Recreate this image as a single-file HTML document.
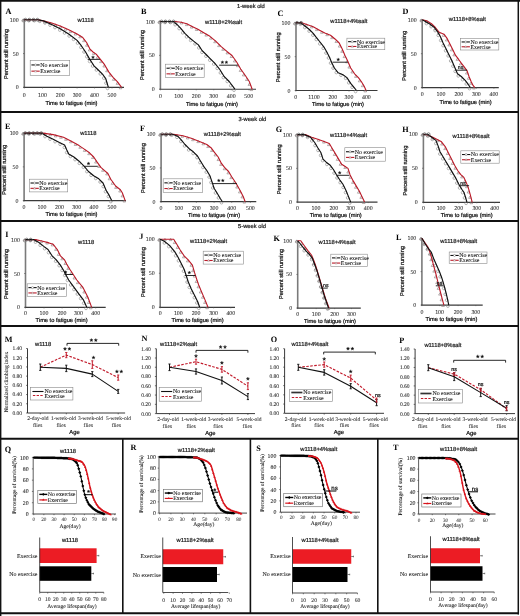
<!DOCTYPE html><html><head><meta charset="utf-8"><style>html,body{margin:0;padding:0;background:#fff;}svg{display:block;will-change:transform;} text{text-rendering:geometricPrecision;}</style></head><body>
<svg width="520" height="616" viewBox="0 0 520 616">
<rect x="0" y="0" width="520" height="616" fill="#fff" stroke="none" stroke-width="0"/>
<text x="5.6" y="13.9" font-size="8.2" font-family='"Liberation Serif", serif' text-anchor="start" fill="#000" font-weight="bold" >A</text>
<text x="77.5" y="22" font-size="5.8" font-family='"Liberation Sans", sans-serif' text-anchor="start" fill="#222" stroke="#222" stroke-width="0.22" >w1118</text>
<line x1="24.3" y1="19.7" x2="24.3" y2="87.4" stroke="#7a7a7a" stroke-width="1.6" />
<line x1="23.5" y1="87.4" x2="124" y2="87.4" stroke="#3a3a3a" stroke-width="1.2" />
<line x1="23" y1="19.7" x2="24.3" y2="19.7" stroke="#555" stroke-width="0.7" />
<text x="18.7" y="21.7" font-size="5.9" font-family='"Liberation Serif", serif' text-anchor="end" fill="#333" stroke="#333" stroke-width="0.08" >100</text>
<line x1="23" y1="53.55" x2="24.3" y2="53.55" stroke="#555" stroke-width="0.7" />
<text x="18.7" y="55.55" font-size="5.9" font-family='"Liberation Serif", serif' text-anchor="end" fill="#333" stroke="#333" stroke-width="0.08" >50</text>
<line x1="23" y1="87.4" x2="24.3" y2="87.4" stroke="#555" stroke-width="0.7" />
<text x="18.7" y="89.4" font-size="5.9" font-family='"Liberation Serif", serif' text-anchor="end" fill="#333" stroke="#333" stroke-width="0.08" >0</text>
<line x1="24.3" y1="87.4" x2="24.3" y2="88.4" stroke="#555" stroke-width="0.7" />
<text x="24.3" y="96.5" font-size="5.9" font-family='"Liberation Serif", serif' text-anchor="middle" fill="#333" stroke="#333" stroke-width="0.08" >0</text>
<line x1="42.5" y1="87.4" x2="42.5" y2="88.4" stroke="#555" stroke-width="0.7" />
<text x="42.5" y="96.5" font-size="5.9" font-family='"Liberation Serif", serif' text-anchor="middle" fill="#333" stroke="#333" stroke-width="0.08" >100</text>
<line x1="60.2" y1="87.4" x2="60.2" y2="88.4" stroke="#555" stroke-width="0.7" />
<text x="60.2" y="96.5" font-size="5.9" font-family='"Liberation Serif", serif' text-anchor="middle" fill="#333" stroke="#333" stroke-width="0.08" >200</text>
<line x1="77.1" y1="87.4" x2="77.1" y2="88.4" stroke="#555" stroke-width="0.7" />
<text x="77.1" y="96.5" font-size="5.9" font-family='"Liberation Serif", serif' text-anchor="middle" fill="#333" stroke="#333" stroke-width="0.08" >300</text>
<line x1="94.5" y1="87.4" x2="94.5" y2="88.4" stroke="#555" stroke-width="0.7" />
<text x="94.5" y="96.5" font-size="5.9" font-family='"Liberation Serif", serif' text-anchor="middle" fill="#333" stroke="#333" stroke-width="0.08" >400</text>
<line x1="112" y1="87.4" x2="112" y2="88.4" stroke="#555" stroke-width="0.7" />
<text x="112" y="96.5" font-size="5.9" font-family='"Liberation Serif", serif' text-anchor="middle" fill="#333" stroke="#333" stroke-width="0.08" >500</text>
<text x="71.5" y="104.6" font-size="5.7" font-family='"Liberation Sans", sans-serif' text-anchor="middle" fill="#111" stroke="#111" stroke-width="0.22" >Time to fatigue (min)</text>
<text x="7.5" y="54" font-size="5.7" font-family='"Liberation Sans", sans-serif' text-anchor="middle" fill="#111" stroke="#111" stroke-width="0.22" transform="rotate(-90 7.5 54)" >Percent still running</text>
<path d="M23.3,18.8 l1.35,2.3 h-2.7 z" fill="none" stroke="#8a7a7a" stroke-width="0.6"/>
<path d="M28.78,18.8 l1.35,2.3 h-2.7 z" fill="none" stroke="#8a7a7a" stroke-width="0.6"/>
<path d="M34.25,18.8 l1.35,2.3 h-2.7 z" fill="none" stroke="#8a7a7a" stroke-width="0.6"/>
<path d="M39.66,19.38 l1.35,2.3 h-2.7 z" fill="none" stroke="#8a7a7a" stroke-width="0.6"/>
<path d="M44.99,20.65 l1.35,2.3 h-2.7 z" fill="none" stroke="#8a7a7a" stroke-width="0.6"/>
<path d="M50.3,21.97 l1.35,2.3 h-2.7 z" fill="none" stroke="#8a7a7a" stroke-width="0.6"/>
<path d="M55.48,23.75 l1.35,2.3 h-2.7 z" fill="none" stroke="#8a7a7a" stroke-width="0.6"/>
<path d="M60.6,25.68 l1.35,2.3 h-2.7 z" fill="none" stroke="#8a7a7a" stroke-width="0.6"/>
<path d="M65.59,27.91 l1.35,2.3 h-2.7 z" fill="none" stroke="#8a7a7a" stroke-width="0.6"/>
<path d="M70.54,30.27 l1.35,2.3 h-2.7 z" fill="none" stroke="#8a7a7a" stroke-width="0.6"/>
<path d="M75.43,32.72 l1.35,2.3 h-2.7 z" fill="none" stroke="#8a7a7a" stroke-width="0.6"/>
<path d="M80.15,35.49 l1.35,2.3 h-2.7 z" fill="none" stroke="#8a7a7a" stroke-width="0.6"/>
<path d="M83.92,39.36 l1.35,2.3 h-2.7 z" fill="none" stroke="#8a7a7a" stroke-width="0.6"/>
<path d="M86.88,43.93 l1.35,2.3 h-2.7 z" fill="none" stroke="#8a7a7a" stroke-width="0.6"/>
<path d="M89.62,48.62 l1.35,2.3 h-2.7 z" fill="none" stroke="#8a7a7a" stroke-width="0.6"/>
<path d="M93.75,52.18 l1.35,2.3 h-2.7 z" fill="none" stroke="#8a7a7a" stroke-width="0.6"/>
<path d="M97.55,56.04 l1.35,2.3 h-2.7 z" fill="none" stroke="#8a7a7a" stroke-width="0.6"/>
<path d="M100.95,60.33 l1.35,2.3 h-2.7 z" fill="none" stroke="#8a7a7a" stroke-width="0.6"/>
<path d="M104.23,64.71 l1.35,2.3 h-2.7 z" fill="none" stroke="#8a7a7a" stroke-width="0.6"/>
<path d="M106.98,69.44 l1.35,2.3 h-2.7 z" fill="none" stroke="#8a7a7a" stroke-width="0.6"/>
<path d="M110.14,73.9 l1.35,2.3 h-2.7 z" fill="none" stroke="#8a7a7a" stroke-width="0.6"/>
<path d="M113.72,78.02 l1.35,2.3 h-2.7 z" fill="none" stroke="#8a7a7a" stroke-width="0.6"/>
<path d="M117.41,82.05 l1.35,2.3 h-2.7 z" fill="none" stroke="#8a7a7a" stroke-width="0.6"/>
<path d="M120.6,86.5 l1.35,2.3 h-2.7 z" fill="none" stroke="#8a7a7a" stroke-width="0.6"/>
<circle cx="23.3" cy="20.7" r="1.35" fill="none" stroke="#858585" stroke-width="0.6"/>
<circle cx="28.8" cy="20.7" r="1.35" fill="none" stroke="#858585" stroke-width="0.6"/>
<circle cx="34.31" cy="20.7" r="1.35" fill="none" stroke="#858585" stroke-width="0.6"/>
<circle cx="39.75" cy="21.3" r="1.35" fill="none" stroke="#858585" stroke-width="0.6"/>
<circle cx="44.96" cy="23" r="1.35" fill="none" stroke="#858585" stroke-width="0.6"/>
<circle cx="50.02" cy="25.16" r="1.35" fill="none" stroke="#858585" stroke-width="0.6"/>
<circle cx="54.95" cy="27.6" r="1.35" fill="none" stroke="#858585" stroke-width="0.6"/>
<circle cx="59.84" cy="30.13" r="1.35" fill="none" stroke="#858585" stroke-width="0.6"/>
<circle cx="64.53" cy="33" r="1.35" fill="none" stroke="#858585" stroke-width="0.6"/>
<circle cx="69.13" cy="36.01" r="1.35" fill="none" stroke="#858585" stroke-width="0.6"/>
<circle cx="73.51" cy="39.35" r="1.35" fill="none" stroke="#858585" stroke-width="0.6"/>
<circle cx="77.52" cy="43.06" r="1.35" fill="none" stroke="#858585" stroke-width="0.6"/>
<circle cx="80.89" cy="47.41" r="1.35" fill="none" stroke="#858585" stroke-width="0.6"/>
<circle cx="83.99" cy="51.96" r="1.35" fill="none" stroke="#858585" stroke-width="0.6"/>
<circle cx="86.8" cy="56.69" r="1.35" fill="none" stroke="#858585" stroke-width="0.6"/>
<circle cx="89.58" cy="61.44" r="1.35" fill="none" stroke="#858585" stroke-width="0.6"/>
<circle cx="92.6" cy="66.04" r="1.35" fill="none" stroke="#858585" stroke-width="0.6"/>
<circle cx="96.39" cy="70.01" r="1.35" fill="none" stroke="#858585" stroke-width="0.6"/>
<circle cx="100.29" cy="73.89" r="1.35" fill="none" stroke="#858585" stroke-width="0.6"/>
<circle cx="103.78" cy="78.13" r="1.35" fill="none" stroke="#858585" stroke-width="0.6"/>
<circle cx="105.9" cy="83.13" r="1.35" fill="none" stroke="#858585" stroke-width="0.6"/>
<circle cx="107.5" cy="88.4" r="1.35" fill="none" stroke="#858585" stroke-width="0.6"/>
<polyline points="24.2,19.7 38,19.7 43.3,20.9 51.7,23 60.2,26 68.7,29.8 77.1,34 82.4,37.2 86.6,42.5 89.8,48.8 93,52 96.2,54.1 100.4,59.4 104.6,64.7 108.9,72.1 113.1,77.4 117.3,81.6 120.5,85.9 121.5,87.4" fill="none" stroke="#bb1a28" stroke-width="1.1" stroke-linejoin="round" />
<polyline points="24.2,19.7 38,19.7 43.3,20.9 51.7,24.5 60.2,28.8 68.7,34 77.1,40.4 81.3,45.7 85.6,52 89.8,59.4 94,65.8 98.3,70 102.5,74.2 105.7,78.5 108.4,87.4" fill="none" stroke="#111" stroke-width="1.15" stroke-linejoin="round" />
<circle cx="25.4" cy="19.7" r="1.45" fill="none" stroke="#555" stroke-width="0.7"/>
<circle cx="29.4" cy="19.7" r="1.45" fill="none" stroke="#555" stroke-width="0.7"/>
<circle cx="33.4" cy="19.7" r="1.45" fill="none" stroke="#555" stroke-width="0.7"/>
<circle cx="37.4" cy="19.7" r="1.45" fill="none" stroke="#555" stroke-width="0.7"/>
<rect x="30.2" y="60.5" width="39.5" height="14.8" fill="#fff" stroke="#8a8a8a" stroke-width="0.6"/>
<line x1="31.4" y1="64.94" x2="39.7" y2="64.94" stroke="#111" stroke-width="1.1" />
<circle cx="35.5" cy="64.94" r="1.05" fill="#fff" stroke="#777" stroke-width="0.5"/>
<line x1="31.4" y1="71.16" x2="39.7" y2="71.16" stroke="#bb1a28" stroke-width="1.1" />
<path d="M35.5,70.06 l1.1,1.9 h-2.2 z" fill="#fff" stroke="#a08080" stroke-width="0.5"/>
<text x="40.2" y="66.84" font-size="5.9" font-family='"Liberation Serif", serif' text-anchor="start" fill="#111" stroke="#111" stroke-width="0.08" >No exercise</text>
<text x="40.2" y="73.06" font-size="5.9" font-family='"Liberation Serif", serif' text-anchor="start" fill="#111" stroke="#111" stroke-width="0.08" >Exercise</text>
<line x1="87.7" y1="59.4" x2="100" y2="59.4" stroke="#111" stroke-width="0.9" />
<path d="M93,55.7 L93.44,56.69 L94.52,56.81 L93.71,57.53 L93.94,58.59 L93,58.05 L92.06,58.59 L92.29,57.53 L91.48,56.81 L92.56,56.69Z" fill="#111" stroke="#111" stroke-width="0.3" stroke-linejoin="round"/>
<text x="141" y="14" font-size="8.2" font-family='"Liberation Serif", serif' text-anchor="start" fill="#000" font-weight="bold" >B</text>
<text x="205" y="23.75" font-size="5.8" font-family='"Liberation Sans", sans-serif' text-anchor="start" fill="#222" stroke="#222" stroke-width="0.22" >w1118+2%salt</text>
<line x1="160.4" y1="21.5" x2="160.4" y2="89.25" stroke="#7a7a7a" stroke-width="1.6" />
<line x1="159.6" y1="89.25" x2="256" y2="89.25" stroke="#3a3a3a" stroke-width="1.2" />
<line x1="159.1" y1="21.5" x2="160.4" y2="21.5" stroke="#555" stroke-width="0.7" />
<text x="154.8" y="23.5" font-size="5.9" font-family='"Liberation Serif", serif' text-anchor="end" fill="#333" stroke="#333" stroke-width="0.08" >100</text>
<line x1="159.1" y1="55.38" x2="160.4" y2="55.38" stroke="#555" stroke-width="0.7" />
<text x="154.8" y="57.38" font-size="5.9" font-family='"Liberation Serif", serif' text-anchor="end" fill="#333" stroke="#333" stroke-width="0.08" >50</text>
<line x1="159.1" y1="89.25" x2="160.4" y2="89.25" stroke="#555" stroke-width="0.7" />
<text x="154.8" y="91.25" font-size="5.9" font-family='"Liberation Serif", serif' text-anchor="end" fill="#333" stroke="#333" stroke-width="0.08" >0</text>
<line x1="160.5" y1="89.25" x2="160.5" y2="90.25" stroke="#555" stroke-width="0.7" />
<text x="160.5" y="97.65" font-size="5.9" font-family='"Liberation Serif", serif' text-anchor="middle" fill="#333" stroke="#333" stroke-width="0.08" >0</text>
<line x1="178.75" y1="89.25" x2="178.75" y2="90.25" stroke="#555" stroke-width="0.7" />
<text x="178.75" y="97.65" font-size="5.9" font-family='"Liberation Serif", serif' text-anchor="middle" fill="#333" stroke="#333" stroke-width="0.08" >100</text>
<line x1="196.25" y1="89.25" x2="196.25" y2="90.25" stroke="#555" stroke-width="0.7" />
<text x="196.25" y="97.65" font-size="5.9" font-family='"Liberation Serif", serif' text-anchor="middle" fill="#333" stroke="#333" stroke-width="0.08" >200</text>
<line x1="213.75" y1="89.25" x2="213.75" y2="90.25" stroke="#555" stroke-width="0.7" />
<text x="213.75" y="97.65" font-size="5.9" font-family='"Liberation Serif", serif' text-anchor="middle" fill="#333" stroke="#333" stroke-width="0.08" >300</text>
<line x1="231.25" y1="89.25" x2="231.25" y2="90.25" stroke="#555" stroke-width="0.7" />
<text x="231.25" y="97.65" font-size="5.9" font-family='"Liberation Serif", serif' text-anchor="middle" fill="#333" stroke="#333" stroke-width="0.08" >400</text>
<line x1="248.75" y1="89.25" x2="248.75" y2="90.25" stroke="#555" stroke-width="0.7" />
<text x="248.75" y="97.65" font-size="5.9" font-family='"Liberation Serif", serif' text-anchor="middle" fill="#333" stroke="#333" stroke-width="0.08" >500</text>
<text x="212" y="105.6" font-size="5.7" font-family='"Liberation Sans", sans-serif' text-anchor="middle" fill="#111" stroke="#111" stroke-width="0.22" >Time to fatigue (min)</text>
<text x="143.5" y="55" font-size="5.7" font-family='"Liberation Sans", sans-serif' text-anchor="middle" fill="#111" stroke="#111" stroke-width="0.22" transform="rotate(-90 143.5 55)" >Percent still running</text>
<path d="M159.4,20.6 l1.35,2.3 h-2.7 z" fill="none" stroke="#8a7a7a" stroke-width="0.6"/>
<path d="M164.94,20.6 l1.35,2.3 h-2.7 z" fill="none" stroke="#8a7a7a" stroke-width="0.6"/>
<path d="M170.48,20.6 l1.35,2.3 h-2.7 z" fill="none" stroke="#8a7a7a" stroke-width="0.6"/>
<path d="M176,20.79 l1.35,2.3 h-2.7 z" fill="none" stroke="#8a7a7a" stroke-width="0.6"/>
<path d="M181.46,21.65 l1.35,2.3 h-2.7 z" fill="none" stroke="#8a7a7a" stroke-width="0.6"/>
<path d="M186.73,23.31 l1.35,2.3 h-2.7 z" fill="none" stroke="#8a7a7a" stroke-width="0.6"/>
<path d="M191.68,25.79 l1.35,2.3 h-2.7 z" fill="none" stroke="#8a7a7a" stroke-width="0.6"/>
<path d="M196.67,28.2 l1.35,2.3 h-2.7 z" fill="none" stroke="#8a7a7a" stroke-width="0.6"/>
<path d="M201.45,30.98 l1.35,2.3 h-2.7 z" fill="none" stroke="#8a7a7a" stroke-width="0.6"/>
<path d="M206.22,33.79 l1.35,2.3 h-2.7 z" fill="none" stroke="#8a7a7a" stroke-width="0.6"/>
<path d="M210.8,36.89 l1.35,2.3 h-2.7 z" fill="none" stroke="#8a7a7a" stroke-width="0.6"/>
<path d="M215.04,40.44 l1.35,2.3 h-2.7 z" fill="none" stroke="#8a7a7a" stroke-width="0.6"/>
<path d="M218.99,44.32 l1.35,2.3 h-2.7 z" fill="none" stroke="#8a7a7a" stroke-width="0.6"/>
<path d="M223.09,48.04 l1.35,2.3 h-2.7 z" fill="none" stroke="#8a7a7a" stroke-width="0.6"/>
<path d="M227.32,51.61 l1.35,2.3 h-2.7 z" fill="none" stroke="#8a7a7a" stroke-width="0.6"/>
<path d="M231.52,55.19 l1.35,2.3 h-2.7 z" fill="none" stroke="#8a7a7a" stroke-width="0.6"/>
<path d="M234.74,59.69 l1.35,2.3 h-2.7 z" fill="none" stroke="#8a7a7a" stroke-width="0.6"/>
<path d="M237.67,64.38 l1.35,2.3 h-2.7 z" fill="none" stroke="#8a7a7a" stroke-width="0.6"/>
<path d="M240.53,69.12 l1.35,2.3 h-2.7 z" fill="none" stroke="#8a7a7a" stroke-width="0.6"/>
<path d="M243.75,73.62 l1.35,2.3 h-2.7 z" fill="none" stroke="#8a7a7a" stroke-width="0.6"/>
<path d="M246.84,78.22 l1.35,2.3 h-2.7 z" fill="none" stroke="#8a7a7a" stroke-width="0.6"/>
<path d="M249.35,83.12 l1.35,2.3 h-2.7 z" fill="none" stroke="#8a7a7a" stroke-width="0.6"/>
<path d="M251.3,88.3 l1.35,2.3 h-2.7 z" fill="none" stroke="#8a7a7a" stroke-width="0.6"/>
<circle cx="159.4" cy="22.5" r="1.35" fill="none" stroke="#858585" stroke-width="0.6"/>
<circle cx="164.93" cy="22.5" r="1.35" fill="none" stroke="#858585" stroke-width="0.6"/>
<circle cx="170.46" cy="22.5" r="1.35" fill="none" stroke="#858585" stroke-width="0.6"/>
<circle cx="175.17" cy="24.75" r="1.35" fill="none" stroke="#858585" stroke-width="0.6"/>
<circle cx="179.13" cy="28.61" r="1.35" fill="none" stroke="#858585" stroke-width="0.6"/>
<circle cx="182.71" cy="32.82" r="1.35" fill="none" stroke="#858585" stroke-width="0.6"/>
<circle cx="186.5" cy="36.84" r="1.35" fill="none" stroke="#858585" stroke-width="0.6"/>
<circle cx="190.68" cy="40.46" r="1.35" fill="none" stroke="#858585" stroke-width="0.6"/>
<circle cx="194.99" cy="43.92" r="1.35" fill="none" stroke="#858585" stroke-width="0.6"/>
<circle cx="198.78" cy="47.85" r="1.35" fill="none" stroke="#858585" stroke-width="0.6"/>
<circle cx="201.97" cy="52.35" r="1.35" fill="none" stroke="#858585" stroke-width="0.6"/>
<circle cx="205.91" cy="56.23" r="1.35" fill="none" stroke="#858585" stroke-width="0.6"/>
<circle cx="209.78" cy="60.18" r="1.35" fill="none" stroke="#858585" stroke-width="0.6"/>
<circle cx="213.69" cy="64.09" r="1.35" fill="none" stroke="#858585" stroke-width="0.6"/>
<circle cx="217.23" cy="68.35" r="1.35" fill="none" stroke="#858585" stroke-width="0.6"/>
<circle cx="220.39" cy="72.87" r="1.35" fill="none" stroke="#858585" stroke-width="0.6"/>
<circle cx="223.32" cy="77.57" r="1.35" fill="none" stroke="#858585" stroke-width="0.6"/>
<circle cx="227.24" cy="81.46" r="1.35" fill="none" stroke="#858585" stroke-width="0.6"/>
<circle cx="230.71" cy="85.75" r="1.35" fill="none" stroke="#858585" stroke-width="0.6"/>
<circle cx="234" cy="90.2" r="1.35" fill="none" stroke="#858585" stroke-width="0.6"/>
<polyline points="160.3,21.5 175.3,21.5 181.1,22.2 186.8,23.8 192.6,26.7 198.4,29.5 204.2,33 209.9,36.3 215.7,41.1 221.5,46.8 227.2,51.7 232,55.5 236.8,62.2 240.7,69 245.5,75.7 249.3,81.5 252.2,89.2" fill="none" stroke="#bb1a28" stroke-width="1.1" stroke-linejoin="round" />
<polyline points="160.3,21.5 173.4,21.5 177.2,24.7 181,28.6 184.9,33.4 188.8,37.2 193.6,41.1 198.4,44.9 202.2,50.7 206.1,54.5 209.9,58.4 214.7,63.2 219.5,69 224.3,76.7 229.2,81.5 234.9,89.2" fill="none" stroke="#111" stroke-width="1.15" stroke-linejoin="round" />
<circle cx="161.5" cy="21.5" r="1.45" fill="none" stroke="#555" stroke-width="0.7"/>
<circle cx="165.5" cy="21.5" r="1.45" fill="none" stroke="#555" stroke-width="0.7"/>
<circle cx="169.5" cy="21.5" r="1.45" fill="none" stroke="#555" stroke-width="0.7"/>
<circle cx="173.5" cy="21.5" r="1.45" fill="none" stroke="#555" stroke-width="0.7"/>
<rect x="165.3" y="64.2" width="38.9" height="13.4" fill="#fff" stroke="#8a8a8a" stroke-width="0.6"/>
<line x1="166.5" y1="68.22" x2="174.8" y2="68.22" stroke="#111" stroke-width="1.1" />
<circle cx="170.6" cy="68.22" r="1.05" fill="#fff" stroke="#777" stroke-width="0.5"/>
<line x1="166.5" y1="73.85" x2="174.8" y2="73.85" stroke="#bb1a28" stroke-width="1.1" />
<path d="M170.6,72.75 l1.1,1.9 h-2.2 z" fill="#fff" stroke="#a08080" stroke-width="0.5"/>
<text x="175.3" y="70.12" font-size="5.9" font-family='"Liberation Serif", serif' text-anchor="start" fill="#111" stroke="#111" stroke-width="0.08" >No exercise</text>
<text x="175.3" y="75.75" font-size="5.9" font-family='"Liberation Serif", serif' text-anchor="start" fill="#111" stroke="#111" stroke-width="0.08" >Exercise</text>
<line x1="219.2" y1="65.2" x2="237.8" y2="65.2" stroke="#111" stroke-width="0.9" />
<path d="M222.4,60.7 L222.84,61.69 L223.92,61.81 L223.11,62.53 L223.34,63.59 L222.4,63.05 L221.46,63.59 L221.69,62.53 L220.88,61.81 L221.96,61.69Z" fill="#111" stroke="#111" stroke-width="0.3" stroke-linejoin="round"/>
<path d="M226.4,60.7 L226.84,61.69 L227.92,61.81 L227.11,62.53 L227.34,63.59 L226.4,63.05 L225.46,63.59 L225.69,62.53 L224.88,61.81 L225.96,61.69Z" fill="#111" stroke="#111" stroke-width="0.3" stroke-linejoin="round"/>
<text x="277.5" y="15.8" font-size="8.2" font-family='"Liberation Serif", serif' text-anchor="start" fill="#000" font-weight="bold" >C</text>
<text x="330.3" y="23.3" font-size="5.8" font-family='"Liberation Sans", sans-serif' text-anchor="start" fill="#222" stroke="#222" stroke-width="0.22" >w1118+4%salt</text>
<line x1="296" y1="22.8" x2="296" y2="90.5" stroke="#7a7a7a" stroke-width="1.6" />
<line x1="295.2" y1="90.5" x2="377.5" y2="90.5" stroke="#3a3a3a" stroke-width="1.2" />
<line x1="294.7" y1="22.8" x2="296" y2="22.8" stroke="#555" stroke-width="0.7" />
<text x="290.4" y="24.8" font-size="5.9" font-family='"Liberation Serif", serif' text-anchor="end" fill="#333" stroke="#333" stroke-width="0.08" >100</text>
<line x1="294.7" y1="56.65" x2="296" y2="56.65" stroke="#555" stroke-width="0.7" />
<text x="290.4" y="58.65" font-size="5.9" font-family='"Liberation Serif", serif' text-anchor="end" fill="#333" stroke="#333" stroke-width="0.08" >50</text>
<line x1="294.7" y1="90.5" x2="296" y2="90.5" stroke="#555" stroke-width="0.7" />
<text x="290.4" y="92.5" font-size="5.9" font-family='"Liberation Serif", serif' text-anchor="end" fill="#333" stroke="#333" stroke-width="0.08" >0</text>
<line x1="295.8" y1="90.5" x2="295.8" y2="91.5" stroke="#555" stroke-width="0.7" />
<text x="295.8" y="98.9" font-size="5.9" font-family='"Liberation Serif", serif' text-anchor="middle" fill="#333" stroke="#333" stroke-width="0.08" >0</text>
<line x1="314" y1="90.5" x2="314" y2="91.5" stroke="#555" stroke-width="0.7" />
<text x="314" y="98.9" font-size="5.9" font-family='"Liberation Serif", serif' text-anchor="middle" fill="#333" stroke="#333" stroke-width="0.08" >1100</text>
<line x1="332.8" y1="90.5" x2="332.8" y2="91.5" stroke="#555" stroke-width="0.7" />
<text x="332.8" y="98.9" font-size="5.9" font-family='"Liberation Serif", serif' text-anchor="middle" fill="#333" stroke="#333" stroke-width="0.08" >200</text>
<line x1="349" y1="90.5" x2="349" y2="91.5" stroke="#555" stroke-width="0.7" />
<text x="349" y="98.9" font-size="5.9" font-family='"Liberation Serif", serif' text-anchor="middle" fill="#333" stroke="#333" stroke-width="0.08" >300</text>
<line x1="366.4" y1="90.5" x2="366.4" y2="91.5" stroke="#555" stroke-width="0.7" />
<text x="366.4" y="98.9" font-size="5.9" font-family='"Liberation Serif", serif' text-anchor="middle" fill="#333" stroke="#333" stroke-width="0.08" >400</text>
<text x="338" y="106.4" font-size="5.7" font-family='"Liberation Sans", sans-serif' text-anchor="middle" fill="#111" stroke="#111" stroke-width="0.22" >Time to fatigue (min)</text>
<text x="280.3" y="57.3" font-size="5.7" font-family='"Liberation Sans", sans-serif' text-anchor="middle" fill="#111" stroke="#111" stroke-width="0.22" transform="rotate(-90 280.3 57.3)" >Percent still running</text>
<path d="M295,21.9 l1.35,2.3 h-2.7 z" fill="none" stroke="#8a7a7a" stroke-width="0.6"/>
<path d="M300.77,21.9 l1.35,2.3 h-2.7 z" fill="none" stroke="#8a7a7a" stroke-width="0.6"/>
<path d="M306.26,23.69 l1.35,2.3 h-2.7 z" fill="none" stroke="#8a7a7a" stroke-width="0.6"/>
<path d="M311.71,25.59 l1.35,2.3 h-2.7 z" fill="none" stroke="#8a7a7a" stroke-width="0.6"/>
<path d="M316.8,28.28 l1.35,2.3 h-2.7 z" fill="none" stroke="#8a7a7a" stroke-width="0.6"/>
<path d="M321.88,31.02 l1.35,2.3 h-2.7 z" fill="none" stroke="#8a7a7a" stroke-width="0.6"/>
<path d="M327.13,33.4 l1.35,2.3 h-2.7 z" fill="none" stroke="#8a7a7a" stroke-width="0.6"/>
<path d="M332.01,36.36 l1.35,2.3 h-2.7 z" fill="none" stroke="#8a7a7a" stroke-width="0.6"/>
<path d="M336.33,40.18 l1.35,2.3 h-2.7 z" fill="none" stroke="#8a7a7a" stroke-width="0.6"/>
<path d="M339.65,44.8 l1.35,2.3 h-2.7 z" fill="none" stroke="#8a7a7a" stroke-width="0.6"/>
<path d="M342.12,50.02 l1.35,2.3 h-2.7 z" fill="none" stroke="#8a7a7a" stroke-width="0.6"/>
<path d="M344.44,55.3 l1.35,2.3 h-2.7 z" fill="none" stroke="#8a7a7a" stroke-width="0.6"/>
<path d="M346.94,60.5 l1.35,2.3 h-2.7 z" fill="none" stroke="#8a7a7a" stroke-width="0.6"/>
<path d="M349.24,65.8 l1.35,2.3 h-2.7 z" fill="none" stroke="#8a7a7a" stroke-width="0.6"/>
<path d="M352.23,70.71 l1.35,2.3 h-2.7 z" fill="none" stroke="#8a7a7a" stroke-width="0.6"/>
<path d="M355.92,75.12 l1.35,2.3 h-2.7 z" fill="none" stroke="#8a7a7a" stroke-width="0.6"/>
<path d="M359.61,79.54 l1.35,2.3 h-2.7 z" fill="none" stroke="#8a7a7a" stroke-width="0.6"/>
<path d="M362.7,84.41 l1.35,2.3 h-2.7 z" fill="none" stroke="#8a7a7a" stroke-width="0.6"/>
<path d="M365.2,89.6 l1.35,2.3 h-2.7 z" fill="none" stroke="#8a7a7a" stroke-width="0.6"/>
<circle cx="295" cy="23.8" r="1.35" fill="none" stroke="#858585" stroke-width="0.6"/>
<circle cx="300.4" cy="24.25" r="1.35" fill="none" stroke="#858585" stroke-width="0.6"/>
<circle cx="304.82" cy="27.59" r="1.35" fill="none" stroke="#858585" stroke-width="0.6"/>
<circle cx="309.1" cy="31.11" r="1.35" fill="none" stroke="#858585" stroke-width="0.6"/>
<circle cx="312.88" cy="35.16" r="1.35" fill="none" stroke="#858585" stroke-width="0.6"/>
<circle cx="316.29" cy="39.54" r="1.35" fill="none" stroke="#858585" stroke-width="0.6"/>
<circle cx="319.78" cy="43.85" r="1.35" fill="none" stroke="#858585" stroke-width="0.6"/>
<circle cx="323.16" cy="48.24" r="1.35" fill="none" stroke="#858585" stroke-width="0.6"/>
<circle cx="325.97" cy="53.03" r="1.35" fill="none" stroke="#858585" stroke-width="0.6"/>
<circle cx="328.48" cy="57.97" r="1.35" fill="none" stroke="#858585" stroke-width="0.6"/>
<circle cx="330.56" cy="63.11" r="1.35" fill="none" stroke="#858585" stroke-width="0.6"/>
<circle cx="333.04" cy="68.07" r="1.35" fill="none" stroke="#858585" stroke-width="0.6"/>
<circle cx="336.3" cy="72.54" r="1.35" fill="none" stroke="#858585" stroke-width="0.6"/>
<circle cx="340.96" cy="75.25" r="1.35" fill="none" stroke="#858585" stroke-width="0.6"/>
<circle cx="345.57" cy="78.28" r="1.35" fill="none" stroke="#858585" stroke-width="0.6"/>
<circle cx="348.74" cy="82.79" r="1.35" fill="none" stroke="#858585" stroke-width="0.6"/>
<circle cx="352.08" cy="87.21" r="1.35" fill="none" stroke="#858585" stroke-width="0.6"/>
<circle cx="355.6" cy="91.5" r="1.35" fill="none" stroke="#858585" stroke-width="0.6"/>
<polyline points="295.9,22.8 301.7,22.8 307.5,24.7 313.2,26.7 319,29.9 324.8,33 330.5,35.3 335.3,39.2 339.2,43 342.1,48.8 345,55.5 347.8,61.3 350.7,68 354.6,73.8 358.4,77.6 361.3,81.5 364.2,86.3 366.1,90.5" fill="none" stroke="#bb1a28" stroke-width="1.1" stroke-linejoin="round" />
<polyline points="295.9,22.8 300.7,22.8 304.6,25.7 309.4,29.5 313.2,33.4 316.1,37.2 320,42 323.8,46.8 326.7,51.7 329.6,57.4 331.5,62.2 334.4,68 338.2,72.8 343,74.7 346.9,77.6 350.7,83.4 354.6,88.2 356.5,90.5" fill="none" stroke="#111" stroke-width="1.15" stroke-linejoin="round" />
<circle cx="297.1" cy="22.8" r="1.45" fill="none" stroke="#555" stroke-width="0.7"/>
<circle cx="301.1" cy="22.8" r="1.45" fill="none" stroke="#555" stroke-width="0.7"/>
<rect x="346.9" y="38.2" width="37.9" height="11.5" fill="#fff" stroke="#8a8a8a" stroke-width="0.6"/>
<line x1="348.1" y1="41.65" x2="356.4" y2="41.65" stroke="#111" stroke-width="1.1" />
<circle cx="352.2" cy="41.65" r="1.05" fill="#fff" stroke="#777" stroke-width="0.5"/>
<line x1="348.1" y1="46.48" x2="356.4" y2="46.48" stroke="#bb1a28" stroke-width="1.1" />
<path d="M352.2,45.38 l1.1,1.9 h-2.2 z" fill="#fff" stroke="#a08080" stroke-width="0.5"/>
<text x="356.9" y="43.55" font-size="5.9" font-family='"Liberation Serif", serif' text-anchor="start" fill="#111" stroke="#111" stroke-width="0.08" >No exercise</text>
<text x="356.9" y="48.38" font-size="5.9" font-family='"Liberation Serif", serif' text-anchor="start" fill="#111" stroke="#111" stroke-width="0.08" >Exercise</text>
<line x1="332.5" y1="62.2" x2="347.8" y2="62.2" stroke="#111" stroke-width="0.9" />
<path d="M338.2,57.9 L338.64,58.89 L339.72,59.01 L338.91,59.73 L339.14,60.79 L338.2,60.25 L337.26,60.79 L337.49,59.73 L336.68,59.01 L337.76,58.89Z" fill="#111" stroke="#111" stroke-width="0.3" stroke-linejoin="round"/>
<text x="402.6" y="13.9" font-size="8.2" font-family='"Liberation Serif", serif' text-anchor="start" fill="#000" font-weight="bold" >D</text>
<text x="448.75" y="20.75" font-size="5.8" font-family='"Liberation Sans", sans-serif' text-anchor="start" fill="#222" stroke="#222" stroke-width="0.22" >w1118+8%salt</text>
<line x1="422.2" y1="19.8" x2="422.2" y2="87.6" stroke="#7a7a7a" stroke-width="1.6" />
<line x1="421.4" y1="87.6" x2="498.8" y2="87.6" stroke="#3a3a3a" stroke-width="1.2" />
<line x1="420.9" y1="19.8" x2="422.2" y2="19.8" stroke="#555" stroke-width="0.7" />
<text x="416.6" y="21.8" font-size="5.9" font-family='"Liberation Serif", serif' text-anchor="end" fill="#333" stroke="#333" stroke-width="0.08" >100</text>
<line x1="420.9" y1="53.7" x2="422.2" y2="53.7" stroke="#555" stroke-width="0.7" />
<text x="416.6" y="55.7" font-size="5.9" font-family='"Liberation Serif", serif' text-anchor="end" fill="#333" stroke="#333" stroke-width="0.08" >50</text>
<line x1="420.9" y1="87.6" x2="422.2" y2="87.6" stroke="#555" stroke-width="0.7" />
<text x="416.6" y="89.6" font-size="5.9" font-family='"Liberation Serif", serif' text-anchor="end" fill="#333" stroke="#333" stroke-width="0.08" >0</text>
<line x1="422.3" y1="87.6" x2="422.3" y2="88.6" stroke="#555" stroke-width="0.7" />
<text x="422.3" y="96.4" font-size="5.9" font-family='"Liberation Serif", serif' text-anchor="middle" fill="#333" stroke="#333" stroke-width="0.08" >0</text>
<line x1="441" y1="87.6" x2="441" y2="88.6" stroke="#555" stroke-width="0.7" />
<text x="441" y="96.4" font-size="5.9" font-family='"Liberation Serif", serif' text-anchor="middle" fill="#333" stroke="#333" stroke-width="0.08" >100</text>
<line x1="458.8" y1="87.6" x2="458.8" y2="88.6" stroke="#555" stroke-width="0.7" />
<text x="458.8" y="96.4" font-size="5.9" font-family='"Liberation Serif", serif' text-anchor="middle" fill="#333" stroke="#333" stroke-width="0.08" >200</text>
<line x1="476.4" y1="87.6" x2="476.4" y2="88.6" stroke="#555" stroke-width="0.7" />
<text x="476.4" y="96.4" font-size="5.9" font-family='"Liberation Serif", serif' text-anchor="middle" fill="#333" stroke="#333" stroke-width="0.08" >300</text>
<line x1="493.9" y1="87.6" x2="493.9" y2="88.6" stroke="#555" stroke-width="0.7" />
<text x="493.9" y="96.4" font-size="5.9" font-family='"Liberation Serif", serif' text-anchor="middle" fill="#333" stroke="#333" stroke-width="0.08" >400</text>
<text x="465.6" y="104" font-size="5.7" font-family='"Liberation Sans", sans-serif' text-anchor="middle" fill="#111" stroke="#111" stroke-width="0.22" >Time to fatigue (min)</text>
<text x="406.5" y="55.8" font-size="5.7" font-family='"Liberation Sans", sans-serif' text-anchor="middle" fill="#111" stroke="#111" stroke-width="0.22" transform="rotate(-90 406.5 55.8)" >Percent still running</text>
<path d="M421.4,18.9 l1.35,2.3 h-2.7 z" fill="none" stroke="#8a7a7a" stroke-width="0.6"/>
<path d="M426.69,20.44 l1.35,2.3 h-2.7 z" fill="none" stroke="#8a7a7a" stroke-width="0.6"/>
<path d="M431.31,23.49 l1.35,2.3 h-2.7 z" fill="none" stroke="#8a7a7a" stroke-width="0.6"/>
<path d="M435.19,27.47 l1.35,2.3 h-2.7 z" fill="none" stroke="#8a7a7a" stroke-width="0.6"/>
<path d="M438.8,31.6 l1.35,2.3 h-2.7 z" fill="none" stroke="#8a7a7a" stroke-width="0.6"/>
<path d="M443.66,34.05 l1.35,2.3 h-2.7 z" fill="none" stroke="#8a7a7a" stroke-width="0.6"/>
<path d="M446.74,38.65 l1.35,2.3 h-2.7 z" fill="none" stroke="#8a7a7a" stroke-width="0.6"/>
<path d="M449.25,43.61 l1.35,2.3 h-2.7 z" fill="none" stroke="#8a7a7a" stroke-width="0.6"/>
<path d="M451.74,48.58 l1.35,2.3 h-2.7 z" fill="none" stroke="#8a7a7a" stroke-width="0.6"/>
<path d="M454.22,53.55 l1.35,2.3 h-2.7 z" fill="none" stroke="#8a7a7a" stroke-width="0.6"/>
<path d="M457.42,58.07 l1.35,2.3 h-2.7 z" fill="none" stroke="#8a7a7a" stroke-width="0.6"/>
<path d="M460.68,62.57 l1.35,2.3 h-2.7 z" fill="none" stroke="#8a7a7a" stroke-width="0.6"/>
<path d="M464.04,67 l1.35,2.3 h-2.7 z" fill="none" stroke="#8a7a7a" stroke-width="0.6"/>
<path d="M466.81,71.74 l1.35,2.3 h-2.7 z" fill="none" stroke="#8a7a7a" stroke-width="0.6"/>
<path d="M468.67,76.97 l1.35,2.3 h-2.7 z" fill="none" stroke="#8a7a7a" stroke-width="0.6"/>
<path d="M470.91,82.06 l1.35,2.3 h-2.7 z" fill="none" stroke="#8a7a7a" stroke-width="0.6"/>
<path d="M473.9,86.7 l1.35,2.3 h-2.7 z" fill="none" stroke="#8a7a7a" stroke-width="0.6"/>
<circle cx="421.4" cy="20.8" r="1.35" fill="none" stroke="#858585" stroke-width="0.6"/>
<circle cx="426.36" cy="23.58" r="1.35" fill="none" stroke="#858585" stroke-width="0.6"/>
<circle cx="431.12" cy="26.68" r="1.35" fill="none" stroke="#858585" stroke-width="0.6"/>
<circle cx="435.13" cy="30.63" r="1.35" fill="none" stroke="#858585" stroke-width="0.6"/>
<circle cx="438.23" cy="35.39" r="1.35" fill="none" stroke="#858585" stroke-width="0.6"/>
<circle cx="440.72" cy="40.49" r="1.35" fill="none" stroke="#858585" stroke-width="0.6"/>
<circle cx="443.08" cy="45.66" r="1.35" fill="none" stroke="#858585" stroke-width="0.6"/>
<circle cx="445.61" cy="50.75" r="1.35" fill="none" stroke="#858585" stroke-width="0.6"/>
<circle cx="448.12" cy="55.85" r="1.35" fill="none" stroke="#858585" stroke-width="0.6"/>
<circle cx="450.67" cy="60.93" r="1.35" fill="none" stroke="#858585" stroke-width="0.6"/>
<circle cx="452.94" cy="66.14" r="1.35" fill="none" stroke="#858585" stroke-width="0.6"/>
<circle cx="455.18" cy="71.37" r="1.35" fill="none" stroke="#858585" stroke-width="0.6"/>
<circle cx="458.26" cy="75.92" r="1.35" fill="none" stroke="#858585" stroke-width="0.6"/>
<circle cx="462.54" cy="79.64" r="1.35" fill="none" stroke="#858585" stroke-width="0.6"/>
<circle cx="466.24" cy="83.94" r="1.35" fill="none" stroke="#858585" stroke-width="0.6"/>
<circle cx="469.5" cy="88.6" r="1.35" fill="none" stroke="#858585" stroke-width="0.6"/>
<polyline points="422.3,19.8 426.7,20.8 431.5,23.7 435.4,27.5 439.2,32.3 444,34.2 446.9,38.1 449.8,43.8 452.7,49.6 455.6,55.4 458.5,59.2 461.3,63.1 464.2,66.9 467.1,70.8 469,76.5 471,81.3 472.9,85.2 474.8,87.6" fill="none" stroke="#bb1a28" stroke-width="1.1" stroke-linejoin="round" />
<polyline points="422.3,19.8 425.8,21.7 430.6,24.6 434.4,27.5 437.3,31.3 440.2,36.2 443.1,42.9 446,48.7 448.8,54.4 451.7,60.2 454.6,66.9 457.5,73.7 461.3,76.5 465.2,80.4 468.1,84.2 470.4,87.6" fill="none" stroke="#111" stroke-width="1.15" stroke-linejoin="round" />
<rect x="460.4" y="38.5" width="38.4" height="11.5" fill="#fff" stroke="#8a8a8a" stroke-width="0.6"/>
<line x1="461.6" y1="41.95" x2="469.9" y2="41.95" stroke="#111" stroke-width="1.1" />
<circle cx="465.7" cy="41.95" r="1.05" fill="#fff" stroke="#777" stroke-width="0.5"/>
<line x1="461.6" y1="46.78" x2="469.9" y2="46.78" stroke="#bb1a28" stroke-width="1.1" />
<path d="M465.7,45.68 l1.1,1.9 h-2.2 z" fill="#fff" stroke="#a08080" stroke-width="0.5"/>
<text x="470.4" y="43.85" font-size="5.9" font-family='"Liberation Serif", serif' text-anchor="start" fill="#111" stroke="#111" stroke-width="0.08" >No exercise</text>
<text x="470.4" y="48.68" font-size="5.9" font-family='"Liberation Serif", serif' text-anchor="start" fill="#111" stroke="#111" stroke-width="0.08" >Exercise</text>
<line x1="455.6" y1="70.2" x2="467.1" y2="70.2" stroke="#111" stroke-width="0.9" />
<text x="460.5" y="68.6" font-size="5.2" font-family='"Liberation Sans", sans-serif' text-anchor="middle" fill="#111" stroke="#111" stroke-width="0.22" >ns</text>
<text x="5" y="129" font-size="8.2" font-family='"Liberation Serif", serif' text-anchor="start" fill="#000" font-weight="bold" >E</text>
<text x="80.2" y="135.25" font-size="5.8" font-family='"Liberation Sans", sans-serif' text-anchor="start" fill="#222" stroke="#222" stroke-width="0.22" >w1118</text>
<line x1="24.1" y1="133.1" x2="24.1" y2="200.6" stroke="#7a7a7a" stroke-width="1.6" />
<line x1="23.3" y1="200.6" x2="126" y2="200.6" stroke="#3a3a3a" stroke-width="1.2" />
<line x1="22.8" y1="133.1" x2="24.1" y2="133.1" stroke="#555" stroke-width="0.7" />
<text x="18.5" y="135.1" font-size="5.9" font-family='"Liberation Serif", serif' text-anchor="end" fill="#333" stroke="#333" stroke-width="0.08" >100</text>
<line x1="22.8" y1="166.85" x2="24.1" y2="166.85" stroke="#555" stroke-width="0.7" />
<text x="18.5" y="168.85" font-size="5.9" font-family='"Liberation Serif", serif' text-anchor="end" fill="#333" stroke="#333" stroke-width="0.08" >50</text>
<line x1="22.8" y1="200.6" x2="24.1" y2="200.6" stroke="#555" stroke-width="0.7" />
<text x="18.5" y="202.6" font-size="5.9" font-family='"Liberation Serif", serif' text-anchor="end" fill="#333" stroke="#333" stroke-width="0.08" >0</text>
<line x1="23.9" y1="200.6" x2="23.9" y2="201.6" stroke="#555" stroke-width="0.7" />
<text x="23.9" y="209.1" font-size="5.9" font-family='"Liberation Serif", serif' text-anchor="middle" fill="#333" stroke="#333" stroke-width="0.08" >0</text>
<line x1="42" y1="200.6" x2="42" y2="201.6" stroke="#555" stroke-width="0.7" />
<text x="42" y="209.1" font-size="5.9" font-family='"Liberation Serif", serif' text-anchor="middle" fill="#333" stroke="#333" stroke-width="0.08" >100</text>
<line x1="59.5" y1="200.6" x2="59.5" y2="201.6" stroke="#555" stroke-width="0.7" />
<text x="59.5" y="209.1" font-size="5.9" font-family='"Liberation Serif", serif' text-anchor="middle" fill="#333" stroke="#333" stroke-width="0.08" >200</text>
<line x1="76.7" y1="200.6" x2="76.7" y2="201.6" stroke="#555" stroke-width="0.7" />
<text x="76.7" y="209.1" font-size="5.9" font-family='"Liberation Serif", serif' text-anchor="middle" fill="#333" stroke="#333" stroke-width="0.08" >300</text>
<line x1="94" y1="200.6" x2="94" y2="201.6" stroke="#555" stroke-width="0.7" />
<text x="94" y="209.1" font-size="5.9" font-family='"Liberation Serif", serif' text-anchor="middle" fill="#333" stroke="#333" stroke-width="0.08" >400</text>
<line x1="112" y1="200.6" x2="112" y2="201.6" stroke="#555" stroke-width="0.7" />
<text x="112" y="209.1" font-size="5.9" font-family='"Liberation Serif", serif' text-anchor="middle" fill="#333" stroke="#333" stroke-width="0.08" >500</text>
<text x="71.5" y="216.3" font-size="5.7" font-family='"Liberation Sans", sans-serif' text-anchor="middle" fill="#111" stroke="#111" stroke-width="0.22" >Time to fatigue (min)</text>
<text x="5.9" y="169.8" font-size="5.7" font-family='"Liberation Sans", sans-serif' text-anchor="middle" fill="#111" stroke="#111" stroke-width="0.22" transform="rotate(-90 5.9 169.8)" >Percent still running</text>
<path d="M23.2,132.2 l1.35,2.3 h-2.7 z" fill="none" stroke="#8a7a7a" stroke-width="0.6"/>
<path d="M28.65,132.2 l1.35,2.3 h-2.7 z" fill="none" stroke="#8a7a7a" stroke-width="0.6"/>
<path d="M34.1,132.2 l1.35,2.3 h-2.7 z" fill="none" stroke="#8a7a7a" stroke-width="0.6"/>
<path d="M39.55,132.2 l1.35,2.3 h-2.7 z" fill="none" stroke="#8a7a7a" stroke-width="0.6"/>
<path d="M44.97,132.64 l1.35,2.3 h-2.7 z" fill="none" stroke="#8a7a7a" stroke-width="0.6"/>
<path d="M50.36,133.42 l1.35,2.3 h-2.7 z" fill="none" stroke="#8a7a7a" stroke-width="0.6"/>
<path d="M55.67,134.58 l1.35,2.3 h-2.7 z" fill="none" stroke="#8a7a7a" stroke-width="0.6"/>
<path d="M60.95,135.97 l1.35,2.3 h-2.7 z" fill="none" stroke="#8a7a7a" stroke-width="0.6"/>
<path d="M65.95,138.06 l1.35,2.3 h-2.7 z" fill="none" stroke="#8a7a7a" stroke-width="0.6"/>
<path d="M70.84,140.47 l1.35,2.3 h-2.7 z" fill="none" stroke="#8a7a7a" stroke-width="0.6"/>
<path d="M75.56,143.18 l1.35,2.3 h-2.7 z" fill="none" stroke="#8a7a7a" stroke-width="0.6"/>
<path d="M80.2,146.04 l1.35,2.3 h-2.7 z" fill="none" stroke="#8a7a7a" stroke-width="0.6"/>
<path d="M84.69,149.12 l1.35,2.3 h-2.7 z" fill="none" stroke="#8a7a7a" stroke-width="0.6"/>
<path d="M89.06,152.36 l1.35,2.3 h-2.7 z" fill="none" stroke="#8a7a7a" stroke-width="0.6"/>
<path d="M92.89,156.24 l1.35,2.3 h-2.7 z" fill="none" stroke="#8a7a7a" stroke-width="0.6"/>
<path d="M95.94,160.76 l1.35,2.3 h-2.7 z" fill="none" stroke="#8a7a7a" stroke-width="0.6"/>
<path d="M99.08,165.2 l1.35,2.3 h-2.7 z" fill="none" stroke="#8a7a7a" stroke-width="0.6"/>
<path d="M102.92,169.03 l1.35,2.3 h-2.7 z" fill="none" stroke="#8a7a7a" stroke-width="0.6"/>
<path d="M107.01,172.62 l1.35,2.3 h-2.7 z" fill="none" stroke="#8a7a7a" stroke-width="0.6"/>
<path d="M109.48,177.48 l1.35,2.3 h-2.7 z" fill="none" stroke="#8a7a7a" stroke-width="0.6"/>
<path d="M112.51,182 l1.35,2.3 h-2.7 z" fill="none" stroke="#8a7a7a" stroke-width="0.6"/>
<path d="M116,186.13 l1.35,2.3 h-2.7 z" fill="none" stroke="#8a7a7a" stroke-width="0.6"/>
<path d="M120.04,189.72 l1.35,2.3 h-2.7 z" fill="none" stroke="#8a7a7a" stroke-width="0.6"/>
<path d="M122.42,194.58 l1.35,2.3 h-2.7 z" fill="none" stroke="#8a7a7a" stroke-width="0.6"/>
<path d="M124.3,199.7 l1.35,2.3 h-2.7 z" fill="none" stroke="#8a7a7a" stroke-width="0.6"/>
<circle cx="23.2" cy="134.1" r="1.35" fill="none" stroke="#858585" stroke-width="0.6"/>
<circle cx="28.83" cy="134.1" r="1.35" fill="none" stroke="#858585" stroke-width="0.6"/>
<circle cx="34.46" cy="134.1" r="1.35" fill="none" stroke="#858585" stroke-width="0.6"/>
<circle cx="40.08" cy="134.1" r="1.35" fill="none" stroke="#858585" stroke-width="0.6"/>
<circle cx="45.02" cy="136.61" r="1.35" fill="none" stroke="#858585" stroke-width="0.6"/>
<circle cx="50.02" cy="139.18" r="1.35" fill="none" stroke="#858585" stroke-width="0.6"/>
<circle cx="55.05" cy="141.72" r="1.35" fill="none" stroke="#858585" stroke-width="0.6"/>
<circle cx="60.07" cy="144.25" r="1.35" fill="none" stroke="#858585" stroke-width="0.6"/>
<circle cx="64.35" cy="147.46" r="1.35" fill="none" stroke="#858585" stroke-width="0.6"/>
<circle cx="66.69" cy="152.58" r="1.35" fill="none" stroke="#858585" stroke-width="0.6"/>
<circle cx="70.42" cy="156.46" r="1.35" fill="none" stroke="#858585" stroke-width="0.6"/>
<circle cx="75.05" cy="159.65" r="1.35" fill="none" stroke="#858585" stroke-width="0.6"/>
<circle cx="79.32" cy="163.3" r="1.35" fill="none" stroke="#858585" stroke-width="0.6"/>
<circle cx="83.34" cy="167.24" r="1.35" fill="none" stroke="#858585" stroke-width="0.6"/>
<circle cx="86.88" cy="171.61" r="1.35" fill="none" stroke="#858585" stroke-width="0.6"/>
<circle cx="91.09" cy="175.32" r="1.35" fill="none" stroke="#858585" stroke-width="0.6"/>
<circle cx="95.73" cy="178.48" r="1.35" fill="none" stroke="#858585" stroke-width="0.6"/>
<circle cx="100.09" cy="181.99" r="1.35" fill="none" stroke="#858585" stroke-width="0.6"/>
<circle cx="103.2" cy="186.55" r="1.35" fill="none" stroke="#858585" stroke-width="0.6"/>
<circle cx="105.49" cy="191.69" r="1.35" fill="none" stroke="#858585" stroke-width="0.6"/>
<circle cx="108.36" cy="196.53" r="1.35" fill="none" stroke="#858585" stroke-width="0.6"/>
<circle cx="110.8" cy="201.6" r="1.35" fill="none" stroke="#858585" stroke-width="0.6"/>
<polyline points="24.1,133.1 42.8,133.1 53.2,134.6 63.5,137.3 71.8,141.4 79.1,145.6 84.3,149.1 89.5,152.8 93.7,157 96.8,161.6 100.9,167.4 104.6,170.6 107.9,173.5 110.8,179.2 115.6,186 120.4,189.8 122.3,192.7 125.2,200.6" fill="none" stroke="#bb1a28" stroke-width="1.1" stroke-linejoin="round" />
<polyline points="24.1,133.1 41.7,133.1 46.9,136.2 53.2,139.3 59.4,142.5 64.6,145 66.7,149.7 68.7,153.9 73.9,157 79.1,161.2 84.3,166.3 88.5,171.5 93.7,175.7 98.8,178.8 103,183 106.1,190.2 109.2,195.4 111.7,200.6" fill="none" stroke="#111" stroke-width="1.15" stroke-linejoin="round" />
<circle cx="25.3" cy="133.1" r="1.45" fill="none" stroke="#555" stroke-width="0.7"/>
<circle cx="29.3" cy="133.1" r="1.45" fill="none" stroke="#555" stroke-width="0.7"/>
<circle cx="33.3" cy="133.1" r="1.45" fill="none" stroke="#555" stroke-width="0.7"/>
<circle cx="37.3" cy="133.1" r="1.45" fill="none" stroke="#555" stroke-width="0.7"/>
<circle cx="41.3" cy="133.1" r="1.45" fill="none" stroke="#555" stroke-width="0.7"/>
<rect x="29.3" y="179.2" width="38.4" height="12.7" fill="#fff" stroke="#8a8a8a" stroke-width="0.6"/>
<line x1="30.5" y1="183.01" x2="38.8" y2="183.01" stroke="#111" stroke-width="1.1" />
<circle cx="34.6" cy="183.01" r="1.05" fill="#fff" stroke="#777" stroke-width="0.5"/>
<line x1="30.5" y1="188.34" x2="38.8" y2="188.34" stroke="#bb1a28" stroke-width="1.1" />
<path d="M34.6,187.24 l1.1,1.9 h-2.2 z" fill="#fff" stroke="#a08080" stroke-width="0.5"/>
<text x="39.3" y="184.91" font-size="5.9" font-family='"Liberation Serif", serif' text-anchor="start" fill="#111" stroke="#111" stroke-width="0.08" >No exercise</text>
<text x="39.3" y="190.24" font-size="5.9" font-family='"Liberation Serif", serif' text-anchor="start" fill="#111" stroke="#111" stroke-width="0.08" >Exercise</text>
<line x1="84.3" y1="166.3" x2="97.8" y2="166.3" stroke="#111" stroke-width="0.9" />
<path d="M88.5,161.9 L88.94,162.89 L90.02,163.01 L89.21,163.73 L89.44,164.79 L88.5,164.25 L87.56,164.79 L87.79,163.73 L86.98,163.01 L88.06,162.89Z" fill="#111" stroke="#111" stroke-width="0.3" stroke-linejoin="round"/>
<text x="140" y="130.75" font-size="8.2" font-family='"Liberation Serif", serif' text-anchor="start" fill="#000" font-weight="bold" >F</text>
<text x="203.75" y="136" font-size="5.8" font-family='"Liberation Sans", sans-serif' text-anchor="start" fill="#222" stroke="#222" stroke-width="0.22" >w1118+2%salt</text>
<line x1="161.1" y1="134.2" x2="161.1" y2="201.7" stroke="#7a7a7a" stroke-width="1.6" />
<line x1="160.3" y1="201.7" x2="256.25" y2="201.7" stroke="#3a3a3a" stroke-width="1.2" />
<line x1="159.8" y1="134.2" x2="161.1" y2="134.2" stroke="#555" stroke-width="0.7" />
<text x="155.5" y="136.2" font-size="5.9" font-family='"Liberation Serif", serif' text-anchor="end" fill="#333" stroke="#333" stroke-width="0.08" >100</text>
<line x1="159.8" y1="167.95" x2="161.1" y2="167.95" stroke="#555" stroke-width="0.7" />
<text x="155.5" y="169.95" font-size="5.9" font-family='"Liberation Serif", serif' text-anchor="end" fill="#333" stroke="#333" stroke-width="0.08" >50</text>
<line x1="159.8" y1="201.7" x2="161.1" y2="201.7" stroke="#555" stroke-width="0.7" />
<text x="155.5" y="203.7" font-size="5.9" font-family='"Liberation Serif", serif' text-anchor="end" fill="#333" stroke="#333" stroke-width="0.08" >0</text>
<line x1="161.1" y1="201.7" x2="161.1" y2="202.7" stroke="#555" stroke-width="0.7" />
<text x="161.1" y="209.9" font-size="5.9" font-family='"Liberation Serif", serif' text-anchor="middle" fill="#333" stroke="#333" stroke-width="0.08" >0</text>
<line x1="178.8" y1="201.7" x2="178.8" y2="202.7" stroke="#555" stroke-width="0.7" />
<text x="178.8" y="209.9" font-size="5.9" font-family='"Liberation Serif", serif' text-anchor="middle" fill="#333" stroke="#333" stroke-width="0.08" >100</text>
<line x1="196.4" y1="201.7" x2="196.4" y2="202.7" stroke="#555" stroke-width="0.7" />
<text x="196.4" y="209.9" font-size="5.9" font-family='"Liberation Serif", serif' text-anchor="middle" fill="#333" stroke="#333" stroke-width="0.08" >200</text>
<line x1="214.1" y1="201.7" x2="214.1" y2="202.7" stroke="#555" stroke-width="0.7" />
<text x="214.1" y="209.9" font-size="5.9" font-family='"Liberation Serif", serif' text-anchor="middle" fill="#333" stroke="#333" stroke-width="0.08" >300</text>
<line x1="231.7" y1="201.7" x2="231.7" y2="202.7" stroke="#555" stroke-width="0.7" />
<text x="231.7" y="209.9" font-size="5.9" font-family='"Liberation Serif", serif' text-anchor="middle" fill="#333" stroke="#333" stroke-width="0.08" >400</text>
<line x1="250.4" y1="201.7" x2="250.4" y2="202.7" stroke="#555" stroke-width="0.7" />
<text x="250.4" y="209.9" font-size="5.9" font-family='"Liberation Serif", serif' text-anchor="middle" fill="#333" stroke="#333" stroke-width="0.08" >500</text>
<text x="214.1" y="216.7" font-size="5.7" font-family='"Liberation Sans", sans-serif' text-anchor="middle" fill="#111" stroke="#111" stroke-width="0.22" >Time to fatigue (min)</text>
<text x="145.4" y="168.1" font-size="5.7" font-family='"Liberation Sans", sans-serif' text-anchor="middle" fill="#111" stroke="#111" stroke-width="0.22" transform="rotate(-90 145.4 168.1)" >Percent still running</text>
<path d="M160.2,133.3 l1.35,2.3 h-2.7 z" fill="none" stroke="#8a7a7a" stroke-width="0.6"/>
<path d="M165.77,133.3 l1.35,2.3 h-2.7 z" fill="none" stroke="#8a7a7a" stroke-width="0.6"/>
<path d="M171.34,133.3 l1.35,2.3 h-2.7 z" fill="none" stroke="#8a7a7a" stroke-width="0.6"/>
<path d="M176.85,134.01 l1.35,2.3 h-2.7 z" fill="none" stroke="#8a7a7a" stroke-width="0.6"/>
<path d="M182.33,135 l1.35,2.3 h-2.7 z" fill="none" stroke="#8a7a7a" stroke-width="0.6"/>
<path d="M187.67,136.61 l1.35,2.3 h-2.7 z" fill="none" stroke="#8a7a7a" stroke-width="0.6"/>
<path d="M192.94,138.39 l1.35,2.3 h-2.7 z" fill="none" stroke="#8a7a7a" stroke-width="0.6"/>
<path d="M198.16,140.34 l1.35,2.3 h-2.7 z" fill="none" stroke="#8a7a7a" stroke-width="0.6"/>
<path d="M203.3,142.5 l1.35,2.3 h-2.7 z" fill="none" stroke="#8a7a7a" stroke-width="0.6"/>
<path d="M208.08,145.26 l1.35,2.3 h-2.7 z" fill="none" stroke="#8a7a7a" stroke-width="0.6"/>
<path d="M211.93,149.22 l1.35,2.3 h-2.7 z" fill="none" stroke="#8a7a7a" stroke-width="0.6"/>
<path d="M215.35,153.62 l1.35,2.3 h-2.7 z" fill="none" stroke="#8a7a7a" stroke-width="0.6"/>
<path d="M218.38,158.26 l1.35,2.3 h-2.7 z" fill="none" stroke="#8a7a7a" stroke-width="0.6"/>
<path d="M221.04,163.14 l1.35,2.3 h-2.7 z" fill="none" stroke="#8a7a7a" stroke-width="0.6"/>
<path d="M224.55,167.45 l1.35,2.3 h-2.7 z" fill="none" stroke="#8a7a7a" stroke-width="0.6"/>
<path d="M228.27,171.56 l1.35,2.3 h-2.7 z" fill="none" stroke="#8a7a7a" stroke-width="0.6"/>
<path d="M231.15,176.33 l1.35,2.3 h-2.7 z" fill="none" stroke="#8a7a7a" stroke-width="0.6"/>
<path d="M234.24,180.97 l1.35,2.3 h-2.7 z" fill="none" stroke="#8a7a7a" stroke-width="0.6"/>
<path d="M237.08,185.76 l1.35,2.3 h-2.7 z" fill="none" stroke="#8a7a7a" stroke-width="0.6"/>
<path d="M239.78,190.63 l1.35,2.3 h-2.7 z" fill="none" stroke="#8a7a7a" stroke-width="0.6"/>
<path d="M242.3,195.6 l1.35,2.3 h-2.7 z" fill="none" stroke="#8a7a7a" stroke-width="0.6"/>
<path d="M244.3,200.8 l1.35,2.3 h-2.7 z" fill="none" stroke="#8a7a7a" stroke-width="0.6"/>
<circle cx="160.2" cy="135.2" r="1.35" fill="none" stroke="#858585" stroke-width="0.6"/>
<circle cx="165.93" cy="135.2" r="1.35" fill="none" stroke="#858585" stroke-width="0.6"/>
<circle cx="171.65" cy="135.22" r="1.35" fill="none" stroke="#858585" stroke-width="0.6"/>
<circle cx="176.95" cy="137.35" r="1.35" fill="none" stroke="#858585" stroke-width="0.6"/>
<circle cx="180.88" cy="141.51" r="1.35" fill="none" stroke="#858585" stroke-width="0.6"/>
<circle cx="184.53" cy="145.93" r="1.35" fill="none" stroke="#858585" stroke-width="0.6"/>
<circle cx="188.61" cy="149.94" r="1.35" fill="none" stroke="#858585" stroke-width="0.6"/>
<circle cx="193.1" cy="153.5" r="1.35" fill="none" stroke="#858585" stroke-width="0.6"/>
<circle cx="197" cy="157.66" r="1.35" fill="none" stroke="#858585" stroke-width="0.6"/>
<circle cx="199.93" cy="162.58" r="1.35" fill="none" stroke="#858585" stroke-width="0.6"/>
<circle cx="202.92" cy="167.47" r="1.35" fill="none" stroke="#858585" stroke-width="0.6"/>
<circle cx="206.27" cy="172.12" r="1.35" fill="none" stroke="#858585" stroke-width="0.6"/>
<circle cx="209.13" cy="177.07" r="1.35" fill="none" stroke="#858585" stroke-width="0.6"/>
<circle cx="210.96" cy="182.5" r="1.35" fill="none" stroke="#858585" stroke-width="0.6"/>
<circle cx="212.78" cy="187.93" r="1.35" fill="none" stroke="#858585" stroke-width="0.6"/>
<circle cx="215.48" cy="192.95" r="1.35" fill="none" stroke="#858585" stroke-width="0.6"/>
<circle cx="218.43" cy="197.87" r="1.35" fill="none" stroke="#858585" stroke-width="0.6"/>
<circle cx="221.5" cy="202.7" r="1.35" fill="none" stroke="#858585" stroke-width="0.6"/>
<polyline points="161.1,134.2 173.6,134.2 182.9,135.8 191.2,138.3 199.5,141.4 206.8,144.5 211,147.7 214.1,151.8 218.2,157 221.3,163.2 224.5,167.4 228.6,171.5 231.7,176.7 235.9,183 240,190.2 243.2,196.5 245.2,201.7" fill="none" stroke="#bb1a28" stroke-width="1.1" stroke-linejoin="round" />
<polyline points="161.1,134.2 172.5,134.2 177.7,136.2 180.8,139.3 185,144.5 189.2,148.7 193.3,151.8 197.5,156 200.6,161.2 203.7,166.3 206.8,170.5 209.9,175.7 212,181.9 214.1,188.2 217.2,193.3 220.3,198.5 222.4,201.7" fill="none" stroke="#111" stroke-width="1.15" stroke-linejoin="round" />
<circle cx="162.3" cy="134.2" r="1.45" fill="none" stroke="#555" stroke-width="0.7"/>
<circle cx="166.3" cy="134.2" r="1.45" fill="none" stroke="#555" stroke-width="0.7"/>
<circle cx="170.3" cy="134.2" r="1.45" fill="none" stroke="#555" stroke-width="0.7"/>
<rect x="163.2" y="178.8" width="39.5" height="13.5" fill="#fff" stroke="#8a8a8a" stroke-width="0.6"/>
<line x1="164.4" y1="182.85" x2="172.7" y2="182.85" stroke="#111" stroke-width="1.1" />
<circle cx="168.5" cy="182.85" r="1.05" fill="#fff" stroke="#777" stroke-width="0.5"/>
<line x1="164.4" y1="188.52" x2="172.7" y2="188.52" stroke="#bb1a28" stroke-width="1.1" />
<path d="M168.5,187.42 l1.1,1.9 h-2.2 z" fill="#fff" stroke="#a08080" stroke-width="0.5"/>
<text x="173.2" y="184.75" font-size="5.9" font-family='"Liberation Serif", serif' text-anchor="start" fill="#111" stroke="#111" stroke-width="0.08" >No exercise</text>
<text x="173.2" y="190.42" font-size="5.9" font-family='"Liberation Serif", serif' text-anchor="start" fill="#111" stroke="#111" stroke-width="0.08" >Exercise</text>
<line x1="213" y1="183.6" x2="236.9" y2="183.6" stroke="#111" stroke-width="0.9" />
<path d="M218.8,178.9 L219.24,179.89 L220.32,180.01 L219.51,180.73 L219.74,181.79 L218.8,181.25 L217.86,181.79 L218.09,180.73 L217.28,180.01 L218.36,179.89Z" fill="#111" stroke="#111" stroke-width="0.3" stroke-linejoin="round"/>
<path d="M222.8,178.9 L223.24,179.89 L224.32,180.01 L223.51,180.73 L223.74,181.79 L222.8,181.25 L221.86,181.79 L222.09,180.73 L221.28,180.01 L222.36,179.89Z" fill="#111" stroke="#111" stroke-width="0.3" stroke-linejoin="round"/>
<text x="275.7" y="131.7" font-size="8.2" font-family='"Liberation Serif", serif' text-anchor="start" fill="#000" font-weight="bold" >G</text>
<text x="330" y="136.5" font-size="5.8" font-family='"Liberation Sans", sans-serif' text-anchor="start" fill="#222" stroke="#222" stroke-width="0.22" >w1118+4%salt</text>
<line x1="297.5" y1="134.6" x2="297.5" y2="202.1" stroke="#7a7a7a" stroke-width="1.6" />
<line x1="296.7" y1="202.1" x2="377.5" y2="202.1" stroke="#3a3a3a" stroke-width="1.2" />
<line x1="296.2" y1="134.6" x2="297.5" y2="134.6" stroke="#555" stroke-width="0.7" />
<text x="291.9" y="136.6" font-size="5.9" font-family='"Liberation Serif", serif' text-anchor="end" fill="#333" stroke="#333" stroke-width="0.08" >100</text>
<line x1="296.2" y1="168.35" x2="297.5" y2="168.35" stroke="#555" stroke-width="0.7" />
<text x="291.9" y="170.35" font-size="5.9" font-family='"Liberation Serif", serif' text-anchor="end" fill="#333" stroke="#333" stroke-width="0.08" >50</text>
<line x1="296.2" y1="202.1" x2="297.5" y2="202.1" stroke="#555" stroke-width="0.7" />
<text x="291.9" y="204.1" font-size="5.9" font-family='"Liberation Serif", serif' text-anchor="end" fill="#333" stroke="#333" stroke-width="0.08" >0</text>
<line x1="297.6" y1="202.1" x2="297.6" y2="203.1" stroke="#555" stroke-width="0.7" />
<text x="297.6" y="209.9" font-size="5.9" font-family='"Liberation Serif", serif' text-anchor="middle" fill="#333" stroke="#333" stroke-width="0.08" >0</text>
<line x1="316" y1="202.1" x2="316" y2="203.1" stroke="#555" stroke-width="0.7" />
<text x="316" y="209.9" font-size="5.9" font-family='"Liberation Serif", serif' text-anchor="middle" fill="#333" stroke="#333" stroke-width="0.08" >100</text>
<line x1="333.8" y1="202.1" x2="333.8" y2="203.1" stroke="#555" stroke-width="0.7" />
<text x="333.8" y="209.9" font-size="5.9" font-family='"Liberation Serif", serif' text-anchor="middle" fill="#333" stroke="#333" stroke-width="0.08" >200</text>
<line x1="350.6" y1="202.1" x2="350.6" y2="203.1" stroke="#555" stroke-width="0.7" />
<text x="350.6" y="209.9" font-size="5.9" font-family='"Liberation Serif", serif' text-anchor="middle" fill="#333" stroke="#333" stroke-width="0.08" >300</text>
<line x1="368.2" y1="202.1" x2="368.2" y2="203.1" stroke="#555" stroke-width="0.7" />
<text x="368.2" y="209.9" font-size="5.9" font-family='"Liberation Serif", serif' text-anchor="middle" fill="#333" stroke="#333" stroke-width="0.08" >400</text>
<text x="335.8" y="217" font-size="5.7" font-family='"Liberation Sans", sans-serif' text-anchor="middle" fill="#111" stroke="#111" stroke-width="0.22" >Time to fatigue (min)</text>
<text x="281.2" y="169.2" font-size="5.7" font-family='"Liberation Sans", sans-serif' text-anchor="middle" fill="#111" stroke="#111" stroke-width="0.22" transform="rotate(-90 281.2 169.2)" >Percent still running</text>
<path d="M296.6,133.7 l1.35,2.3 h-2.7 z" fill="none" stroke="#8a7a7a" stroke-width="0.6"/>
<path d="M302.31,133.7 l1.35,2.3 h-2.7 z" fill="none" stroke="#8a7a7a" stroke-width="0.6"/>
<path d="M307.73,135.11 l1.35,2.3 h-2.7 z" fill="none" stroke="#8a7a7a" stroke-width="0.6"/>
<path d="M313.06,137.16 l1.35,2.3 h-2.7 z" fill="none" stroke="#8a7a7a" stroke-width="0.6"/>
<path d="M318.49,138.93 l1.35,2.3 h-2.7 z" fill="none" stroke="#8a7a7a" stroke-width="0.6"/>
<path d="M323.89,140.78 l1.35,2.3 h-2.7 z" fill="none" stroke="#8a7a7a" stroke-width="0.6"/>
<path d="M328.84,143.33 l1.35,2.3 h-2.7 z" fill="none" stroke="#8a7a7a" stroke-width="0.6"/>
<path d="M331.76,148.24 l1.35,2.3 h-2.7 z" fill="none" stroke="#8a7a7a" stroke-width="0.6"/>
<path d="M334.69,153.15 l1.35,2.3 h-2.7 z" fill="none" stroke="#8a7a7a" stroke-width="0.6"/>
<path d="M337.61,158.06 l1.35,2.3 h-2.7 z" fill="none" stroke="#8a7a7a" stroke-width="0.6"/>
<path d="M340.54,162.96 l1.35,2.3 h-2.7 z" fill="none" stroke="#8a7a7a" stroke-width="0.6"/>
<path d="M345.17,166.23 l1.35,2.3 h-2.7 z" fill="none" stroke="#8a7a7a" stroke-width="0.6"/>
<path d="M348.13,170.74 l1.35,2.3 h-2.7 z" fill="none" stroke="#8a7a7a" stroke-width="0.6"/>
<path d="M350.25,176.03 l1.35,2.3 h-2.7 z" fill="none" stroke="#8a7a7a" stroke-width="0.6"/>
<path d="M352.94,181.07 l1.35,2.3 h-2.7 z" fill="none" stroke="#8a7a7a" stroke-width="0.6"/>
<path d="M355.86,185.97 l1.35,2.3 h-2.7 z" fill="none" stroke="#8a7a7a" stroke-width="0.6"/>
<path d="M358.74,190.9 l1.35,2.3 h-2.7 z" fill="none" stroke="#8a7a7a" stroke-width="0.6"/>
<path d="M361.22,196.05 l1.35,2.3 h-2.7 z" fill="none" stroke="#8a7a7a" stroke-width="0.6"/>
<path d="M363.7,201.2 l1.35,2.3 h-2.7 z" fill="none" stroke="#8a7a7a" stroke-width="0.6"/>
<circle cx="296.6" cy="135.6" r="1.35" fill="none" stroke="#858585" stroke-width="0.6"/>
<circle cx="302.28" cy="135.6" r="1.35" fill="none" stroke="#858585" stroke-width="0.6"/>
<circle cx="307.59" cy="137.39" r="1.35" fill="none" stroke="#858585" stroke-width="0.6"/>
<circle cx="311.79" cy="140.95" r="1.35" fill="none" stroke="#858585" stroke-width="0.6"/>
<circle cx="315.05" cy="145.59" r="1.35" fill="none" stroke="#858585" stroke-width="0.6"/>
<circle cx="317.99" cy="150.44" r="1.35" fill="none" stroke="#858585" stroke-width="0.6"/>
<circle cx="320.62" cy="155.43" r="1.35" fill="none" stroke="#858585" stroke-width="0.6"/>
<circle cx="322.66" cy="160.64" r="1.35" fill="none" stroke="#858585" stroke-width="0.6"/>
<circle cx="326.9" cy="164.41" r="1.35" fill="none" stroke="#858585" stroke-width="0.6"/>
<circle cx="330.91" cy="168.34" r="1.35" fill="none" stroke="#858585" stroke-width="0.6"/>
<circle cx="334.03" cy="173.07" r="1.35" fill="none" stroke="#858585" stroke-width="0.6"/>
<circle cx="336.99" cy="177.92" r="1.35" fill="none" stroke="#858585" stroke-width="0.6"/>
<circle cx="340.15" cy="182.63" r="1.35" fill="none" stroke="#858585" stroke-width="0.6"/>
<circle cx="343.12" cy="187.44" r="1.35" fill="none" stroke="#858585" stroke-width="0.6"/>
<circle cx="345.55" cy="192.57" r="1.35" fill="none" stroke="#858585" stroke-width="0.6"/>
<circle cx="347.68" cy="197.83" r="1.35" fill="none" stroke="#858585" stroke-width="0.6"/>
<circle cx="349.8" cy="203.1" r="1.35" fill="none" stroke="#858585" stroke-width="0.6"/>
<polyline points="297.5,134.6 305.4,134.6 311.6,137.3 317.8,139.3 324.1,141.4 329.3,143.5 332.4,148.7 335.5,153.9 338.6,159.1 341.7,164.3 344.8,166.3 348,168.4 350,174.7 353.2,180.9 356.3,186.1 359.4,191.3 361.9,196.5 364.6,202.1" fill="none" stroke="#bb1a28" stroke-width="1.1" stroke-linejoin="round" />
<polyline points="297.5,134.6 304.3,134.6 310.6,137.3 314.7,142.5 317.8,147.7 321,152.8 323,159.1 326.2,162.2 330.3,165.3 333.4,169.5 336.5,174.7 339.7,179.8 342.8,184 345.9,190.2 348,195.4 350.7,202.1" fill="none" stroke="#111" stroke-width="1.15" stroke-linejoin="round" />
<circle cx="298.7" cy="134.6" r="1.45" fill="none" stroke="#555" stroke-width="0.7"/>
<circle cx="302.7" cy="134.6" r="1.45" fill="none" stroke="#555" stroke-width="0.7"/>
<rect x="344.8" y="147.7" width="40.5" height="13.5" fill="#fff" stroke="#8a8a8a" stroke-width="0.6"/>
<line x1="346" y1="151.75" x2="354.3" y2="151.75" stroke="#111" stroke-width="1.1" />
<circle cx="350.1" cy="151.75" r="1.05" fill="#fff" stroke="#777" stroke-width="0.5"/>
<line x1="346" y1="157.42" x2="354.3" y2="157.42" stroke="#bb1a28" stroke-width="1.1" />
<path d="M350.1,156.32 l1.1,1.9 h-2.2 z" fill="#fff" stroke="#a08080" stroke-width="0.5"/>
<text x="354.8" y="153.65" font-size="5.9" font-family='"Liberation Serif", serif' text-anchor="start" fill="#111" stroke="#111" stroke-width="0.08" >No exercise</text>
<text x="354.8" y="159.32" font-size="5.9" font-family='"Liberation Serif", serif' text-anchor="start" fill="#111" stroke="#111" stroke-width="0.08" >Exercise</text>
<line x1="336.5" y1="175.3" x2="349.4" y2="175.3" stroke="#111" stroke-width="0.9" />
<path d="M339.7,171.2 L340.14,172.19 L341.22,172.31 L340.41,173.03 L340.64,174.09 L339.7,173.55 L338.76,174.09 L338.99,173.03 L338.18,172.31 L339.26,172.19Z" fill="#111" stroke="#111" stroke-width="0.3" stroke-linejoin="round"/>
<text x="402.3" y="131.9" font-size="8.2" font-family='"Liberation Serif", serif' text-anchor="start" fill="#000" font-weight="bold" >H</text>
<text x="452.5" y="137.75" font-size="5.8" font-family='"Liberation Sans", sans-serif' text-anchor="start" fill="#222" stroke="#222" stroke-width="0.22" >w1118+8%salt</text>
<line x1="423.4" y1="134.2" x2="423.4" y2="202.3" stroke="#7a7a7a" stroke-width="1.6" />
<line x1="422.6" y1="202.3" x2="500" y2="202.3" stroke="#3a3a3a" stroke-width="1.2" />
<line x1="422.1" y1="134.2" x2="423.4" y2="134.2" stroke="#555" stroke-width="0.7" />
<text x="417.8" y="136.2" font-size="5.9" font-family='"Liberation Serif", serif' text-anchor="end" fill="#333" stroke="#333" stroke-width="0.08" >100</text>
<line x1="422.1" y1="168.25" x2="423.4" y2="168.25" stroke="#555" stroke-width="0.7" />
<text x="417.8" y="170.25" font-size="5.9" font-family='"Liberation Serif", serif' text-anchor="end" fill="#333" stroke="#333" stroke-width="0.08" >50</text>
<line x1="422.1" y1="202.3" x2="423.4" y2="202.3" stroke="#555" stroke-width="0.7" />
<text x="417.8" y="204.3" font-size="5.9" font-family='"Liberation Serif", serif' text-anchor="end" fill="#333" stroke="#333" stroke-width="0.08" >0</text>
<line x1="423.4" y1="202.3" x2="423.4" y2="203.3" stroke="#555" stroke-width="0.7" />
<text x="423.4" y="209.9" font-size="5.9" font-family='"Liberation Serif", serif' text-anchor="middle" fill="#333" stroke="#333" stroke-width="0.08" >0</text>
<line x1="441.1" y1="202.3" x2="441.1" y2="203.3" stroke="#555" stroke-width="0.7" />
<text x="441.1" y="209.9" font-size="5.9" font-family='"Liberation Serif", serif' text-anchor="middle" fill="#333" stroke="#333" stroke-width="0.08" >100</text>
<line x1="458.7" y1="202.3" x2="458.7" y2="203.3" stroke="#555" stroke-width="0.7" />
<text x="458.7" y="209.9" font-size="5.9" font-family='"Liberation Serif", serif' text-anchor="middle" fill="#333" stroke="#333" stroke-width="0.08" >200</text>
<line x1="476.8" y1="202.3" x2="476.8" y2="203.3" stroke="#555" stroke-width="0.7" />
<text x="476.8" y="209.9" font-size="5.9" font-family='"Liberation Serif", serif' text-anchor="middle" fill="#333" stroke="#333" stroke-width="0.08" >300</text>
<line x1="494.7" y1="202.3" x2="494.7" y2="203.3" stroke="#555" stroke-width="0.7" />
<text x="494.7" y="209.9" font-size="5.9" font-family='"Liberation Serif", serif' text-anchor="middle" fill="#333" stroke="#333" stroke-width="0.08" >400</text>
<text x="466.7" y="217" font-size="5.7" font-family='"Liberation Sans", sans-serif' text-anchor="middle" fill="#111" stroke="#111" stroke-width="0.22" >Time to fatigue (min)</text>
<text x="407.5" y="170.6" font-size="5.7" font-family='"Liberation Sans", sans-serif' text-anchor="middle" fill="#111" stroke="#111" stroke-width="0.22" transform="rotate(-90 407.5 170.6)" >Percent still running</text>
<path d="M422.5,133.3 l1.35,2.3 h-2.7 z" fill="none" stroke="#8a7a7a" stroke-width="0.6"/>
<path d="M427.91,134.41 l1.35,2.3 h-2.7 z" fill="none" stroke="#8a7a7a" stroke-width="0.6"/>
<path d="M432.86,136.88 l1.35,2.3 h-2.7 z" fill="none" stroke="#8a7a7a" stroke-width="0.6"/>
<path d="M437.82,139.33 l1.35,2.3 h-2.7 z" fill="none" stroke="#8a7a7a" stroke-width="0.6"/>
<path d="M441.98,142.76 l1.35,2.3 h-2.7 z" fill="none" stroke="#8a7a7a" stroke-width="0.6"/>
<path d="M445.1,147.3 l1.35,2.3 h-2.7 z" fill="none" stroke="#8a7a7a" stroke-width="0.6"/>
<path d="M447.58,152.24 l1.35,2.3 h-2.7 z" fill="none" stroke="#8a7a7a" stroke-width="0.6"/>
<path d="M450.08,157.18 l1.35,2.3 h-2.7 z" fill="none" stroke="#8a7a7a" stroke-width="0.6"/>
<path d="M452.56,162.12 l1.35,2.3 h-2.7 z" fill="none" stroke="#8a7a7a" stroke-width="0.6"/>
<path d="M455.23,166.96 l1.35,2.3 h-2.7 z" fill="none" stroke="#8a7a7a" stroke-width="0.6"/>
<path d="M458.26,171.58 l1.35,2.3 h-2.7 z" fill="none" stroke="#8a7a7a" stroke-width="0.6"/>
<path d="M461.99,175.62 l1.35,2.3 h-2.7 z" fill="none" stroke="#8a7a7a" stroke-width="0.6"/>
<path d="M464.77,180.3 l1.35,2.3 h-2.7 z" fill="none" stroke="#8a7a7a" stroke-width="0.6"/>
<path d="M466.88,185.41 l1.35,2.3 h-2.7 z" fill="none" stroke="#8a7a7a" stroke-width="0.6"/>
<path d="M468.49,190.7 l1.35,2.3 h-2.7 z" fill="none" stroke="#8a7a7a" stroke-width="0.6"/>
<path d="M469.94,196.04 l1.35,2.3 h-2.7 z" fill="none" stroke="#8a7a7a" stroke-width="0.6"/>
<path d="M471.3,201.4 l1.35,2.3 h-2.7 z" fill="none" stroke="#8a7a7a" stroke-width="0.6"/>
<circle cx="422.5" cy="135.2" r="1.35" fill="none" stroke="#858585" stroke-width="0.6"/>
<circle cx="427.83" cy="136.05" r="1.35" fill="none" stroke="#858585" stroke-width="0.6"/>
<circle cx="432.32" cy="139.42" r="1.35" fill="none" stroke="#858585" stroke-width="0.6"/>
<circle cx="435.85" cy="143.51" r="1.35" fill="none" stroke="#858585" stroke-width="0.6"/>
<circle cx="437.8" cy="148.78" r="1.35" fill="none" stroke="#858585" stroke-width="0.6"/>
<circle cx="439.83" cy="153.98" r="1.35" fill="none" stroke="#858585" stroke-width="0.6"/>
<circle cx="442.76" cy="158.77" r="1.35" fill="none" stroke="#858585" stroke-width="0.6"/>
<circle cx="445.63" cy="163.59" r="1.35" fill="none" stroke="#858585" stroke-width="0.6"/>
<circle cx="448.51" cy="168.41" r="1.35" fill="none" stroke="#858585" stroke-width="0.6"/>
<circle cx="451.38" cy="173.23" r="1.35" fill="none" stroke="#858585" stroke-width="0.6"/>
<circle cx="454.26" cy="178.05" r="1.35" fill="none" stroke="#858585" stroke-width="0.6"/>
<circle cx="456.82" cy="183.05" r="1.35" fill="none" stroke="#858585" stroke-width="0.6"/>
<circle cx="459.56" cy="187.94" r="1.35" fill="none" stroke="#858585" stroke-width="0.6"/>
<circle cx="462.58" cy="192.67" r="1.35" fill="none" stroke="#858585" stroke-width="0.6"/>
<circle cx="464.51" cy="197.92" r="1.35" fill="none" stroke="#858585" stroke-width="0.6"/>
<circle cx="466.1" cy="203.3" r="1.35" fill="none" stroke="#858585" stroke-width="0.6"/>
<polyline points="423.4,134.2 428.6,135.2 434.8,138.3 441.1,141.4 445.2,146.6 448.3,152.8 451.5,159.1 454.6,165.3 457.7,170.5 460.8,174.7 463.9,177.4 466,181.9 468.1,187.1 470.2,194.4 472.2,202.3" fill="none" stroke="#bb1a28" stroke-width="1.1" stroke-linejoin="round" />
<polyline points="423.4,134.2 427.6,134.2 431.7,137.3 435.9,140.4 438,145.6 440,151.8 443.2,157 446.3,162.2 449.4,167.4 452.5,172.6 455.6,177.8 458.7,184 461.8,189.2 463.9,192.3 465.6,197.5 467,202.3" fill="none" stroke="#111" stroke-width="1.15" stroke-linejoin="round" />
<circle cx="424.6" cy="134.2" r="1.45" fill="none" stroke="#555" stroke-width="0.7"/>
<circle cx="428.6" cy="134.2" r="1.45" fill="none" stroke="#555" stroke-width="0.7"/>
<rect x="460.8" y="150.8" width="38.4" height="12.4" fill="#fff" stroke="#8a8a8a" stroke-width="0.6"/>
<line x1="462" y1="154.52" x2="470.3" y2="154.52" stroke="#111" stroke-width="1.1" />
<circle cx="466.1" cy="154.52" r="1.05" fill="#fff" stroke="#777" stroke-width="0.5"/>
<line x1="462" y1="159.73" x2="470.3" y2="159.73" stroke="#bb1a28" stroke-width="1.1" />
<path d="M466.1,158.63 l1.1,1.9 h-2.2 z" fill="#fff" stroke="#a08080" stroke-width="0.5"/>
<text x="470.8" y="156.42" font-size="5.9" font-family='"Liberation Serif", serif' text-anchor="start" fill="#111" stroke="#111" stroke-width="0.08" >No exercise</text>
<text x="470.8" y="161.63" font-size="5.9" font-family='"Liberation Serif", serif' text-anchor="start" fill="#111" stroke="#111" stroke-width="0.08" >Exercise</text>
<line x1="458.7" y1="185.7" x2="469.1" y2="185.7" stroke="#111" stroke-width="0.9" />
<text x="463" y="184.6" font-size="5.2" font-family='"Liberation Sans", sans-serif' text-anchor="middle" fill="#111" stroke="#111" stroke-width="0.22" >ns</text>
<text x="5.3" y="236.75" font-size="8.2" font-family='"Liberation Serif", serif' text-anchor="start" fill="#000" font-weight="bold" >I</text>
<text x="78" y="244.25" font-size="5.8" font-family='"Liberation Sans", sans-serif' text-anchor="start" fill="#222" stroke="#222" stroke-width="0.22" >w1118</text>
<line x1="25.5" y1="239.6" x2="25.5" y2="307.4" stroke="#7a7a7a" stroke-width="1.6" />
<line x1="24.7" y1="307.4" x2="105.7" y2="307.4" stroke="#3a3a3a" stroke-width="1.2" />
<line x1="24.2" y1="239.6" x2="25.5" y2="239.6" stroke="#555" stroke-width="0.7" />
<text x="19.9" y="241.6" font-size="5.9" font-family='"Liberation Serif", serif' text-anchor="end" fill="#333" stroke="#333" stroke-width="0.08" >100</text>
<line x1="24.2" y1="273.5" x2="25.5" y2="273.5" stroke="#555" stroke-width="0.7" />
<text x="19.9" y="275.5" font-size="5.9" font-family='"Liberation Serif", serif' text-anchor="end" fill="#333" stroke="#333" stroke-width="0.08" >50</text>
<line x1="24.2" y1="307.4" x2="25.5" y2="307.4" stroke="#555" stroke-width="0.7" />
<text x="19.9" y="309.4" font-size="5.9" font-family='"Liberation Serif", serif' text-anchor="end" fill="#333" stroke="#333" stroke-width="0.08" >0</text>
<line x1="25.4" y1="307.4" x2="25.4" y2="308.4" stroke="#555" stroke-width="0.7" />
<text x="25.4" y="315.4" font-size="5.9" font-family='"Liberation Serif", serif' text-anchor="middle" fill="#333" stroke="#333" stroke-width="0.08" >0</text>
<line x1="44" y1="307.4" x2="44" y2="308.4" stroke="#555" stroke-width="0.7" />
<text x="44" y="315.4" font-size="5.9" font-family='"Liberation Serif", serif' text-anchor="middle" fill="#333" stroke="#333" stroke-width="0.08" >100</text>
<line x1="62.1" y1="307.4" x2="62.1" y2="308.4" stroke="#555" stroke-width="0.7" />
<text x="62.1" y="315.4" font-size="5.9" font-family='"Liberation Serif", serif' text-anchor="middle" fill="#333" stroke="#333" stroke-width="0.08" >200</text>
<line x1="78.5" y1="307.4" x2="78.5" y2="308.4" stroke="#555" stroke-width="0.7" />
<text x="78.5" y="315.4" font-size="5.9" font-family='"Liberation Serif", serif' text-anchor="middle" fill="#333" stroke="#333" stroke-width="0.08" >300</text>
<line x1="95.7" y1="307.4" x2="95.7" y2="308.4" stroke="#555" stroke-width="0.7" />
<text x="95.7" y="315.4" font-size="5.9" font-family='"Liberation Serif", serif' text-anchor="middle" fill="#333" stroke="#333" stroke-width="0.08" >400</text>
<text x="61.6" y="321.8" font-size="5.7" font-family='"Liberation Sans", sans-serif' text-anchor="middle" fill="#111" stroke="#111" stroke-width="0.22" >Time to fatigue (min)</text>
<text x="7.5" y="274" font-size="5.7" font-family='"Liberation Sans", sans-serif' text-anchor="middle" fill="#111" stroke="#111" stroke-width="0.22" transform="rotate(-90 7.5 274)" >Percent still running</text>
<path d="M24.6,238.7 l1.35,2.3 h-2.7 z" fill="none" stroke="#8a7a7a" stroke-width="0.6"/>
<path d="M30.31,238.7 l1.35,2.3 h-2.7 z" fill="none" stroke="#8a7a7a" stroke-width="0.6"/>
<path d="M35.99,239.01 l1.35,2.3 h-2.7 z" fill="none" stroke="#8a7a7a" stroke-width="0.6"/>
<path d="M41.58,240.23 l1.35,2.3 h-2.7 z" fill="none" stroke="#8a7a7a" stroke-width="0.6"/>
<path d="M47.09,241.72 l1.35,2.3 h-2.7 z" fill="none" stroke="#8a7a7a" stroke-width="0.6"/>
<path d="M52.45,243.59 l1.35,2.3 h-2.7 z" fill="none" stroke="#8a7a7a" stroke-width="0.6"/>
<path d="M55.99,248.08 l1.35,2.3 h-2.7 z" fill="none" stroke="#8a7a7a" stroke-width="0.6"/>
<path d="M58.63,253.13 l1.35,2.3 h-2.7 z" fill="none" stroke="#8a7a7a" stroke-width="0.6"/>
<path d="M62.18,257.51 l1.35,2.3 h-2.7 z" fill="none" stroke="#8a7a7a" stroke-width="0.6"/>
<path d="M65.3,262.21 l1.35,2.3 h-2.7 z" fill="none" stroke="#8a7a7a" stroke-width="0.6"/>
<path d="M68.16,267.15 l1.35,2.3 h-2.7 z" fill="none" stroke="#8a7a7a" stroke-width="0.6"/>
<path d="M71.25,271.95 l1.35,2.3 h-2.7 z" fill="none" stroke="#8a7a7a" stroke-width="0.6"/>
<path d="M74.38,276.74 l1.35,2.3 h-2.7 z" fill="none" stroke="#8a7a7a" stroke-width="0.6"/>
<path d="M77.74,281.35 l1.35,2.3 h-2.7 z" fill="none" stroke="#8a7a7a" stroke-width="0.6"/>
<path d="M81.36,285.77 l1.35,2.3 h-2.7 z" fill="none" stroke="#8a7a7a" stroke-width="0.6"/>
<path d="M84.16,290.72 l1.35,2.3 h-2.7 z" fill="none" stroke="#8a7a7a" stroke-width="0.6"/>
<path d="M86.72,295.83 l1.35,2.3 h-2.7 z" fill="none" stroke="#8a7a7a" stroke-width="0.6"/>
<path d="M88.79,301.15 l1.35,2.3 h-2.7 z" fill="none" stroke="#8a7a7a" stroke-width="0.6"/>
<path d="M90.8,306.5 l1.35,2.3 h-2.7 z" fill="none" stroke="#8a7a7a" stroke-width="0.6"/>
<circle cx="24.6" cy="240.6" r="1.35" fill="none" stroke="#858585" stroke-width="0.6"/>
<circle cx="30.23" cy="240.6" r="1.35" fill="none" stroke="#858585" stroke-width="0.6"/>
<circle cx="35.48" cy="242.15" r="1.35" fill="none" stroke="#858585" stroke-width="0.6"/>
<circle cx="40.16" cy="245.24" r="1.35" fill="none" stroke="#858585" stroke-width="0.6"/>
<circle cx="44.62" cy="248.67" r="1.35" fill="none" stroke="#858585" stroke-width="0.6"/>
<circle cx="48.49" cy="252.63" r="1.35" fill="none" stroke="#858585" stroke-width="0.6"/>
<circle cx="51.67" cy="257.26" r="1.35" fill="none" stroke="#858585" stroke-width="0.6"/>
<circle cx="55.66" cy="261.23" r="1.35" fill="none" stroke="#858585" stroke-width="0.6"/>
<circle cx="59.14" cy="265.65" r="1.35" fill="none" stroke="#858585" stroke-width="0.6"/>
<circle cx="62.09" cy="270.44" r="1.35" fill="none" stroke="#858585" stroke-width="0.6"/>
<circle cx="64.75" cy="275.39" r="1.35" fill="none" stroke="#858585" stroke-width="0.6"/>
<circle cx="67.44" cy="280.34" r="1.35" fill="none" stroke="#858585" stroke-width="0.6"/>
<circle cx="70.64" cy="284.97" r="1.35" fill="none" stroke="#858585" stroke-width="0.6"/>
<circle cx="73.95" cy="289.52" r="1.35" fill="none" stroke="#858585" stroke-width="0.6"/>
<circle cx="77.3" cy="294.04" r="1.35" fill="none" stroke="#858585" stroke-width="0.6"/>
<circle cx="80.68" cy="298.54" r="1.35" fill="none" stroke="#858585" stroke-width="0.6"/>
<circle cx="83.65" cy="303.28" r="1.35" fill="none" stroke="#858585" stroke-width="0.6"/>
<circle cx="86" cy="308.4" r="1.35" fill="none" stroke="#858585" stroke-width="0.6"/>
<polyline points="25.5,239.6 35.5,239.6 42.8,241.2 49,242.9 53.2,244.3 57.3,249.5 60.4,255.8 64.6,259.9 66.7,264.1 69.8,269.3 73.9,275.5 76.8,280 83.1,287.7 87.9,297.3 91.7,307.4" fill="none" stroke="#bb1a28" stroke-width="1.1" stroke-linejoin="round" />
<polyline points="25.5,239.6 33.4,239.6 38.6,242.3 43.8,246.4 48,249.5 52.1,255.8 56.3,259.9 60.4,265.1 63.5,270.3 66.5,276 68.7,280 73.5,286.7 79.2,294.4 83.6,300.2 86.9,307.4" fill="none" stroke="#111" stroke-width="1.15" stroke-linejoin="round" />
<circle cx="26.7" cy="239.6" r="1.45" fill="none" stroke="#555" stroke-width="0.7"/>
<circle cx="30.7" cy="239.6" r="1.45" fill="none" stroke="#555" stroke-width="0.7"/>
<rect x="27.2" y="283.8" width="39.3" height="12.7" fill="#fff" stroke="#8a8a8a" stroke-width="0.6"/>
<line x1="28.4" y1="287.61" x2="36.7" y2="287.61" stroke="#111" stroke-width="1.1" />
<circle cx="32.5" cy="287.61" r="1.05" fill="#fff" stroke="#777" stroke-width="0.5"/>
<line x1="28.4" y1="292.94" x2="36.7" y2="292.94" stroke="#bb1a28" stroke-width="1.1" />
<path d="M32.5,291.84 l1.1,1.9 h-2.2 z" fill="#fff" stroke="#a08080" stroke-width="0.5"/>
<text x="37.2" y="289.51" font-size="5.9" font-family='"Liberation Serif", serif' text-anchor="start" fill="#111" stroke="#111" stroke-width="0.08" >No exercise</text>
<text x="37.2" y="294.84" font-size="5.9" font-family='"Liberation Serif", serif' text-anchor="start" fill="#111" stroke="#111" stroke-width="0.08" >Exercise</text>
<line x1="64.6" y1="274.5" x2="72.9" y2="274.5" stroke="#111" stroke-width="0.9" />
<path d="M65.6,270.6 L66.04,271.59 L67.12,271.71 L66.31,272.43 L66.54,273.49 L65.6,272.95 L64.66,273.49 L64.89,272.43 L64.08,271.71 L65.16,271.59Z" fill="#111" stroke="#111" stroke-width="0.3" stroke-linejoin="round"/>
<text x="139.3" y="239" font-size="8.2" font-family='"Liberation Serif", serif' text-anchor="start" fill="#000" font-weight="bold" >J</text>
<text x="190" y="242.5" font-size="5.8" font-family='"Liberation Sans", sans-serif' text-anchor="start" fill="#222" stroke="#222" stroke-width="0.22" >w1118+2%salt</text>
<line x1="160.2" y1="239.2" x2="160.2" y2="307.3" stroke="#7a7a7a" stroke-width="1.6" />
<line x1="159.4" y1="307.3" x2="235" y2="307.3" stroke="#3a3a3a" stroke-width="1.2" />
<line x1="158.9" y1="239.2" x2="160.2" y2="239.2" stroke="#555" stroke-width="0.7" />
<text x="154.6" y="241.2" font-size="5.9" font-family='"Liberation Serif", serif' text-anchor="end" fill="#333" stroke="#333" stroke-width="0.08" >100</text>
<line x1="158.9" y1="273.25" x2="160.2" y2="273.25" stroke="#555" stroke-width="0.7" />
<text x="154.6" y="275.25" font-size="5.9" font-family='"Liberation Serif", serif' text-anchor="end" fill="#333" stroke="#333" stroke-width="0.08" >50</text>
<line x1="158.9" y1="307.3" x2="160.2" y2="307.3" stroke="#555" stroke-width="0.7" />
<text x="154.6" y="309.3" font-size="5.9" font-family='"Liberation Serif", serif' text-anchor="end" fill="#333" stroke="#333" stroke-width="0.08" >0</text>
<line x1="160.2" y1="307.3" x2="160.2" y2="308.3" stroke="#555" stroke-width="0.7" />
<text x="160.2" y="315.4" font-size="5.9" font-family='"Liberation Serif", serif' text-anchor="middle" fill="#333" stroke="#333" stroke-width="0.08" >0</text>
<line x1="178.3" y1="307.3" x2="178.3" y2="308.3" stroke="#555" stroke-width="0.7" />
<text x="178.3" y="315.4" font-size="5.9" font-family='"Liberation Serif", serif' text-anchor="middle" fill="#333" stroke="#333" stroke-width="0.08" >100</text>
<line x1="196.1" y1="307.3" x2="196.1" y2="308.3" stroke="#555" stroke-width="0.7" />
<text x="196.1" y="315.4" font-size="5.9" font-family='"Liberation Serif", serif' text-anchor="middle" fill="#333" stroke="#333" stroke-width="0.08" >200</text>
<line x1="213.6" y1="307.3" x2="213.6" y2="308.3" stroke="#555" stroke-width="0.7" />
<text x="213.6" y="315.4" font-size="5.9" font-family='"Liberation Serif", serif' text-anchor="middle" fill="#333" stroke="#333" stroke-width="0.08" >300</text>
<line x1="230.8" y1="307.3" x2="230.8" y2="308.3" stroke="#555" stroke-width="0.7" />
<text x="230.8" y="315.4" font-size="5.9" font-family='"Liberation Serif", serif' text-anchor="middle" fill="#333" stroke="#333" stroke-width="0.08" >400</text>
<text x="197.6" y="321.8" font-size="5.7" font-family='"Liberation Sans", sans-serif' text-anchor="middle" fill="#111" stroke="#111" stroke-width="0.22" >Time to fatigue (min)</text>
<text x="145.1" y="272.1" font-size="5.7" font-family='"Liberation Sans", sans-serif' text-anchor="middle" fill="#111" stroke="#111" stroke-width="0.22" transform="rotate(-90 145.1 272.1)" >Percent still running</text>
<path d="M159.3,238.3 l1.35,2.3 h-2.7 z" fill="none" stroke="#8a7a7a" stroke-width="0.6"/>
<path d="M164.96,238.3 l1.35,2.3 h-2.7 z" fill="none" stroke="#8a7a7a" stroke-width="0.6"/>
<path d="M170.63,238.3 l1.35,2.3 h-2.7 z" fill="none" stroke="#8a7a7a" stroke-width="0.6"/>
<path d="M174.61,241.28 l1.35,2.3 h-2.7 z" fill="none" stroke="#8a7a7a" stroke-width="0.6"/>
<path d="M177.53,246.14 l1.35,2.3 h-2.7 z" fill="none" stroke="#8a7a7a" stroke-width="0.6"/>
<path d="M180.55,250.93 l1.35,2.3 h-2.7 z" fill="none" stroke="#8a7a7a" stroke-width="0.6"/>
<path d="M183.83,255.53 l1.35,2.3 h-2.7 z" fill="none" stroke="#8a7a7a" stroke-width="0.6"/>
<path d="M187.77,259.59 l1.35,2.3 h-2.7 z" fill="none" stroke="#8a7a7a" stroke-width="0.6"/>
<path d="M191.33,263.99 l1.35,2.3 h-2.7 z" fill="none" stroke="#8a7a7a" stroke-width="0.6"/>
<path d="M192.99,269.39 l1.35,2.3 h-2.7 z" fill="none" stroke="#8a7a7a" stroke-width="0.6"/>
<path d="M194.66,274.8 l1.35,2.3 h-2.7 z" fill="none" stroke="#8a7a7a" stroke-width="0.6"/>
<path d="M196.44,280.18 l1.35,2.3 h-2.7 z" fill="none" stroke="#8a7a7a" stroke-width="0.6"/>
<path d="M198.38,285.49 l1.35,2.3 h-2.7 z" fill="none" stroke="#8a7a7a" stroke-width="0.6"/>
<path d="M200.59,290.71 l1.35,2.3 h-2.7 z" fill="none" stroke="#8a7a7a" stroke-width="0.6"/>
<path d="M202.8,295.92 l1.35,2.3 h-2.7 z" fill="none" stroke="#8a7a7a" stroke-width="0.6"/>
<path d="M204.97,301.15 l1.35,2.3 h-2.7 z" fill="none" stroke="#8a7a7a" stroke-width="0.6"/>
<path d="M207.1,306.4 l1.35,2.3 h-2.7 z" fill="none" stroke="#8a7a7a" stroke-width="0.6"/>
<circle cx="159.3" cy="240.2" r="1.35" fill="none" stroke="#858585" stroke-width="0.6"/>
<circle cx="164.33" cy="242.95" r="1.35" fill="none" stroke="#858585" stroke-width="0.6"/>
<circle cx="168.77" cy="246.6" r="1.35" fill="none" stroke="#858585" stroke-width="0.6"/>
<circle cx="172.46" cy="251.01" r="1.35" fill="none" stroke="#858585" stroke-width="0.6"/>
<circle cx="175.68" cy="255.76" r="1.35" fill="none" stroke="#858585" stroke-width="0.6"/>
<circle cx="178.45" cy="260.8" r="1.35" fill="none" stroke="#858585" stroke-width="0.6"/>
<circle cx="181.05" cy="265.93" r="1.35" fill="none" stroke="#858585" stroke-width="0.6"/>
<circle cx="183.48" cy="271.14" r="1.35" fill="none" stroke="#858585" stroke-width="0.6"/>
<circle cx="185.33" cy="276.59" r="1.35" fill="none" stroke="#858585" stroke-width="0.6"/>
<circle cx="187.09" cy="282.06" r="1.35" fill="none" stroke="#858585" stroke-width="0.6"/>
<circle cx="189.29" cy="287.38" r="1.35" fill="none" stroke="#858585" stroke-width="0.6"/>
<circle cx="191.73" cy="292.58" r="1.35" fill="none" stroke="#858585" stroke-width="0.6"/>
<circle cx="194.34" cy="297.71" r="1.35" fill="none" stroke="#858585" stroke-width="0.6"/>
<circle cx="196.84" cy="302.89" r="1.35" fill="none" stroke="#858585" stroke-width="0.6"/>
<circle cx="198.8" cy="308.3" r="1.35" fill="none" stroke="#858585" stroke-width="0.6"/>
<polyline points="160.2,239.2 173.7,239.2 176.8,244.3 179.9,249.5 184.1,255.8 188.2,259.9 192.4,265.1 194.5,272.4 196.5,278.6 198.6,284.8 201.7,292.1 204.8,299.4 208,307.3" fill="none" stroke="#bb1a28" stroke-width="1.1" stroke-linejoin="round" />
<polyline points="160.2,239.2 164.3,241.2 169.5,245.4 174.7,251.6 177.8,256.8 181,263 184.1,269.3 186.2,275.5 188.2,281.7 191.3,289 194.5,295.2 197.6,301.5 199.7,307.3" fill="none" stroke="#111" stroke-width="1.15" stroke-linejoin="round" />
<rect x="203.2" y="251.2" width="40.1" height="12.9" fill="#fff" stroke="#8a8a8a" stroke-width="0.6"/>
<line x1="204.4" y1="255.07" x2="212.7" y2="255.07" stroke="#111" stroke-width="1.1" />
<circle cx="208.5" cy="255.07" r="1.05" fill="#fff" stroke="#777" stroke-width="0.5"/>
<line x1="204.4" y1="260.49" x2="212.7" y2="260.49" stroke="#bb1a28" stroke-width="1.1" />
<path d="M208.5,259.39 l1.1,1.9 h-2.2 z" fill="#fff" stroke="#a08080" stroke-width="0.5"/>
<text x="213.2" y="256.97" font-size="5.9" font-family='"Liberation Serif", serif' text-anchor="start" fill="#111" stroke="#111" stroke-width="0.08" >No exercise</text>
<text x="213.2" y="262.39" font-size="5.9" font-family='"Liberation Serif", serif' text-anchor="start" fill="#111" stroke="#111" stroke-width="0.08" >Exercise</text>
<line x1="185.1" y1="275.5" x2="195.5" y2="275.5" stroke="#111" stroke-width="0.9" />
<path d="M189.3,271 L189.74,271.99 L190.82,272.11 L190.01,272.83 L190.24,273.89 L189.3,273.35 L188.36,273.89 L188.59,272.83 L187.78,272.11 L188.86,271.99Z" fill="#111" stroke="#111" stroke-width="0.3" stroke-linejoin="round"/>
<text x="273.5" y="241" font-size="8.2" font-family='"Liberation Serif", serif' text-anchor="start" fill="#000" font-weight="bold" >K</text>
<text x="318.5" y="243.6" font-size="5.8" font-family='"Liberation Sans", sans-serif' text-anchor="start" fill="#222" stroke="#222" stroke-width="0.22" >w1118+4%salt</text>
<line x1="297.7" y1="240.8" x2="297.7" y2="308.1" stroke="#7a7a7a" stroke-width="1.6" />
<line x1="296.9" y1="308.1" x2="360.8" y2="308.1" stroke="#3a3a3a" stroke-width="1.2" />
<line x1="296.4" y1="240.8" x2="297.7" y2="240.8" stroke="#555" stroke-width="0.7" />
<text x="292.1" y="242.8" font-size="5.9" font-family='"Liberation Serif", serif' text-anchor="end" fill="#333" stroke="#333" stroke-width="0.08" >100</text>
<line x1="296.4" y1="274.45" x2="297.7" y2="274.45" stroke="#555" stroke-width="0.7" />
<text x="292.1" y="276.45" font-size="5.9" font-family='"Liberation Serif", serif' text-anchor="end" fill="#333" stroke="#333" stroke-width="0.08" >50</text>
<line x1="296.4" y1="308.1" x2="297.7" y2="308.1" stroke="#555" stroke-width="0.7" />
<text x="292.1" y="310.1" font-size="5.9" font-family='"Liberation Serif", serif' text-anchor="end" fill="#333" stroke="#333" stroke-width="0.08" >0</text>
<line x1="297.7" y1="308.1" x2="297.7" y2="309.1" stroke="#555" stroke-width="0.7" />
<text x="297.7" y="316.2" font-size="5.9" font-family='"Liberation Serif", serif' text-anchor="middle" fill="#333" stroke="#333" stroke-width="0.08" >0</text>
<line x1="316.2" y1="308.1" x2="316.2" y2="309.1" stroke="#555" stroke-width="0.7" />
<text x="316.2" y="316.2" font-size="5.9" font-family='"Liberation Serif", serif' text-anchor="middle" fill="#333" stroke="#333" stroke-width="0.08" >100</text>
<line x1="334.6" y1="308.1" x2="334.6" y2="309.1" stroke="#555" stroke-width="0.7" />
<text x="334.6" y="316.2" font-size="5.9" font-family='"Liberation Serif", serif' text-anchor="middle" fill="#333" stroke="#333" stroke-width="0.08" >200</text>
<line x1="351.5" y1="308.1" x2="351.5" y2="309.1" stroke="#555" stroke-width="0.7" />
<text x="351.5" y="316.2" font-size="5.9" font-family='"Liberation Serif", serif' text-anchor="middle" fill="#333" stroke="#333" stroke-width="0.08" >300</text>
<text x="330" y="322.5" font-size="5.7" font-family='"Liberation Sans", sans-serif' text-anchor="middle" fill="#111" stroke="#111" stroke-width="0.22" >Time to fatigue (min)</text>
<text x="283.25" y="274" font-size="5.7" font-family='"Liberation Sans", sans-serif' text-anchor="middle" fill="#111" stroke="#111" stroke-width="0.22" transform="rotate(-90 283.25 274)" >Percent still running</text>
<path d="M296.8,239.9 l1.35,2.3 h-2.7 z" fill="none" stroke="#8a7a7a" stroke-width="0.6"/>
<path d="M301.54,242.19 l1.35,2.3 h-2.7 z" fill="none" stroke="#8a7a7a" stroke-width="0.6"/>
<path d="M304.99,246.99 l1.35,2.3 h-2.7 z" fill="none" stroke="#8a7a7a" stroke-width="0.6"/>
<path d="M308.6,251.68 l1.35,2.3 h-2.7 z" fill="none" stroke="#8a7a7a" stroke-width="0.6"/>
<path d="M311.69,256.65 l1.35,2.3 h-2.7 z" fill="none" stroke="#8a7a7a" stroke-width="0.6"/>
<path d="M313.83,262.16 l1.35,2.3 h-2.7 z" fill="none" stroke="#8a7a7a" stroke-width="0.6"/>
<path d="M315.71,267.77 l1.35,2.3 h-2.7 z" fill="none" stroke="#8a7a7a" stroke-width="0.6"/>
<path d="M317.4,273.44 l1.35,2.3 h-2.7 z" fill="none" stroke="#8a7a7a" stroke-width="0.6"/>
<path d="M319.1,279.11 l1.35,2.3 h-2.7 z" fill="none" stroke="#8a7a7a" stroke-width="0.6"/>
<path d="M320.79,284.78 l1.35,2.3 h-2.7 z" fill="none" stroke="#8a7a7a" stroke-width="0.6"/>
<path d="M322.48,290.44 l1.35,2.3 h-2.7 z" fill="none" stroke="#8a7a7a" stroke-width="0.6"/>
<path d="M324.18,296.11 l1.35,2.3 h-2.7 z" fill="none" stroke="#8a7a7a" stroke-width="0.6"/>
<path d="M326.2,301.67 l1.35,2.3 h-2.7 z" fill="none" stroke="#8a7a7a" stroke-width="0.6"/>
<path d="M328.3,307.2 l1.35,2.3 h-2.7 z" fill="none" stroke="#8a7a7a" stroke-width="0.6"/>
<circle cx="296.8" cy="241.8" r="1.35" fill="none" stroke="#858585" stroke-width="0.6"/>
<circle cx="300.52" cy="246.24" r="1.35" fill="none" stroke="#858585" stroke-width="0.6"/>
<circle cx="304.14" cy="250.75" r="1.35" fill="none" stroke="#858585" stroke-width="0.6"/>
<circle cx="308.08" cy="254.98" r="1.35" fill="none" stroke="#858585" stroke-width="0.6"/>
<circle cx="311.57" cy="259.56" r="1.35" fill="none" stroke="#858585" stroke-width="0.6"/>
<circle cx="313.62" cy="264.98" r="1.35" fill="none" stroke="#858585" stroke-width="0.6"/>
<circle cx="315.63" cy="270.4" r="1.35" fill="none" stroke="#858585" stroke-width="0.6"/>
<circle cx="317.35" cy="275.93" r="1.35" fill="none" stroke="#858585" stroke-width="0.6"/>
<circle cx="319.01" cy="281.47" r="1.35" fill="none" stroke="#858585" stroke-width="0.6"/>
<circle cx="320.66" cy="287.02" r="1.35" fill="none" stroke="#858585" stroke-width="0.6"/>
<circle cx="322.19" cy="292.6" r="1.35" fill="none" stroke="#858585" stroke-width="0.6"/>
<circle cx="323.9" cy="298.13" r="1.35" fill="none" stroke="#858585" stroke-width="0.6"/>
<circle cx="325.77" cy="303.61" r="1.35" fill="none" stroke="#858585" stroke-width="0.6"/>
<circle cx="327.6" cy="309.1" r="1.35" fill="none" stroke="#858585" stroke-width="0.6"/>
<polyline points="297.7,240.8 300.8,240.8 303.8,245 307.7,250.4 311.5,255 313.8,260.4 316.2,267.3 318.5,275 320.8,282.7 323.1,290.4 325.4,298.1 329.2,308.1" fill="none" stroke="#bb1a28" stroke-width="1.1" stroke-linejoin="round" />
<polyline points="297.7,240.8 300,243.5 303.1,247.3 306.2,251.2 309.2,254.2 312.3,258.1 314.6,264.2 316.9,270.4 319.2,278.1 321.5,285.8 323.8,294.2 326.2,301.2 328.5,308.1" fill="none" stroke="#111" stroke-width="1.15" stroke-linejoin="round" />
<rect x="330.8" y="254.2" width="36.9" height="12.3" fill="#fff" stroke="#8a8a8a" stroke-width="0.6"/>
<line x1="332" y1="257.89" x2="340.3" y2="257.89" stroke="#111" stroke-width="1.1" />
<circle cx="336.1" cy="257.89" r="1.05" fill="#fff" stroke="#777" stroke-width="0.5"/>
<line x1="332" y1="263.06" x2="340.3" y2="263.06" stroke="#bb1a28" stroke-width="1.1" />
<path d="M336.1,261.96 l1.1,1.9 h-2.2 z" fill="#fff" stroke="#a08080" stroke-width="0.5"/>
<text x="340.8" y="259.79" font-size="5.9" font-family='"Liberation Serif", serif' text-anchor="start" fill="#111" stroke="#111" stroke-width="0.08" >No exercise</text>
<text x="340.8" y="264.96" font-size="5.9" font-family='"Liberation Serif", serif' text-anchor="start" fill="#111" stroke="#111" stroke-width="0.08" >Exercise</text>
<line x1="320.8" y1="288.1" x2="327.7" y2="288.1" stroke="#111" stroke-width="0.9" />
<text x="325.8" y="287.1" font-size="5.2" font-family='"Liberation Sans", sans-serif' text-anchor="middle" fill="#111" stroke="#111" stroke-width="0.22" >ns</text>
<text x="396" y="240" font-size="8.2" font-family='"Liberation Serif", serif' text-anchor="start" fill="#000" font-weight="bold" >L</text>
<text x="440.2" y="242.9" font-size="5.8" font-family='"Liberation Sans", sans-serif' text-anchor="start" fill="#222" stroke="#222" stroke-width="0.22" >w1118+8%salt</text>
<line x1="421.9" y1="238.2" x2="421.9" y2="305.1" stroke="#7a7a7a" stroke-width="1.6" />
<line x1="421.1" y1="305.1" x2="482.7" y2="305.1" stroke="#3a3a3a" stroke-width="1.2" />
<line x1="420.6" y1="238.2" x2="421.9" y2="238.2" stroke="#555" stroke-width="0.7" />
<text x="416.3" y="240.2" font-size="5.9" font-family='"Liberation Serif", serif' text-anchor="end" fill="#333" stroke="#333" stroke-width="0.08" >100</text>
<line x1="420.6" y1="271.65" x2="421.9" y2="271.65" stroke="#555" stroke-width="0.7" />
<text x="416.3" y="273.65" font-size="5.9" font-family='"Liberation Serif", serif' text-anchor="end" fill="#333" stroke="#333" stroke-width="0.08" >50</text>
<line x1="420.6" y1="305.1" x2="421.9" y2="305.1" stroke="#555" stroke-width="0.7" />
<text x="416.3" y="307.1" font-size="5.9" font-family='"Liberation Serif", serif' text-anchor="end" fill="#333" stroke="#333" stroke-width="0.08" >0</text>
<line x1="421.9" y1="305.1" x2="421.9" y2="306.1" stroke="#555" stroke-width="0.7" />
<text x="421.9" y="313.5" font-size="5.9" font-family='"Liberation Serif", serif' text-anchor="middle" fill="#333" stroke="#333" stroke-width="0.08" >0</text>
<line x1="439.6" y1="305.1" x2="439.6" y2="306.1" stroke="#555" stroke-width="0.7" />
<text x="439.6" y="313.5" font-size="5.9" font-family='"Liberation Serif", serif' text-anchor="middle" fill="#333" stroke="#333" stroke-width="0.08" >100</text>
<line x1="458.1" y1="305.1" x2="458.1" y2="306.1" stroke="#555" stroke-width="0.7" />
<text x="458.1" y="313.5" font-size="5.9" font-family='"Liberation Serif", serif' text-anchor="middle" fill="#333" stroke="#333" stroke-width="0.08" >200</text>
<line x1="475.8" y1="305.1" x2="475.8" y2="306.1" stroke="#555" stroke-width="0.7" />
<text x="475.8" y="313.5" font-size="5.9" font-family='"Liberation Serif", serif' text-anchor="middle" fill="#333" stroke="#333" stroke-width="0.08" >300</text>
<text x="451.4" y="321.2" font-size="5.7" font-family='"Liberation Sans", sans-serif' text-anchor="middle" fill="#111" stroke="#111" stroke-width="0.22" >Time to fatigue (min)</text>
<text x="403.5" y="271" font-size="5.7" font-family='"Liberation Sans", sans-serif' text-anchor="middle" fill="#111" stroke="#111" stroke-width="0.22" transform="rotate(-90 403.5 271)" >Percent still running</text>
<path d="M421,237.3 l1.35,2.3 h-2.7 z" fill="none" stroke="#8a7a7a" stroke-width="0.6"/>
<path d="M424.3,242.2 l1.35,2.3 h-2.7 z" fill="none" stroke="#8a7a7a" stroke-width="0.6"/>
<path d="M427.46,247.18 l1.35,2.3 h-2.7 z" fill="none" stroke="#8a7a7a" stroke-width="0.6"/>
<path d="M429.53,252.72 l1.35,2.3 h-2.7 z" fill="none" stroke="#8a7a7a" stroke-width="0.6"/>
<path d="M431.11,258.42 l1.35,2.3 h-2.7 z" fill="none" stroke="#8a7a7a" stroke-width="0.6"/>
<path d="M432.59,264.14 l1.35,2.3 h-2.7 z" fill="none" stroke="#8a7a7a" stroke-width="0.6"/>
<path d="M434.15,269.85 l1.35,2.3 h-2.7 z" fill="none" stroke="#8a7a7a" stroke-width="0.6"/>
<path d="M435.63,275.57 l1.35,2.3 h-2.7 z" fill="none" stroke="#8a7a7a" stroke-width="0.6"/>
<path d="M437.05,281.31 l1.35,2.3 h-2.7 z" fill="none" stroke="#8a7a7a" stroke-width="0.6"/>
<path d="M438.49,287.05 l1.35,2.3 h-2.7 z" fill="none" stroke="#8a7a7a" stroke-width="0.6"/>
<path d="M439.94,292.78 l1.35,2.3 h-2.7 z" fill="none" stroke="#8a7a7a" stroke-width="0.6"/>
<path d="M441.42,298.5 l1.35,2.3 h-2.7 z" fill="none" stroke="#8a7a7a" stroke-width="0.6"/>
<path d="M443,304.2 l1.35,2.3 h-2.7 z" fill="none" stroke="#8a7a7a" stroke-width="0.6"/>
<circle cx="421" cy="239.2" r="1.35" fill="none" stroke="#858585" stroke-width="0.6"/>
<circle cx="424.06" cy="244.43" r="1.35" fill="none" stroke="#858585" stroke-width="0.6"/>
<circle cx="427.43" cy="249.48" r="1.35" fill="none" stroke="#858585" stroke-width="0.6"/>
<circle cx="430.83" cy="254.42" r="1.35" fill="none" stroke="#858585" stroke-width="0.6"/>
<circle cx="432.99" cy="260.09" r="1.35" fill="none" stroke="#858585" stroke-width="0.6"/>
<circle cx="435.4" cy="265.65" r="1.35" fill="none" stroke="#858585" stroke-width="0.6"/>
<circle cx="437.88" cy="271.19" r="1.35" fill="none" stroke="#858585" stroke-width="0.6"/>
<circle cx="440.12" cy="276.82" r="1.35" fill="none" stroke="#858585" stroke-width="0.6"/>
<circle cx="442.02" cy="282.58" r="1.35" fill="none" stroke="#858585" stroke-width="0.6"/>
<circle cx="443.71" cy="288.4" r="1.35" fill="none" stroke="#858585" stroke-width="0.6"/>
<circle cx="445.21" cy="294.27" r="1.35" fill="none" stroke="#858585" stroke-width="0.6"/>
<circle cx="446.61" cy="300.17" r="1.35" fill="none" stroke="#858585" stroke-width="0.6"/>
<circle cx="447.9" cy="306.1" r="1.35" fill="none" stroke="#858585" stroke-width="0.6"/>
<polyline points="421.9,238.2 425,242.8 428.1,247.4 430.4,253.5 431.9,258.9 433.5,265.1 435.8,273.5 438.1,282.8 440.4,292 442.4,299.7 443.9,305.1" fill="none" stroke="#bb1a28" stroke-width="1.1" stroke-linejoin="round" />
<polyline points="421.9,238.2 425,243.5 428.1,248.2 431.2,252 433.5,258.2 436.5,265.1 439.6,272 441.9,278.2 444.2,285.8 445.8,292 447.3,298.2 448.8,305.1" fill="none" stroke="#111" stroke-width="1.15" stroke-linejoin="round" />
<rect x="449.2" y="252" width="37.8" height="11.5" fill="#fff" stroke="#8a8a8a" stroke-width="0.6"/>
<line x1="450.4" y1="255.45" x2="458.7" y2="255.45" stroke="#111" stroke-width="1.1" />
<circle cx="454.5" cy="255.45" r="1.05" fill="#fff" stroke="#777" stroke-width="0.5"/>
<line x1="450.4" y1="260.28" x2="458.7" y2="260.28" stroke="#bb1a28" stroke-width="1.1" />
<path d="M454.5,259.18 l1.1,1.9 h-2.2 z" fill="#fff" stroke="#a08080" stroke-width="0.5"/>
<text x="459.2" y="257.35" font-size="5.9" font-family='"Liberation Serif", serif' text-anchor="start" fill="#111" stroke="#111" stroke-width="0.08" >No exercise</text>
<text x="459.2" y="262.18" font-size="5.9" font-family='"Liberation Serif", serif' text-anchor="start" fill="#111" stroke="#111" stroke-width="0.08" >Exercise</text>
<line x1="435.8" y1="285.8" x2="443.5" y2="285.8" stroke="#111" stroke-width="0.9" />
<text x="439.6" y="285.1" font-size="5.2" font-family='"Liberation Sans", sans-serif' text-anchor="middle" fill="#111" stroke="#111" stroke-width="0.22" >ns</text>
<text x="237" y="7.9" font-size="5.75" font-family='"Liberation Sans", sans-serif' text-anchor="start" fill="#222" stroke="#222" stroke-width="0.22" >1-week old</text>
<text x="238.5" y="120.7" font-size="5.75" font-family='"Liberation Sans", sans-serif' text-anchor="start" fill="#222" stroke="#222" stroke-width="0.22" >3-week old</text>
<text x="238.1" y="228.4" font-size="5.75" font-family='"Liberation Sans", sans-serif' text-anchor="start" fill="#222" stroke="#222" stroke-width="0.22" >5-week old</text>
<text x="4.8" y="341.5" font-size="8.2" font-family='"Liberation Serif", serif' text-anchor="start" fill="#000" font-weight="bold" >M</text>
<text x="35" y="345.6" font-size="5.8" font-family='"Liberation Sans", sans-serif' text-anchor="start" fill="#222" stroke="#222" stroke-width="0.22" >w1118</text>
<line x1="27.5" y1="348.5" x2="27.5" y2="413" stroke="#222" stroke-width="0.9" />
<line x1="27.5" y1="413" x2="125.1" y2="413" stroke="#222" stroke-width="0.9" />
<line x1="26.1" y1="413" x2="27.5" y2="413" stroke="#333" stroke-width="0.7" />
<text x="22" y="414.9" font-size="5.5" font-family='"Liberation Serif", serif' text-anchor="end" fill="#333" stroke="#333" stroke-width="0.08" >0.00</text>
<line x1="26.1" y1="403.79" x2="27.5" y2="403.79" stroke="#333" stroke-width="0.7" />
<text x="22" y="405.69" font-size="5.5" font-family='"Liberation Serif", serif' text-anchor="end" fill="#333" stroke="#333" stroke-width="0.08" >0.20</text>
<line x1="26.1" y1="394.57" x2="27.5" y2="394.57" stroke="#333" stroke-width="0.7" />
<text x="22" y="396.47" font-size="5.5" font-family='"Liberation Serif", serif' text-anchor="end" fill="#333" stroke="#333" stroke-width="0.08" >0.40</text>
<line x1="26.1" y1="385.36" x2="27.5" y2="385.36" stroke="#333" stroke-width="0.7" />
<text x="22" y="387.26" font-size="5.5" font-family='"Liberation Serif", serif' text-anchor="end" fill="#333" stroke="#333" stroke-width="0.08" >0.60</text>
<line x1="26.1" y1="376.14" x2="27.5" y2="376.14" stroke="#333" stroke-width="0.7" />
<text x="22" y="378.04" font-size="5.5" font-family='"Liberation Serif", serif' text-anchor="end" fill="#333" stroke="#333" stroke-width="0.08" >0.80</text>
<line x1="26.1" y1="366.93" x2="27.5" y2="366.93" stroke="#333" stroke-width="0.7" />
<text x="22" y="368.83" font-size="5.5" font-family='"Liberation Serif", serif' text-anchor="end" fill="#333" stroke="#333" stroke-width="0.08" >1.00</text>
<line x1="26.1" y1="357.71" x2="27.5" y2="357.71" stroke="#333" stroke-width="0.7" />
<text x="22" y="359.61" font-size="5.5" font-family='"Liberation Serif", serif' text-anchor="end" fill="#333" stroke="#333" stroke-width="0.08" >1.20</text>
<line x1="26.1" y1="348.5" x2="27.5" y2="348.5" stroke="#333" stroke-width="0.7" />
<text x="22" y="350.4" font-size="5.5" font-family='"Liberation Serif", serif' text-anchor="end" fill="#333" stroke="#333" stroke-width="0.08" >1.40</text>
<line x1="40.3" y1="413" x2="40.3" y2="414.3" stroke="#333" stroke-width="0.7" />
<text x="37.9" y="420.4" font-size="5.5" font-family='"Liberation Serif", serif' text-anchor="middle" fill="#333" stroke="#333" stroke-width="0.08" >2-day-old</text>
<text x="37.7" y="427.1" font-size="5.5" font-family='"Liberation Serif", serif' text-anchor="middle" fill="#333" stroke="#333" stroke-width="0.08" >flies</text>
<line x1="66.3" y1="413" x2="66.3" y2="414.3" stroke="#333" stroke-width="0.7" />
<text x="63.4" y="420.4" font-size="5.5" font-family='"Liberation Serif", serif' text-anchor="middle" fill="#333" stroke="#333" stroke-width="0.08" >1-week-old</text>
<text x="61.2" y="427.1" font-size="5.5" font-family='"Liberation Serif", serif' text-anchor="middle" fill="#333" stroke="#333" stroke-width="0.08" >flies</text>
<line x1="92.3" y1="413" x2="92.3" y2="414.3" stroke="#333" stroke-width="0.7" />
<text x="90.5" y="420.4" font-size="5.5" font-family='"Liberation Serif", serif' text-anchor="middle" fill="#333" stroke="#333" stroke-width="0.08" >3-week-old</text>
<text x="88.3" y="427.1" font-size="5.5" font-family='"Liberation Serif", serif' text-anchor="middle" fill="#333" stroke="#333" stroke-width="0.08" >flies</text>
<line x1="118.2" y1="413" x2="118.2" y2="414.3" stroke="#333" stroke-width="0.7" />
<text x="118.4" y="420.4" font-size="5.5" font-family='"Liberation Serif", serif' text-anchor="middle" fill="#333" stroke="#333" stroke-width="0.08" >5-week-old</text>
<text x="116.4" y="427.1" font-size="5.5" font-family='"Liberation Serif", serif' text-anchor="middle" fill="#333" stroke="#333" stroke-width="0.08" >flies</text>
<text x="74.5" y="433.9" font-size="5.8" font-family='"Liberation Sans", sans-serif' text-anchor="middle" fill="#111" stroke="#111" stroke-width="0.22" >Age</text>
<text x="8" y="382" font-size="5.5" font-family='"Liberation Serif", serif' text-anchor="middle" fill="#222" stroke="#222" stroke-width="0.08" transform="rotate(-90 8 382)" >Normalized climbing index</text>
<path d="M67,345.7 V343.4 H118.7 V345.7" fill="none" stroke="#111" stroke-width="0.9"/>
<path d="M91.4,338.45 L91.84,339.59 L93.06,339.66 L92.11,340.43 L92.43,341.62 L91.4,340.95 L90.37,341.62 L90.69,340.43 L89.74,339.66 L90.96,339.59Z" fill="#111" stroke="#111" stroke-width="0.3" stroke-linejoin="round"/>
<path d="M95.8,338.45 L96.24,339.59 L97.46,339.66 L96.51,340.43 L96.83,341.62 L95.8,340.95 L94.77,341.62 L95.09,340.43 L94.14,339.66 L95.36,339.59Z" fill="#111" stroke="#111" stroke-width="0.3" stroke-linejoin="round"/>
<polyline points="40.3,367.2 66.3,355.1 92.3,364.6 118.2,377.6" fill="none" stroke="#c21c2c" stroke-width="1.15" stroke-linejoin="round" stroke-dasharray="2.6,1.4"/>
<polyline points="40.3,367.2 66.3,368.4 92.3,374.1 118.2,391.4" fill="none" stroke="#111" stroke-width="1.1" stroke-linejoin="round" />
<line x1="40.3" y1="364" x2="40.3" y2="370.4" stroke="#111" stroke-width="1" />
<line x1="39.2" y1="364" x2="41.4" y2="364" stroke="#111" stroke-width="0.9" />
<line x1="39.2" y1="370.4" x2="41.4" y2="370.4" stroke="#111" stroke-width="0.9" />
<line x1="66.3" y1="365.2" x2="66.3" y2="371.6" stroke="#111" stroke-width="1" />
<line x1="65.2" y1="365.2" x2="67.4" y2="365.2" stroke="#111" stroke-width="0.9" />
<line x1="65.2" y1="371.6" x2="67.4" y2="371.6" stroke="#111" stroke-width="0.9" />
<line x1="66.3" y1="352.5" x2="66.3" y2="357.7" stroke="#c21c2c" stroke-width="1" />
<line x1="65.2" y1="352.5" x2="67.4" y2="352.5" stroke="#c21c2c" stroke-width="0.9" />
<line x1="65.2" y1="357.7" x2="67.4" y2="357.7" stroke="#c21c2c" stroke-width="0.9" />
<line x1="92.3" y1="371.6" x2="92.3" y2="376.6" stroke="#111" stroke-width="1" />
<line x1="91.2" y1="371.6" x2="93.4" y2="371.6" stroke="#111" stroke-width="0.9" />
<line x1="91.2" y1="376.6" x2="93.4" y2="376.6" stroke="#111" stroke-width="0.9" />
<line x1="92.3" y1="360.8" x2="92.3" y2="368.4" stroke="#c21c2c" stroke-width="1" />
<line x1="91.2" y1="360.8" x2="93.4" y2="360.8" stroke="#c21c2c" stroke-width="0.9" />
<line x1="91.2" y1="368.4" x2="93.4" y2="368.4" stroke="#c21c2c" stroke-width="0.9" />
<line x1="118.2" y1="389.4" x2="118.2" y2="393.4" stroke="#111" stroke-width="1" />
<line x1="117.1" y1="389.4" x2="119.3" y2="389.4" stroke="#111" stroke-width="0.9" />
<line x1="117.1" y1="393.4" x2="119.3" y2="393.4" stroke="#111" stroke-width="0.9" />
<line x1="118.2" y1="375" x2="118.2" y2="380.2" stroke="#c21c2c" stroke-width="1" />
<line x1="117.1" y1="375" x2="119.3" y2="375" stroke="#c21c2c" stroke-width="0.9" />
<line x1="117.1" y1="380.2" x2="119.3" y2="380.2" stroke="#c21c2c" stroke-width="0.9" />
<path d="M65,347.15 L65.44,348.29 L66.66,348.36 L65.71,349.13 L66.03,350.32 L65,349.65 L63.97,350.32 L64.29,349.13 L63.34,348.36 L64.56,348.29Z" fill="#111" stroke="#111" stroke-width="0.3" stroke-linejoin="round"/>
<path d="M69.4,347.15 L69.84,348.29 L71.06,348.36 L70.11,349.13 L70.43,350.32 L69.4,349.65 L68.37,350.32 L68.69,349.13 L67.74,348.36 L68.96,348.29Z" fill="#111" stroke="#111" stroke-width="0.3" stroke-linejoin="round"/>
<path d="M93.5,355.85 L93.94,356.99 L95.16,357.06 L94.21,357.83 L94.53,359.02 L93.5,358.35 L92.47,359.02 L92.79,357.83 L91.84,357.06 L93.06,356.99Z" fill="#111" stroke="#111" stroke-width="0.3" stroke-linejoin="round"/>
<path d="M116.9,369.75 L117.34,370.89 L118.56,370.96 L117.61,371.73 L117.93,372.92 L116.9,372.25 L115.87,372.92 L116.19,371.73 L115.24,370.96 L116.46,370.89Z" fill="#111" stroke="#111" stroke-width="0.3" stroke-linejoin="round"/>
<path d="M121.3,369.75 L121.74,370.89 L122.96,370.96 L122.01,371.73 L122.33,372.92 L121.3,372.25 L120.27,372.92 L120.59,371.73 L119.64,370.96 L120.86,370.89Z" fill="#111" stroke="#111" stroke-width="0.3" stroke-linejoin="round"/>
<rect x="30.5" y="387.6" width="42.4" height="12.4" fill="#fff" stroke="#888" stroke-width="0.6"/>
<line x1="32.4" y1="391.5" x2="43.5" y2="391.5" stroke="#111" stroke-width="1.1" />
<line x1="32.9" y1="395.5" x2="42.7" y2="395.5" stroke="#c21c2c" stroke-width="1.2" stroke-dasharray="2.4,1.3"/>
<text x="44.4" y="393.4" font-size="5.9" font-family='"Liberation Serif", serif' text-anchor="start" fill="#111" stroke="#111" stroke-width="0.08" >No exercise</text>
<text x="44.4" y="397.5" font-size="5.9" font-family='"Liberation Serif", serif' text-anchor="start" fill="#111" stroke="#111" stroke-width="0.08" >Exercise</text>
<text x="141.5" y="340.7" font-size="8.2" font-family='"Liberation Serif", serif' text-anchor="start" fill="#000" font-weight="bold" >N</text>
<text x="160" y="345.6" font-size="5.8" font-family='"Liberation Sans", sans-serif' text-anchor="start" fill="#222" stroke="#222" stroke-width="0.22" >w1118+2%salt</text>
<line x1="156.3" y1="348.7" x2="156.3" y2="413.6" stroke="#222" stroke-width="0.9" />
<line x1="156.3" y1="413.6" x2="255" y2="413.6" stroke="#222" stroke-width="0.9" />
<line x1="154.9" y1="413.6" x2="156.3" y2="413.6" stroke="#333" stroke-width="0.7" />
<text x="150.8" y="415.5" font-size="5.5" font-family='"Liberation Serif", serif' text-anchor="end" fill="#333" stroke="#333" stroke-width="0.08" >0.00</text>
<line x1="154.9" y1="404.33" x2="156.3" y2="404.33" stroke="#333" stroke-width="0.7" />
<text x="150.8" y="406.23" font-size="5.5" font-family='"Liberation Serif", serif' text-anchor="end" fill="#333" stroke="#333" stroke-width="0.08" >0.20</text>
<line x1="154.9" y1="395.06" x2="156.3" y2="395.06" stroke="#333" stroke-width="0.7" />
<text x="150.8" y="396.96" font-size="5.5" font-family='"Liberation Serif", serif' text-anchor="end" fill="#333" stroke="#333" stroke-width="0.08" >0.40</text>
<line x1="154.9" y1="385.79" x2="156.3" y2="385.79" stroke="#333" stroke-width="0.7" />
<text x="150.8" y="387.69" font-size="5.5" font-family='"Liberation Serif", serif' text-anchor="end" fill="#333" stroke="#333" stroke-width="0.08" >0.60</text>
<line x1="154.9" y1="376.51" x2="156.3" y2="376.51" stroke="#333" stroke-width="0.7" />
<text x="150.8" y="378.41" font-size="5.5" font-family='"Liberation Serif", serif' text-anchor="end" fill="#333" stroke="#333" stroke-width="0.08" >0.80</text>
<line x1="154.9" y1="367.24" x2="156.3" y2="367.24" stroke="#333" stroke-width="0.7" />
<text x="150.8" y="369.14" font-size="5.5" font-family='"Liberation Serif", serif' text-anchor="end" fill="#333" stroke="#333" stroke-width="0.08" >1.00</text>
<line x1="154.9" y1="357.97" x2="156.3" y2="357.97" stroke="#333" stroke-width="0.7" />
<text x="150.8" y="359.87" font-size="5.5" font-family='"Liberation Serif", serif' text-anchor="end" fill="#333" stroke="#333" stroke-width="0.08" >1.20</text>
<line x1="154.9" y1="348.7" x2="156.3" y2="348.7" stroke="#333" stroke-width="0.7" />
<text x="150.8" y="350.6" font-size="5.5" font-family='"Liberation Serif", serif' text-anchor="end" fill="#333" stroke="#333" stroke-width="0.08" >1.40</text>
<line x1="169.5" y1="413.6" x2="169.5" y2="414.9" stroke="#333" stroke-width="0.7" />
<text x="168" y="421" font-size="5.5" font-family='"Liberation Serif", serif' text-anchor="middle" fill="#333" stroke="#333" stroke-width="0.08" >2-day-old</text>
<text x="167.3" y="427.7" font-size="5.5" font-family='"Liberation Serif", serif' text-anchor="middle" fill="#333" stroke="#333" stroke-width="0.08" >flies</text>
<line x1="196" y1="413.6" x2="196" y2="414.9" stroke="#333" stroke-width="0.7" />
<text x="193.7" y="421" font-size="5.5" font-family='"Liberation Serif", serif' text-anchor="middle" fill="#333" stroke="#333" stroke-width="0.08" >1-week-old</text>
<text x="191.2" y="427.7" font-size="5.5" font-family='"Liberation Serif", serif' text-anchor="middle" fill="#333" stroke="#333" stroke-width="0.08" >flies</text>
<line x1="221.9" y1="413.6" x2="221.9" y2="414.9" stroke="#333" stroke-width="0.7" />
<text x="220.3" y="421" font-size="5.5" font-family='"Liberation Serif", serif' text-anchor="middle" fill="#333" stroke="#333" stroke-width="0.08" >3-week-old</text>
<text x="218.1" y="427.7" font-size="5.5" font-family='"Liberation Serif", serif' text-anchor="middle" fill="#333" stroke="#333" stroke-width="0.08" >flies</text>
<line x1="247.9" y1="413.6" x2="247.9" y2="414.9" stroke="#333" stroke-width="0.7" />
<text x="249" y="421" font-size="5.5" font-family='"Liberation Serif", serif' text-anchor="middle" fill="#333" stroke="#333" stroke-width="0.08" >5-week-old</text>
<text x="247.3" y="427.7" font-size="5.5" font-family='"Liberation Serif", serif' text-anchor="middle" fill="#333" stroke="#333" stroke-width="0.08" >flies</text>
<text x="210.3" y="434.5" font-size="5.8" font-family='"Liberation Sans", sans-serif' text-anchor="middle" fill="#111" stroke="#111" stroke-width="0.22" >Age</text>
<path d="M196,352.7 V350.4 H247.9 V352.7" fill="none" stroke="#111" stroke-width="0.9"/>
<path d="M220.6,345.25 L221.04,346.39 L222.26,346.46 L221.31,347.23 L221.63,348.42 L220.6,347.75 L219.57,348.42 L219.89,347.23 L218.94,346.46 L220.16,346.39Z" fill="#111" stroke="#111" stroke-width="0.3" stroke-linejoin="round"/>
<path d="M225,345.25 L225.44,346.39 L226.66,346.46 L225.71,347.23 L226.03,348.42 L225,347.75 L223.97,348.42 L224.29,347.23 L223.34,346.46 L224.56,346.39Z" fill="#111" stroke="#111" stroke-width="0.3" stroke-linejoin="round"/>
<polyline points="169.5,367.3 196,361.7 221.9,369.4 247.9,386.2" fill="none" stroke="#c21c2c" stroke-width="1.15" stroke-linejoin="round" stroke-dasharray="2.6,1.4"/>
<polyline points="169.5,367.3 196,371.5 221.9,380.5 247.9,396.6" fill="none" stroke="#111" stroke-width="1.1" stroke-linejoin="round" />
<line x1="169.5" y1="364" x2="169.5" y2="370.6" stroke="#111" stroke-width="1" />
<line x1="168.4" y1="364" x2="170.6" y2="364" stroke="#111" stroke-width="0.9" />
<line x1="168.4" y1="370.6" x2="170.6" y2="370.6" stroke="#111" stroke-width="0.9" />
<line x1="196" y1="368.9" x2="196" y2="374.1" stroke="#111" stroke-width="1" />
<line x1="194.9" y1="368.9" x2="197.1" y2="368.9" stroke="#111" stroke-width="0.9" />
<line x1="194.9" y1="374.1" x2="197.1" y2="374.1" stroke="#111" stroke-width="0.9" />
<line x1="196" y1="359.2" x2="196" y2="364.2" stroke="#c21c2c" stroke-width="1" />
<line x1="194.9" y1="359.2" x2="197.1" y2="359.2" stroke="#c21c2c" stroke-width="0.9" />
<line x1="194.9" y1="364.2" x2="197.1" y2="364.2" stroke="#c21c2c" stroke-width="0.9" />
<line x1="221.9" y1="377" x2="221.9" y2="384" stroke="#111" stroke-width="1" />
<line x1="220.8" y1="377" x2="223" y2="377" stroke="#111" stroke-width="0.9" />
<line x1="220.8" y1="384" x2="223" y2="384" stroke="#111" stroke-width="0.9" />
<line x1="221.9" y1="366.6" x2="221.9" y2="372.2" stroke="#c21c2c" stroke-width="1" />
<line x1="220.8" y1="366.6" x2="223" y2="366.6" stroke="#c21c2c" stroke-width="0.9" />
<line x1="220.8" y1="372.2" x2="223" y2="372.2" stroke="#c21c2c" stroke-width="0.9" />
<line x1="247.9" y1="393.6" x2="247.9" y2="399.6" stroke="#111" stroke-width="1" />
<line x1="246.8" y1="393.6" x2="249" y2="393.6" stroke="#111" stroke-width="0.9" />
<line x1="246.8" y1="399.6" x2="249" y2="399.6" stroke="#111" stroke-width="0.9" />
<line x1="247.9" y1="382.8" x2="247.9" y2="389.6" stroke="#c21c2c" stroke-width="1" />
<line x1="246.8" y1="382.8" x2="249" y2="382.8" stroke="#c21c2c" stroke-width="0.9" />
<line x1="246.8" y1="389.6" x2="249" y2="389.6" stroke="#c21c2c" stroke-width="0.9" />
<path d="M196,354.25 L196.44,355.39 L197.66,355.46 L196.71,356.23 L197.03,357.42 L196,356.75 L194.97,357.42 L195.29,356.23 L194.34,355.46 L195.56,355.39Z" fill="#111" stroke="#111" stroke-width="0.3" stroke-linejoin="round"/>
<path d="M221.9,361.15 L222.34,362.29 L223.56,362.36 L222.61,363.13 L222.93,364.32 L221.9,363.65 L220.87,364.32 L221.19,363.13 L220.24,362.36 L221.46,362.29Z" fill="#111" stroke="#111" stroke-width="0.3" stroke-linejoin="round"/>
<path d="M247.9,377.05 L248.34,378.19 L249.56,378.26 L248.61,379.03 L248.93,380.22 L247.9,379.55 L246.87,380.22 L247.19,379.03 L246.24,378.26 L247.46,378.19Z" fill="#111" stroke="#111" stroke-width="0.3" stroke-linejoin="round"/>
<rect x="159.2" y="387.6" width="42.3" height="13.6" fill="#fff" stroke="#888" stroke-width="0.6"/>
<line x1="161.1" y1="391.5" x2="172.2" y2="391.5" stroke="#111" stroke-width="1.1" />
<line x1="161.6" y1="396.5" x2="171.4" y2="396.5" stroke="#c21c2c" stroke-width="1.2" stroke-dasharray="2.4,1.3"/>
<text x="173.1" y="393.4" font-size="5.9" font-family='"Liberation Serif", serif' text-anchor="start" fill="#111" stroke="#111" stroke-width="0.08" >No exercise</text>
<text x="173.1" y="398.5" font-size="5.9" font-family='"Liberation Serif", serif' text-anchor="start" fill="#111" stroke="#111" stroke-width="0.08" >Exercise</text>
<text x="270.8" y="342.4" font-size="8.2" font-family='"Liberation Serif", serif' text-anchor="start" fill="#000" font-weight="bold" >O</text>
<text x="291.4" y="346.3" font-size="5.8" font-family='"Liberation Sans", sans-serif' text-anchor="start" fill="#222" stroke="#222" stroke-width="0.22" >w1118+4%salt</text>
<line x1="284.6" y1="348.7" x2="284.6" y2="413.3" stroke="#222" stroke-width="0.9" />
<line x1="284.6" y1="413.3" x2="384" y2="413.3" stroke="#222" stroke-width="0.9" />
<line x1="283.2" y1="413.3" x2="284.6" y2="413.3" stroke="#333" stroke-width="0.7" />
<text x="279.1" y="415.2" font-size="5.5" font-family='"Liberation Serif", serif' text-anchor="end" fill="#333" stroke="#333" stroke-width="0.08" >0.00</text>
<line x1="283.2" y1="404.07" x2="284.6" y2="404.07" stroke="#333" stroke-width="0.7" />
<text x="279.1" y="405.97" font-size="5.5" font-family='"Liberation Serif", serif' text-anchor="end" fill="#333" stroke="#333" stroke-width="0.08" >0.20</text>
<line x1="283.2" y1="394.84" x2="284.6" y2="394.84" stroke="#333" stroke-width="0.7" />
<text x="279.1" y="396.74" font-size="5.5" font-family='"Liberation Serif", serif' text-anchor="end" fill="#333" stroke="#333" stroke-width="0.08" >0.40</text>
<line x1="283.2" y1="385.61" x2="284.6" y2="385.61" stroke="#333" stroke-width="0.7" />
<text x="279.1" y="387.51" font-size="5.5" font-family='"Liberation Serif", serif' text-anchor="end" fill="#333" stroke="#333" stroke-width="0.08" >0.60</text>
<line x1="283.2" y1="376.39" x2="284.6" y2="376.39" stroke="#333" stroke-width="0.7" />
<text x="279.1" y="378.29" font-size="5.5" font-family='"Liberation Serif", serif' text-anchor="end" fill="#333" stroke="#333" stroke-width="0.08" >0.80</text>
<line x1="283.2" y1="367.16" x2="284.6" y2="367.16" stroke="#333" stroke-width="0.7" />
<text x="279.1" y="369.06" font-size="5.5" font-family='"Liberation Serif", serif' text-anchor="end" fill="#333" stroke="#333" stroke-width="0.08" >1.00</text>
<line x1="283.2" y1="357.93" x2="284.6" y2="357.93" stroke="#333" stroke-width="0.7" />
<text x="279.1" y="359.83" font-size="5.5" font-family='"Liberation Serif", serif' text-anchor="end" fill="#333" stroke="#333" stroke-width="0.08" >1.20</text>
<line x1="283.2" y1="348.7" x2="284.6" y2="348.7" stroke="#333" stroke-width="0.7" />
<text x="279.1" y="350.6" font-size="5.5" font-family='"Liberation Serif", serif' text-anchor="end" fill="#333" stroke="#333" stroke-width="0.08" >1.40</text>
<line x1="298.3" y1="413.3" x2="298.3" y2="414.6" stroke="#333" stroke-width="0.7" />
<text x="295.5" y="420.7" font-size="5.5" font-family='"Liberation Serif", serif' text-anchor="middle" fill="#333" stroke="#333" stroke-width="0.08" >2-day-old</text>
<text x="295.9" y="427.4" font-size="5.5" font-family='"Liberation Serif", serif' text-anchor="middle" fill="#333" stroke="#333" stroke-width="0.08" >flies</text>
<line x1="324.2" y1="413.3" x2="324.2" y2="414.6" stroke="#333" stroke-width="0.7" />
<text x="321.2" y="420.7" font-size="5.5" font-family='"Liberation Serif", serif' text-anchor="middle" fill="#333" stroke="#333" stroke-width="0.08" >1-week-old</text>
<text x="319.1" y="427.4" font-size="5.5" font-family='"Liberation Serif", serif' text-anchor="middle" fill="#333" stroke="#333" stroke-width="0.08" >flies</text>
<line x1="350.7" y1="413.3" x2="350.7" y2="414.6" stroke="#333" stroke-width="0.7" />
<text x="347.8" y="420.7" font-size="5.5" font-family='"Liberation Serif", serif' text-anchor="middle" fill="#333" stroke="#333" stroke-width="0.08" >3-week-old</text>
<text x="344.5" y="427.4" font-size="5.5" font-family='"Liberation Serif", serif' text-anchor="middle" fill="#333" stroke="#333" stroke-width="0.08" >flies</text>
<line x1="376.6" y1="413.3" x2="376.6" y2="414.6" stroke="#333" stroke-width="0.7" />
<text x="375.2" y="420.7" font-size="5.5" font-family='"Liberation Serif", serif' text-anchor="middle" fill="#333" stroke="#333" stroke-width="0.08" >5-week-old</text>
<text x="374.1" y="427.4" font-size="5.5" font-family='"Liberation Serif", serif' text-anchor="middle" fill="#333" stroke="#333" stroke-width="0.08" >flies</text>
<text x="338.8" y="434.2" font-size="5.8" font-family='"Liberation Sans", sans-serif' text-anchor="middle" fill="#111" stroke="#111" stroke-width="0.22" >Age</text>
<path d="M323.7,354.4 V352.1 H375.3 V354.4" fill="none" stroke="#111" stroke-width="0.9"/>
<path d="M348,346.95 L348.44,348.09 L349.66,348.16 L348.71,348.93 L349.03,350.12 L348,349.45 L346.97,350.12 L347.29,348.93 L346.34,348.16 L347.56,348.09Z" fill="#111" stroke="#111" stroke-width="0.3" stroke-linejoin="round"/>
<path d="M352.4,346.95 L352.84,348.09 L354.06,348.16 L353.11,348.93 L353.43,350.12 L352.4,349.45 L351.37,350.12 L351.69,348.93 L350.74,348.16 L351.96,348.09Z" fill="#111" stroke="#111" stroke-width="0.3" stroke-linejoin="round"/>
<polyline points="298.3,367.3 324.2,364.6 350.7,378.1 376.6,400" fill="none" stroke="#c21c2c" stroke-width="1.15" stroke-linejoin="round" stroke-dasharray="2.6,1.4"/>
<polyline points="298.3,367.3 324.2,372.4 350.7,386.2 376.6,402.7" fill="none" stroke="#111" stroke-width="1.1" stroke-linejoin="round" />
<line x1="298.3" y1="364.3" x2="298.3" y2="370.3" stroke="#111" stroke-width="1" />
<line x1="297.2" y1="364.3" x2="299.4" y2="364.3" stroke="#111" stroke-width="0.9" />
<line x1="297.2" y1="370.3" x2="299.4" y2="370.3" stroke="#111" stroke-width="0.9" />
<line x1="324.2" y1="369.7" x2="324.2" y2="375.1" stroke="#111" stroke-width="1" />
<line x1="323.1" y1="369.7" x2="325.3" y2="369.7" stroke="#111" stroke-width="0.9" />
<line x1="323.1" y1="375.1" x2="325.3" y2="375.1" stroke="#111" stroke-width="0.9" />
<line x1="324.2" y1="362" x2="324.2" y2="367.2" stroke="#c21c2c" stroke-width="1" />
<line x1="323.1" y1="362" x2="325.3" y2="362" stroke="#c21c2c" stroke-width="0.9" />
<line x1="323.1" y1="367.2" x2="325.3" y2="367.2" stroke="#c21c2c" stroke-width="0.9" />
<line x1="350.7" y1="383.6" x2="350.7" y2="388.8" stroke="#111" stroke-width="1" />
<line x1="349.6" y1="383.6" x2="351.8" y2="383.6" stroke="#111" stroke-width="0.9" />
<line x1="349.6" y1="388.8" x2="351.8" y2="388.8" stroke="#111" stroke-width="0.9" />
<line x1="350.7" y1="375.1" x2="350.7" y2="381.1" stroke="#c21c2c" stroke-width="1" />
<line x1="349.6" y1="375.1" x2="351.8" y2="375.1" stroke="#c21c2c" stroke-width="0.9" />
<line x1="349.6" y1="381.1" x2="351.8" y2="381.1" stroke="#c21c2c" stroke-width="0.9" />
<line x1="376.6" y1="399.7" x2="376.6" y2="405.7" stroke="#111" stroke-width="1" />
<line x1="375.5" y1="399.7" x2="377.7" y2="399.7" stroke="#111" stroke-width="0.9" />
<line x1="375.5" y1="405.7" x2="377.7" y2="405.7" stroke="#111" stroke-width="0.9" />
<line x1="376.6" y1="398" x2="376.6" y2="402" stroke="#c21c2c" stroke-width="1" />
<line x1="375.5" y1="398" x2="377.7" y2="398" stroke="#c21c2c" stroke-width="0.9" />
<line x1="375.5" y1="402" x2="377.7" y2="402" stroke="#c21c2c" stroke-width="0.9" />
<path d="M324.2,357.25 L324.64,358.39 L325.86,358.46 L324.91,359.23 L325.23,360.42 L324.2,359.75 L323.17,360.42 L323.49,359.23 L322.54,358.46 L323.76,358.39Z" fill="#111" stroke="#111" stroke-width="0.3" stroke-linejoin="round"/>
<path d="M350.7,369.75 L351.14,370.89 L352.36,370.96 L351.41,371.73 L351.73,372.92 L350.7,372.25 L349.67,372.92 L349.99,371.73 L349.04,370.96 L350.26,370.89Z" fill="#111" stroke="#111" stroke-width="0.3" stroke-linejoin="round"/>
<text x="377.9" y="396.5" font-size="5.4" font-family='"Liberation Sans", sans-serif' text-anchor="middle" fill="#111" stroke="#111" stroke-width="0.22" >ns</text>
<rect x="289.4" y="389.7" width="43.2" height="11.7" fill="#fff" stroke="#888" stroke-width="0.6"/>
<line x1="291.3" y1="392.5" x2="302.4" y2="392.5" stroke="#333" stroke-width="1.7" />
<line x1="291.8" y1="397.5" x2="301.6" y2="397.5" stroke="#c21c2c" stroke-width="1.2" stroke-dasharray="2.4,1.3"/>
<text x="303.3" y="394.4" font-size="5.9" font-family='"Liberation Serif", serif' text-anchor="start" fill="#111" stroke="#111" stroke-width="0.08" >No exercise</text>
<text x="303.3" y="399.5" font-size="5.9" font-family='"Liberation Serif", serif' text-anchor="start" fill="#111" stroke="#111" stroke-width="0.08" >Exercise</text>
<text x="399.3" y="343.3" font-size="8.2" font-family='"Liberation Serif", serif' text-anchor="start" fill="#000" font-weight="bold" >P</text>
<text x="424.4" y="347" font-size="5.8" font-family='"Liberation Sans", sans-serif' text-anchor="start" fill="#222" stroke="#222" stroke-width="0.22" >w1118+8%salt</text>
<line x1="415.1" y1="349" x2="415.1" y2="413.6" stroke="#222" stroke-width="0.9" />
<line x1="415.1" y1="413.6" x2="515" y2="413.6" stroke="#222" stroke-width="0.9" />
<line x1="413.7" y1="413.6" x2="415.1" y2="413.6" stroke="#333" stroke-width="0.7" />
<text x="409.6" y="415.5" font-size="5.5" font-family='"Liberation Serif", serif' text-anchor="end" fill="#333" stroke="#333" stroke-width="0.08" >0.00</text>
<line x1="413.7" y1="404.37" x2="415.1" y2="404.37" stroke="#333" stroke-width="0.7" />
<text x="409.6" y="406.27" font-size="5.5" font-family='"Liberation Serif", serif' text-anchor="end" fill="#333" stroke="#333" stroke-width="0.08" >0.20</text>
<line x1="413.7" y1="395.14" x2="415.1" y2="395.14" stroke="#333" stroke-width="0.7" />
<text x="409.6" y="397.04" font-size="5.5" font-family='"Liberation Serif", serif' text-anchor="end" fill="#333" stroke="#333" stroke-width="0.08" >0.40</text>
<line x1="413.7" y1="385.91" x2="415.1" y2="385.91" stroke="#333" stroke-width="0.7" />
<text x="409.6" y="387.81" font-size="5.5" font-family='"Liberation Serif", serif' text-anchor="end" fill="#333" stroke="#333" stroke-width="0.08" >0.60</text>
<line x1="413.7" y1="376.69" x2="415.1" y2="376.69" stroke="#333" stroke-width="0.7" />
<text x="409.6" y="378.59" font-size="5.5" font-family='"Liberation Serif", serif' text-anchor="end" fill="#333" stroke="#333" stroke-width="0.08" >0.80</text>
<line x1="413.7" y1="367.46" x2="415.1" y2="367.46" stroke="#333" stroke-width="0.7" />
<text x="409.6" y="369.36" font-size="5.5" font-family='"Liberation Serif", serif' text-anchor="end" fill="#333" stroke="#333" stroke-width="0.08" >1.00</text>
<line x1="413.7" y1="358.23" x2="415.1" y2="358.23" stroke="#333" stroke-width="0.7" />
<text x="409.6" y="360.13" font-size="5.5" font-family='"Liberation Serif", serif' text-anchor="end" fill="#333" stroke="#333" stroke-width="0.08" >1.20</text>
<line x1="413.7" y1="349" x2="415.1" y2="349" stroke="#333" stroke-width="0.7" />
<text x="409.6" y="350.9" font-size="5.5" font-family='"Liberation Serif", serif' text-anchor="end" fill="#333" stroke="#333" stroke-width="0.08" >1.40</text>
<line x1="428.3" y1="413.6" x2="428.3" y2="414.9" stroke="#333" stroke-width="0.7" />
<text x="422.7" y="421" font-size="5.5" font-family='"Liberation Serif", serif' text-anchor="middle" fill="#333" stroke="#333" stroke-width="0.08" >2-day-old</text>
<text x="422.7" y="427.7" font-size="5.5" font-family='"Liberation Serif", serif' text-anchor="middle" fill="#333" stroke="#333" stroke-width="0.08" >flies</text>
<line x1="454.2" y1="413.6" x2="454.2" y2="414.9" stroke="#333" stroke-width="0.7" />
<text x="448" y="421" font-size="5.5" font-family='"Liberation Serif", serif' text-anchor="middle" fill="#333" stroke="#333" stroke-width="0.08" >1-week-old</text>
<text x="446" y="427.7" font-size="5.5" font-family='"Liberation Serif", serif' text-anchor="middle" fill="#333" stroke="#333" stroke-width="0.08" >flies</text>
<line x1="480.7" y1="413.6" x2="480.7" y2="414.9" stroke="#333" stroke-width="0.7" />
<text x="475.1" y="421" font-size="5.5" font-family='"Liberation Serif", serif' text-anchor="middle" fill="#333" stroke="#333" stroke-width="0.08" >3-week-old</text>
<text x="473.4" y="427.7" font-size="5.5" font-family='"Liberation Serif", serif' text-anchor="middle" fill="#333" stroke="#333" stroke-width="0.08" >flies</text>
<line x1="506.6" y1="413.6" x2="506.6" y2="414.9" stroke="#333" stroke-width="0.7" />
<text x="503.4" y="421" font-size="5.5" font-family='"Liberation Serif", serif' text-anchor="middle" fill="#333" stroke="#333" stroke-width="0.08" >5-week-old</text>
<text x="501.3" y="427.7" font-size="5.5" font-family='"Liberation Serif", serif' text-anchor="middle" fill="#333" stroke="#333" stroke-width="0.08" >flies</text>
<text x="471.3" y="434.5" font-size="5.8" font-family='"Liberation Sans", sans-serif' text-anchor="middle" fill="#111" stroke="#111" stroke-width="0.22" >Age</text>
<path d="M453.7,362.6 V360.3 H505.6 V362.6" fill="none" stroke="#111" stroke-width="0.9"/>
<path d="M477.8,354.75 L478.24,355.89 L479.46,355.96 L478.51,356.73 L478.83,357.92 L477.8,357.25 L476.77,357.92 L477.09,356.73 L476.14,355.96 L477.36,355.89Z" fill="#111" stroke="#111" stroke-width="0.3" stroke-linejoin="round"/>
<path d="M482.2,354.75 L482.64,355.89 L483.86,355.96 L482.91,356.73 L483.23,357.92 L482.2,357.25 L481.17,357.92 L481.49,356.73 L480.54,355.96 L481.76,355.89Z" fill="#111" stroke="#111" stroke-width="0.3" stroke-linejoin="round"/>
<polyline points="428.3,367.7 454.2,374.1 480.7,389.7 506.6,408.7" fill="none" stroke="#c21c2c" stroke-width="1.15" stroke-linejoin="round" stroke-dasharray="2.6,1.4"/>
<polyline points="428.3,367.7 454.2,376.7 480.7,392.6 506.6,408.2" fill="none" stroke="#111" stroke-width="1.1" stroke-linejoin="round" />
<line x1="428.3" y1="364.7" x2="428.3" y2="370.7" stroke="#111" stroke-width="1" />
<line x1="427.2" y1="364.7" x2="429.4" y2="364.7" stroke="#111" stroke-width="0.9" />
<line x1="427.2" y1="370.7" x2="429.4" y2="370.7" stroke="#111" stroke-width="0.9" />
<line x1="454.2" y1="372.8" x2="454.2" y2="380.6" stroke="#111" stroke-width="1" />
<line x1="453.1" y1="372.8" x2="455.3" y2="372.8" stroke="#111" stroke-width="0.9" />
<line x1="453.1" y1="380.6" x2="455.3" y2="380.6" stroke="#111" stroke-width="0.9" />
<line x1="454.2" y1="372.6" x2="454.2" y2="375.6" stroke="#c21c2c" stroke-width="1" />
<line x1="453.1" y1="372.6" x2="455.3" y2="372.6" stroke="#c21c2c" stroke-width="0.9" />
<line x1="453.1" y1="375.6" x2="455.3" y2="375.6" stroke="#c21c2c" stroke-width="0.9" />
<line x1="480.7" y1="388.6" x2="480.7" y2="396.6" stroke="#111" stroke-width="1" />
<line x1="479.6" y1="388.6" x2="481.8" y2="388.6" stroke="#111" stroke-width="0.9" />
<line x1="479.6" y1="396.6" x2="481.8" y2="396.6" stroke="#111" stroke-width="0.9" />
<line x1="480.7" y1="388.2" x2="480.7" y2="391.2" stroke="#c21c2c" stroke-width="1" />
<line x1="479.6" y1="388.2" x2="481.8" y2="388.2" stroke="#c21c2c" stroke-width="0.9" />
<line x1="479.6" y1="391.2" x2="481.8" y2="391.2" stroke="#c21c2c" stroke-width="0.9" />
<line x1="506.6" y1="405.6" x2="506.6" y2="410.8" stroke="#111" stroke-width="1" />
<line x1="505.5" y1="405.6" x2="507.7" y2="405.6" stroke="#111" stroke-width="0.9" />
<line x1="505.5" y1="410.8" x2="507.7" y2="410.8" stroke="#111" stroke-width="0.9" />
<line x1="506.6" y1="407.2" x2="506.6" y2="410.2" stroke="#c21c2c" stroke-width="1" />
<line x1="505.5" y1="407.2" x2="507.7" y2="407.2" stroke="#c21c2c" stroke-width="0.9" />
<line x1="505.5" y1="410.2" x2="507.7" y2="410.2" stroke="#c21c2c" stroke-width="0.9" />
<text x="454.2" y="370.5" font-size="5.4" font-family='"Liberation Sans", sans-serif' text-anchor="middle" fill="#111" stroke="#111" stroke-width="0.22" >ns</text>
<text x="480.7" y="385.6" font-size="5.4" font-family='"Liberation Sans", sans-serif' text-anchor="middle" fill="#111" stroke="#111" stroke-width="0.22" >ns</text>
<text x="506.6" y="403.9" font-size="5.4" font-family='"Liberation Sans", sans-serif' text-anchor="middle" fill="#111" stroke="#111" stroke-width="0.22" >ns</text>
<rect x="418.5" y="389.6" width="44" height="13.4" fill="#fff" stroke="#888" stroke-width="0.6"/>
<line x1="420.4" y1="393.5" x2="431.5" y2="393.5" stroke="#333" stroke-width="1.7" />
<line x1="420.9" y1="398.5" x2="430.7" y2="398.5" stroke="#c21c2c" stroke-width="1.2" stroke-dasharray="2.4,1.3"/>
<text x="432.4" y="395.4" font-size="5.9" font-family='"Liberation Serif", serif' text-anchor="start" fill="#111" stroke="#111" stroke-width="0.08" >No exercise</text>
<text x="432.4" y="400.5" font-size="5.9" font-family='"Liberation Serif", serif' text-anchor="start" fill="#111" stroke="#111" stroke-width="0.08" >Exercise</text>
<text x="4.7" y="451.6" font-size="8.2" font-family='"Liberation Serif", serif' text-anchor="start" fill="#000" font-weight="bold" >Q</text>
<text x="68" y="452.5" font-size="5.8" font-family='"Liberation Sans", sans-serif' text-anchor="middle" fill="#222" stroke="#222" stroke-width="0.22" >w1118</text>
<line x1="33.2" y1="456.6" x2="33.2" y2="514" stroke="#333" stroke-width="0.8" />
<line x1="33.2" y1="514" x2="116" y2="514" stroke="#333" stroke-width="0.9" />
<line x1="31.9" y1="514" x2="33.2" y2="514" stroke="#333" stroke-width="0.6" />
<text x="28.6" y="516" font-size="5.8" font-family='"Liberation Serif", serif' text-anchor="end" fill="#222" stroke="#222" stroke-width="0.08" >0</text>
<line x1="31.9" y1="502.72" x2="33.2" y2="502.72" stroke="#333" stroke-width="0.6" />
<text x="28.6" y="504.72" font-size="5.8" font-family='"Liberation Serif", serif' text-anchor="end" fill="#222" stroke="#222" stroke-width="0.08" >20</text>
<line x1="31.9" y1="491.44" x2="33.2" y2="491.44" stroke="#333" stroke-width="0.6" />
<text x="28.6" y="493.44" font-size="5.8" font-family='"Liberation Serif", serif' text-anchor="end" fill="#222" stroke="#222" stroke-width="0.08" >40</text>
<line x1="31.9" y1="480.16" x2="33.2" y2="480.16" stroke="#333" stroke-width="0.6" />
<text x="28.6" y="482.16" font-size="5.8" font-family='"Liberation Serif", serif' text-anchor="end" fill="#222" stroke="#222" stroke-width="0.08" >60</text>
<line x1="31.9" y1="468.88" x2="33.2" y2="468.88" stroke="#333" stroke-width="0.6" />
<text x="28.6" y="470.88" font-size="5.8" font-family='"Liberation Serif", serif' text-anchor="end" fill="#222" stroke="#222" stroke-width="0.08" >80</text>
<line x1="31.9" y1="457.6" x2="33.2" y2="457.6" stroke="#333" stroke-width="0.6" />
<text x="28.6" y="459.6" font-size="5.8" font-family='"Liberation Serif", serif' text-anchor="end" fill="#222" stroke="#222" stroke-width="0.08" >100</text>
<line x1="33.75" y1="514" x2="33.75" y2="515.2" stroke="#333" stroke-width="0.6" />
<text x="33.75" y="520.8" font-size="5.2" font-family='"Liberation Serif", serif' text-anchor="middle" fill="#444" stroke="#444" stroke-width="0.08" >0</text>
<line x1="43.87" y1="514" x2="43.87" y2="515.2" stroke="#333" stroke-width="0.6" />
<text x="43.87" y="520.8" font-size="5.2" font-family='"Liberation Serif", serif' text-anchor="middle" fill="#444" stroke="#444" stroke-width="0.08" >20</text>
<line x1="53.99" y1="514" x2="53.99" y2="515.2" stroke="#333" stroke-width="0.6" />
<text x="53.99" y="520.8" font-size="5.2" font-family='"Liberation Serif", serif' text-anchor="middle" fill="#444" stroke="#444" stroke-width="0.08" >30</text>
<line x1="64.11" y1="514" x2="64.11" y2="515.2" stroke="#333" stroke-width="0.6" />
<text x="64.11" y="520.8" font-size="5.2" font-family='"Liberation Serif", serif' text-anchor="middle" fill="#444" stroke="#444" stroke-width="0.08" >40</text>
<line x1="74.23" y1="514" x2="74.23" y2="515.2" stroke="#333" stroke-width="0.6" />
<text x="74.23" y="520.8" font-size="5.2" font-family='"Liberation Serif", serif' text-anchor="middle" fill="#444" stroke="#444" stroke-width="0.08" >50</text>
<line x1="84.35" y1="514" x2="84.35" y2="515.2" stroke="#333" stroke-width="0.6" />
<text x="84.35" y="520.8" font-size="5.2" font-family='"Liberation Serif", serif' text-anchor="middle" fill="#444" stroke="#444" stroke-width="0.08" >60</text>
<line x1="94.47" y1="514" x2="94.47" y2="515.2" stroke="#333" stroke-width="0.6" />
<text x="94.47" y="520.8" font-size="5.2" font-family='"Liberation Serif", serif' text-anchor="middle" fill="#444" stroke="#444" stroke-width="0.08" >70</text>
<line x1="104.59" y1="514" x2="104.59" y2="515.2" stroke="#333" stroke-width="0.6" />
<text x="104.59" y="520.8" font-size="5.2" font-family='"Liberation Serif", serif' text-anchor="middle" fill="#444" stroke="#444" stroke-width="0.08" >80</text>
<line x1="114.71" y1="514" x2="114.71" y2="515.2" stroke="#333" stroke-width="0.6" />
<text x="114.71" y="520.8" font-size="5.2" font-family='"Liberation Serif", serif' text-anchor="middle" fill="#444" stroke="#444" stroke-width="0.08" >90</text>
<text x="70" y="527.5" font-size="5.6" font-family='"Liberation Serif", serif' text-anchor="middle" fill="#222" stroke="#222" stroke-width="0.08" >Age(day)</text>
<text x="16.2" y="485" font-size="5.5" font-family='"Liberation Serif", serif' text-anchor="middle" fill="#111" stroke="#111" stroke-width="0.08" transform="rotate(-90 16.2 485)" >Percentage of survival(%)</text>
<path d="M33.2,457.6 C36,457.62 45.53,457.63 50,457.7 C54.47,457.77 57,457.88 60,458 C63,458.12 65.88,458.2 68,458.4 C70.12,458.6 71.53,458.77 72.7,459.2 C73.87,459.63 74.23,460.23 75,461 C75.77,461.77 76.63,462.37 77.3,463.8 C77.97,465.23 78.42,467.48 79,469.6 C79.58,471.72 80.22,474 80.8,476.5 C81.38,479 81.93,481.9 82.5,484.6 C83.07,487.3 83.62,490.4 84.2,492.7 C84.78,495 85.23,496.48 86,498.4 C86.77,500.32 87.57,502.47 88.8,504.2 C90.03,505.93 91.87,507.55 93.4,508.8 C94.93,510.05 96.45,510.93 98,511.7 C99.55,512.47 101.73,513.02 102.7,513.4 C103.67,513.78 103.62,513.9 103.8,514" fill="none" stroke="#0a0a0a" stroke-width="1.1" stroke-linejoin="round" />
<rect x="33.16" y="456.56" width="2.1" height="2.1" fill="#000" transform="rotate(45 34.21 457.61)"/>
<rect x="34.17" y="456.56" width="2.1" height="2.1" fill="#000" transform="rotate(45 35.22 457.61)"/>
<rect x="35.19" y="456.57" width="2.1" height="2.1" fill="#000" transform="rotate(45 36.24 457.62)"/>
<rect x="36.2" y="456.57" width="2.1" height="2.1" fill="#000" transform="rotate(45 37.25 457.62)"/>
<rect x="37.21" y="456.58" width="2.1" height="2.1" fill="#000" transform="rotate(45 38.26 457.63)"/>
<rect x="38.22" y="456.59" width="2.1" height="2.1" fill="#000" transform="rotate(45 39.27 457.64)"/>
<rect x="39.23" y="456.59" width="2.1" height="2.1" fill="#000" transform="rotate(45 40.28 457.64)"/>
<rect x="40.25" y="456.6" width="2.1" height="2.1" fill="#000" transform="rotate(45 41.3 457.65)"/>
<rect x="41.26" y="456.6" width="2.1" height="2.1" fill="#000" transform="rotate(45 42.31 457.65)"/>
<rect x="42.27" y="456.61" width="2.1" height="2.1" fill="#000" transform="rotate(45 43.32 457.66)"/>
<rect x="43.28" y="456.62" width="2.1" height="2.1" fill="#000" transform="rotate(45 44.33 457.67)"/>
<rect x="44.29" y="456.62" width="2.1" height="2.1" fill="#000" transform="rotate(45 45.34 457.67)"/>
<rect x="45.31" y="456.63" width="2.1" height="2.1" fill="#000" transform="rotate(45 46.36 457.68)"/>
<rect x="46.32" y="456.63" width="2.1" height="2.1" fill="#000" transform="rotate(45 47.37 457.68)"/>
<rect x="47.33" y="456.64" width="2.1" height="2.1" fill="#000" transform="rotate(45 48.38 457.69)"/>
<rect x="48.34" y="456.65" width="2.1" height="2.1" fill="#000" transform="rotate(45 49.39 457.7)"/>
<rect x="49.35" y="456.66" width="2.1" height="2.1" fill="#000" transform="rotate(45 50.4 457.71)"/>
<rect x="50.37" y="456.69" width="2.1" height="2.1" fill="#000" transform="rotate(45 51.42 457.74)"/>
<rect x="51.38" y="456.72" width="2.1" height="2.1" fill="#000" transform="rotate(45 52.43 457.77)"/>
<rect x="52.39" y="456.75" width="2.1" height="2.1" fill="#000" transform="rotate(45 53.44 457.8)"/>
<rect x="53.4" y="456.78" width="2.1" height="2.1" fill="#000" transform="rotate(45 54.45 457.83)"/>
<rect x="54.41" y="456.81" width="2.1" height="2.1" fill="#000" transform="rotate(45 55.46 457.86)"/>
<rect x="55.43" y="456.84" width="2.1" height="2.1" fill="#000" transform="rotate(45 56.48 457.89)"/>
<rect x="56.44" y="456.87" width="2.1" height="2.1" fill="#000" transform="rotate(45 57.49 457.92)"/>
<rect x="57.45" y="456.9" width="2.1" height="2.1" fill="#000" transform="rotate(45 58.5 457.95)"/>
<rect x="58.46" y="456.94" width="2.1" height="2.1" fill="#000" transform="rotate(45 59.51 457.99)"/>
<rect x="59.47" y="456.98" width="2.1" height="2.1" fill="#000" transform="rotate(45 60.52 458.03)"/>
<rect x="60.49" y="457.03" width="2.1" height="2.1" fill="#000" transform="rotate(45 61.54 458.08)"/>
<rect x="61.5" y="457.08" width="2.1" height="2.1" fill="#000" transform="rotate(45 62.55 458.13)"/>
<rect x="62.51" y="457.13" width="2.1" height="2.1" fill="#000" transform="rotate(45 63.56 458.18)"/>
<rect x="63.52" y="457.18" width="2.1" height="2.1" fill="#000" transform="rotate(45 64.57 458.23)"/>
<rect x="64.53" y="457.23" width="2.1" height="2.1" fill="#000" transform="rotate(45 65.58 458.28)"/>
<rect x="65.55" y="457.28" width="2.1" height="2.1" fill="#000" transform="rotate(45 66.6 458.33)"/>
<rect x="66.56" y="457.33" width="2.1" height="2.1" fill="#000" transform="rotate(45 67.61 458.38)"/>
<rect x="67.57" y="457.46" width="2.1" height="2.1" fill="#000" transform="rotate(45 68.62 458.51)"/>
<rect x="68.58" y="457.63" width="2.1" height="2.1" fill="#000" transform="rotate(45 69.63 458.68)"/>
<rect x="69.59" y="457.8" width="2.1" height="2.1" fill="#000" transform="rotate(45 70.64 458.85)"/>
<rect x="70.61" y="457.97" width="2.1" height="2.1" fill="#000" transform="rotate(45 71.66 459.02)"/>
<rect x="71.62" y="458.14" width="2.1" height="2.1" fill="#000" transform="rotate(45 72.67 459.19)"/>
<rect x="72.63" y="458.92" width="2.1" height="2.1" fill="#000" transform="rotate(45 73.68 459.97)"/>
<rect x="73.64" y="459.71" width="2.1" height="2.1" fill="#000" transform="rotate(45 74.69 460.76)"/>
<rect x="74.65" y="460.81" width="2.1" height="2.1" fill="#000" transform="rotate(45 75.7 461.86)"/>
<rect x="75.67" y="462.04" width="2.1" height="2.1" fill="#000" transform="rotate(45 76.72 463.09)"/>
<rect x="76.68" y="464.21" width="2.1" height="2.1" fill="#000" transform="rotate(45 77.73 465.26)"/>
<rect x="77.69" y="467.66" width="2.1" height="2.1" fill="#000" transform="rotate(45 78.74 468.71)"/>
<rect x="78.7" y="471.43" width="2.1" height="2.1" fill="#000" transform="rotate(45 79.75 472.48)"/>
<rect x="79.71" y="475.31" width="2.1" height="2.1" fill="#000" transform="rotate(45 80.76 476.36)"/>
<rect x="80.73" y="480.1" width="2.1" height="2.1" fill="#000" transform="rotate(45 81.78 481.15)"/>
<rect x="81.74" y="484.92" width="2.1" height="2.1" fill="#000" transform="rotate(45 82.79 485.97)"/>
<rect x="82.75" y="489.74" width="2.1" height="2.1" fill="#000" transform="rotate(45 83.8 490.79)"/>
<rect x="83.76" y="493.59" width="2.1" height="2.1" fill="#000" transform="rotate(45 84.81 494.64)"/>
<rect x="84.77" y="496.79" width="2.1" height="2.1" fill="#000" transform="rotate(45 85.82 497.84)"/>
<rect x="85.79" y="499.08" width="2.1" height="2.1" fill="#000" transform="rotate(45 86.84 500.13)"/>
<rect x="86.8" y="501.18" width="2.1" height="2.1" fill="#000" transform="rotate(45 87.85 502.23)"/>
<rect x="87.81" y="503.21" width="2.1" height="2.1" fill="#000" transform="rotate(45 88.86 504.26)"/>
<rect x="88.82" y="504.22" width="2.1" height="2.1" fill="#000" transform="rotate(45 89.87 505.27)"/>
<rect x="89.83" y="505.23" width="2.1" height="2.1" fill="#000" transform="rotate(45 90.88 506.28)"/>
<rect x="90.85" y="506.25" width="2.1" height="2.1" fill="#000" transform="rotate(45 91.9 507.3)"/>
<rect x="91.86" y="507.26" width="2.1" height="2.1" fill="#000" transform="rotate(45 92.91 508.31)"/>
<rect x="92.87" y="508.08" width="2.1" height="2.1" fill="#000" transform="rotate(45 93.92 509.13)"/>
<rect x="93.88" y="508.72" width="2.1" height="2.1" fill="#000" transform="rotate(45 94.93 509.77)"/>
<rect x="94.89" y="509.35" width="2.1" height="2.1" fill="#000" transform="rotate(45 95.94 510.4)"/>
<rect x="95.91" y="509.99" width="2.1" height="2.1" fill="#000" transform="rotate(45 96.96 511.04)"/>
<rect x="96.92" y="510.63" width="2.1" height="2.1" fill="#000" transform="rotate(45 97.97 511.68)"/>
<rect x="97.93" y="511" width="2.1" height="2.1" fill="#000" transform="rotate(45 98.98 512.05)"/>
<rect x="98.94" y="511.37" width="2.1" height="2.1" fill="#000" transform="rotate(45 99.99 512.42)"/>
<rect x="99.95" y="511.74" width="2.1" height="2.1" fill="#000" transform="rotate(45 101 512.79)"/>
<rect x="100.97" y="512.1" width="2.1" height="2.1" fill="#000" transform="rotate(45 102.02 513.15)"/>
<rect x="101.98" y="512.53" width="2.1" height="2.1" fill="#000" transform="rotate(45 103.03 513.58)"/>
<rect x="102.75" y="512.95" width="2.1" height="2.1" fill="#000" transform="rotate(45 103.8 514)"/>
<path d="M68,458.4 C68.78,458.5 71.15,458.67 72.7,459 C74.25,459.33 75.75,459.9 77.3,460.4 C78.85,460.9 80.75,461.07 82,462 C83.25,462.93 84.05,464.45 84.8,466 C85.55,467.55 85.92,469.17 86.5,471.3 C87.08,473.43 87.72,476.18 88.3,478.8 C88.88,481.42 89.33,484.3 90,487 C90.67,489.7 91.53,492.7 92.3,495 C93.07,497.3 93.65,498.88 94.6,500.8 C95.55,502.72 96.65,504.87 98,506.5 C99.35,508.13 101.15,509.53 102.7,510.6 C104.25,511.67 105.97,512.23 107.3,512.9 C108.63,513.57 110.13,514.32 110.7,514.6" fill="none" stroke="#d8141c" stroke-width="1.4" stroke-linejoin="round" />
<path d="M69.01,457.23 l1.15,2.0 h-2.3 z" fill="#d8141c"/>
<path d="M70.02,457.36 l1.15,2.0 h-2.3 z" fill="#d8141c"/>
<path d="M71.04,457.49 l1.15,2.0 h-2.3 z" fill="#d8141c"/>
<path d="M72.05,457.62 l1.15,2.0 h-2.3 z" fill="#d8141c"/>
<path d="M73.06,457.81 l1.15,2.0 h-2.3 z" fill="#d8141c"/>
<path d="M74.07,458.12 l1.15,2.0 h-2.3 z" fill="#d8141c"/>
<path d="M75.08,458.43 l1.15,2.0 h-2.3 z" fill="#d8141c"/>
<path d="M76.1,458.73 l1.15,2.0 h-2.3 z" fill="#d8141c"/>
<path d="M77.11,459.04 l1.15,2.0 h-2.3 z" fill="#d8141c"/>
<path d="M78.12,459.38 l1.15,2.0 h-2.3 z" fill="#d8141c"/>
<path d="M79.13,459.72 l1.15,2.0 h-2.3 z" fill="#d8141c"/>
<path d="M80.14,460.07 l1.15,2.0 h-2.3 z" fill="#d8141c"/>
<path d="M81.16,460.41 l1.15,2.0 h-2.3 z" fill="#d8141c"/>
<path d="M82.17,460.94 l1.15,2.0 h-2.3 z" fill="#d8141c"/>
<path d="M83.18,462.39 l1.15,2.0 h-2.3 z" fill="#d8141c"/>
<path d="M84.19,463.83 l1.15,2.0 h-2.3 z" fill="#d8141c"/>
<path d="M85.2,465.96 l1.15,2.0 h-2.3 z" fill="#d8141c"/>
<path d="M86.22,469.11 l1.15,2.0 h-2.3 z" fill="#d8141c"/>
<path d="M87.23,473.03 l1.15,2.0 h-2.3 z" fill="#d8141c"/>
<path d="M88.24,477.25 l1.15,2.0 h-2.3 z" fill="#d8141c"/>
<path d="M89.25,482.09 l1.15,2.0 h-2.3 z" fill="#d8141c"/>
<path d="M90.26,486.62 l1.15,2.0 h-2.3 z" fill="#d8141c"/>
<path d="M91.28,490.14 l1.15,2.0 h-2.3 z" fill="#d8141c"/>
<path d="M92.29,493.66 l1.15,2.0 h-2.3 z" fill="#d8141c"/>
<path d="M93.3,496.22 l1.15,2.0 h-2.3 z" fill="#d8141c"/>
<path d="M94.31,498.77 l1.15,2.0 h-2.3 z" fill="#d8141c"/>
<path d="M95.32,500.71 l1.15,2.0 h-2.3 z" fill="#d8141c"/>
<path d="M96.34,502.41 l1.15,2.0 h-2.3 z" fill="#d8141c"/>
<path d="M97.35,504.11 l1.15,2.0 h-2.3 z" fill="#d8141c"/>
<path d="M98.36,505.51 l1.15,2.0 h-2.3 z" fill="#d8141c"/>
<path d="M99.37,506.4 l1.15,2.0 h-2.3 z" fill="#d8141c"/>
<path d="M100.38,507.28 l1.15,2.0 h-2.3 z" fill="#d8141c"/>
<path d="M101.4,508.16 l1.15,2.0 h-2.3 z" fill="#d8141c"/>
<path d="M102.41,509.05 l1.15,2.0 h-2.3 z" fill="#d8141c"/>
<path d="M103.42,509.66 l1.15,2.0 h-2.3 z" fill="#d8141c"/>
<path d="M104.43,510.17 l1.15,2.0 h-2.3 z" fill="#d8141c"/>
<path d="M105.44,510.67 l1.15,2.0 h-2.3 z" fill="#d8141c"/>
<path d="M106.46,511.18 l1.15,2.0 h-2.3 z" fill="#d8141c"/>
<path d="M107.47,511.68 l1.15,2.0 h-2.3 z" fill="#d8141c"/>
<path d="M108.48,512.19 l1.15,2.0 h-2.3 z" fill="#d8141c"/>
<path d="M109.49,512.7 l1.15,2.0 h-2.3 z" fill="#d8141c"/>
<path d="M110.7,513.3 l1.15,2.0 h-2.3 z" fill="#d8141c"/>
<line x1="84.1" y1="494.7" x2="92.5" y2="494.7" stroke="#000" stroke-width="1" />
<path d="M88.5,489.9 L88.94,490.79 L89.93,490.94 L89.21,491.63 L89.38,492.61 L88.5,492.15 L87.62,492.61 L87.79,491.63 L87.07,490.94 L88.06,490.79Z" fill="#111" stroke="#111" stroke-width="0.3" stroke-linejoin="round"/>
<rect x="37.8" y="490.5" width="38.6" height="12.9" fill="#fff" stroke="#666" stroke-width="0.6"/>
<line x1="39.3" y1="494.37" x2="47.3" y2="494.37" stroke="#000" stroke-width="1.4" />
<rect x="42.3" y="493.37" width="2" height="2" fill="#000" transform="rotate(45 43.3 494.37)"/>
<line x1="39.3" y1="499.92" x2="47.3" y2="499.92" stroke="#d8141c" stroke-width="1.2" />
<path d="M43.3,498.62 l1.2,2 h-2.4 z" fill="#d8141c"/>
<text x="47.8" y="496.27" font-size="5.8" font-family='"Liberation Serif", serif' text-anchor="start" fill="#111" stroke="#111" stroke-width="0.08" >No exercise</text>
<text x="47.8" y="501.82" font-size="5.8" font-family='"Liberation Serif", serif' text-anchor="start" fill="#111" stroke="#111" stroke-width="0.08" >Exercise</text>
<text x="70" y="542" font-size="5.8" font-family='"Liberation Sans", sans-serif' text-anchor="middle" fill="#222" stroke="#222" stroke-width="0.22" >w1118</text>
<rect x="39.7" y="548.3" width="56.9" height="14.7" fill="#ec1c24" stroke="none" stroke-width="0"/>
<rect x="39.7" y="566.3" width="51.6" height="14.5" fill="#000" stroke="none" stroke-width="0"/>
<line x1="96.6" y1="555.65" x2="98.8" y2="555.65" stroke="#333" stroke-width="0.6" />
<line x1="98.8" y1="554.85" x2="98.8" y2="556.45" stroke="#333" stroke-width="0.6" />
<line x1="91.3" y1="573.55" x2="93.5" y2="573.55" stroke="#333" stroke-width="0.6" />
<line x1="93.5" y1="572.75" x2="93.5" y2="574.35" stroke="#333" stroke-width="0.6" />
<line x1="39.7" y1="537.5" x2="39.7" y2="592.3" stroke="#222" stroke-width="0.8" />
<line x1="39.7" y1="592.3" x2="103.8" y2="592.3" stroke="#222" stroke-width="0.8" />
<line x1="39.7" y1="592.3" x2="39.7" y2="593.6" stroke="#333" stroke-width="0.6" />
<text x="39.7" y="601.4" font-size="5.6" font-family='"Liberation Serif", serif' text-anchor="middle" fill="#333" stroke="#333" stroke-width="0.08" >0</text>
<line x1="47.71" y1="592.3" x2="47.71" y2="593.6" stroke="#333" stroke-width="0.6" />
<text x="47.71" y="601.4" font-size="5.6" font-family='"Liberation Serif", serif' text-anchor="middle" fill="#333" stroke="#333" stroke-width="0.08" >10</text>
<line x1="55.72" y1="592.3" x2="55.72" y2="593.6" stroke="#333" stroke-width="0.6" />
<text x="55.72" y="601.4" font-size="5.6" font-family='"Liberation Serif", serif' text-anchor="middle" fill="#333" stroke="#333" stroke-width="0.08" >20</text>
<line x1="63.73" y1="592.3" x2="63.73" y2="593.6" stroke="#333" stroke-width="0.6" />
<text x="63.73" y="601.4" font-size="5.6" font-family='"Liberation Serif", serif' text-anchor="middle" fill="#333" stroke="#333" stroke-width="0.08" >30</text>
<line x1="71.74" y1="592.3" x2="71.74" y2="593.6" stroke="#333" stroke-width="0.6" />
<text x="71.74" y="601.4" font-size="5.6" font-family='"Liberation Serif", serif' text-anchor="middle" fill="#333" stroke="#333" stroke-width="0.08" >40</text>
<line x1="79.75" y1="592.3" x2="79.75" y2="593.6" stroke="#333" stroke-width="0.6" />
<text x="79.75" y="601.4" font-size="5.6" font-family='"Liberation Serif", serif' text-anchor="middle" fill="#333" stroke="#333" stroke-width="0.08" >50</text>
<line x1="87.76" y1="592.3" x2="87.76" y2="593.6" stroke="#333" stroke-width="0.6" />
<text x="87.76" y="601.4" font-size="5.6" font-family='"Liberation Serif", serif' text-anchor="middle" fill="#333" stroke="#333" stroke-width="0.08" >60</text>
<line x1="95.77" y1="592.3" x2="95.77" y2="593.6" stroke="#333" stroke-width="0.6" />
<text x="95.77" y="601.4" font-size="5.6" font-family='"Liberation Serif", serif' text-anchor="middle" fill="#333" stroke="#333" stroke-width="0.08" >70</text>
<line x1="103.78" y1="592.3" x2="103.78" y2="593.6" stroke="#333" stroke-width="0.6" />
<text x="103.78" y="601.4" font-size="5.6" font-family='"Liberation Serif", serif' text-anchor="middle" fill="#333" stroke="#333" stroke-width="0.08" >80</text>
<text x="72" y="607.5" font-size="5.6" font-family='"Liberation Serif", serif' text-anchor="middle" fill="#222" stroke="#222" stroke-width="0.08" >Average lifespan(day)</text>
<text x="37.3" y="557.8" font-size="5.9" font-family='"Liberation Serif", serif' text-anchor="end" fill="#222" stroke="#222" stroke-width="0.08" >Exercise</text>
<text x="37.3" y="576.3" font-size="5.9" font-family='"Liberation Serif", serif' text-anchor="end" fill="#222" stroke="#222" stroke-width="0.08" >No exercise</text>
<text x="130.6" y="449.5" font-size="8.2" font-family='"Liberation Serif", serif' text-anchor="start" fill="#000" font-weight="bold" >R</text>
<text x="196.3" y="452" font-size="5.8" font-family='"Liberation Sans", sans-serif' text-anchor="middle" fill="#222" stroke="#222" stroke-width="0.22" >w1118+2%salt</text>
<line x1="159" y1="455.9" x2="159" y2="513.1" stroke="#333" stroke-width="0.8" />
<line x1="159" y1="513.1" x2="247" y2="513.1" stroke="#333" stroke-width="0.9" />
<line x1="157.7" y1="513.1" x2="159" y2="513.1" stroke="#333" stroke-width="0.6" />
<text x="155.8" y="515.1" font-size="5.8" font-family='"Liberation Serif", serif' text-anchor="end" fill="#222" stroke="#222" stroke-width="0.08" >0</text>
<line x1="157.7" y1="501.86" x2="159" y2="501.86" stroke="#333" stroke-width="0.6" />
<text x="155.8" y="503.86" font-size="5.8" font-family='"Liberation Serif", serif' text-anchor="end" fill="#222" stroke="#222" stroke-width="0.08" >20</text>
<line x1="157.7" y1="490.62" x2="159" y2="490.62" stroke="#333" stroke-width="0.6" />
<text x="155.8" y="492.62" font-size="5.8" font-family='"Liberation Serif", serif' text-anchor="end" fill="#222" stroke="#222" stroke-width="0.08" >40</text>
<line x1="157.7" y1="479.38" x2="159" y2="479.38" stroke="#333" stroke-width="0.6" />
<text x="155.8" y="481.38" font-size="5.8" font-family='"Liberation Serif", serif' text-anchor="end" fill="#222" stroke="#222" stroke-width="0.08" >60</text>
<line x1="157.7" y1="468.14" x2="159" y2="468.14" stroke="#333" stroke-width="0.6" />
<text x="155.8" y="470.14" font-size="5.8" font-family='"Liberation Serif", serif' text-anchor="end" fill="#222" stroke="#222" stroke-width="0.08" >80</text>
<line x1="157.7" y1="456.9" x2="159" y2="456.9" stroke="#333" stroke-width="0.6" />
<text x="155.8" y="458.9" font-size="5.8" font-family='"Liberation Serif", serif' text-anchor="end" fill="#222" stroke="#222" stroke-width="0.08" >100</text>
<line x1="159.6" y1="513.1" x2="159.6" y2="514.3" stroke="#333" stroke-width="0.6" />
<text x="159.6" y="521.1" font-size="5.2" font-family='"Liberation Serif", serif' text-anchor="middle" fill="#444" stroke="#444" stroke-width="0.08" >0</text>
<line x1="170.91" y1="513.1" x2="170.91" y2="514.3" stroke="#333" stroke-width="0.6" />
<text x="170.91" y="521.1" font-size="5.2" font-family='"Liberation Serif", serif' text-anchor="middle" fill="#444" stroke="#444" stroke-width="0.08" >20</text>
<line x1="182.22" y1="513.1" x2="182.22" y2="514.3" stroke="#333" stroke-width="0.6" />
<text x="182.22" y="521.1" font-size="5.2" font-family='"Liberation Serif", serif' text-anchor="middle" fill="#444" stroke="#444" stroke-width="0.08" >30</text>
<line x1="193.53" y1="513.1" x2="193.53" y2="514.3" stroke="#333" stroke-width="0.6" />
<text x="193.53" y="521.1" font-size="5.2" font-family='"Liberation Serif", serif' text-anchor="middle" fill="#444" stroke="#444" stroke-width="0.08" >40</text>
<line x1="204.84" y1="513.1" x2="204.84" y2="514.3" stroke="#333" stroke-width="0.6" />
<text x="204.84" y="521.1" font-size="5.2" font-family='"Liberation Serif", serif' text-anchor="middle" fill="#444" stroke="#444" stroke-width="0.08" >50</text>
<line x1="216.15" y1="513.1" x2="216.15" y2="514.3" stroke="#333" stroke-width="0.6" />
<text x="216.15" y="521.1" font-size="5.2" font-family='"Liberation Serif", serif' text-anchor="middle" fill="#444" stroke="#444" stroke-width="0.08" >60</text>
<line x1="227.46" y1="513.1" x2="227.46" y2="514.3" stroke="#333" stroke-width="0.6" />
<text x="227.46" y="521.1" font-size="5.2" font-family='"Liberation Serif", serif' text-anchor="middle" fill="#444" stroke="#444" stroke-width="0.08" >70</text>
<line x1="238.77" y1="513.1" x2="238.77" y2="514.3" stroke="#333" stroke-width="0.6" />
<text x="238.77" y="521.1" font-size="5.2" font-family='"Liberation Serif", serif' text-anchor="middle" fill="#444" stroke="#444" stroke-width="0.08" >80</text>
<text x="203.9" y="526.3" font-size="5.6" font-family='"Liberation Serif", serif' text-anchor="middle" fill="#222" stroke="#222" stroke-width="0.08" >Age(day)</text>
<text x="142.7" y="484" font-size="5.5" font-family='"Liberation Serif", serif' text-anchor="middle" fill="#111" stroke="#111" stroke-width="0.08" transform="rotate(-90 142.7 484)" >Percentage of survival(%)</text>
<path d="M159,456.9 C162.5,456.92 174.83,456.95 180,457 C185.17,457.05 187.18,457.1 190,457.2 C192.82,457.3 195.17,457.27 196.9,457.6 C198.63,457.93 199.33,458.35 200.4,459.2 C201.47,460.05 202.43,461.15 203.3,462.7 C204.17,464.25 204.83,466.2 205.6,468.5 C206.37,470.8 207.13,473.82 207.9,476.5 C208.67,479.18 209.43,482.1 210.2,484.6 C210.97,487.1 211.73,489.2 212.5,491.5 C213.27,493.8 213.93,496.08 214.8,498.4 C215.67,500.72 216.65,503.47 217.7,505.4 C218.75,507.33 219.75,508.85 221.1,510 C222.45,511.15 223.68,511.77 225.8,512.3 C227.92,512.83 232.47,513.05 233.8,513.2" fill="none" stroke="#0a0a0a" stroke-width="1.1" stroke-linejoin="round" />
<rect x="159.08" y="455.86" width="2.1" height="2.1" fill="#000" transform="rotate(45 160.13 456.91)"/>
<rect x="160.21" y="455.86" width="2.1" height="2.1" fill="#000" transform="rotate(45 161.26 456.91)"/>
<rect x="161.34" y="455.87" width="2.1" height="2.1" fill="#000" transform="rotate(45 162.39 456.92)"/>
<rect x="162.47" y="455.87" width="2.1" height="2.1" fill="#000" transform="rotate(45 163.52 456.92)"/>
<rect x="163.6" y="455.88" width="2.1" height="2.1" fill="#000" transform="rotate(45 164.66 456.93)"/>
<rect x="164.74" y="455.88" width="2.1" height="2.1" fill="#000" transform="rotate(45 165.79 456.93)"/>
<rect x="165.87" y="455.89" width="2.1" height="2.1" fill="#000" transform="rotate(45 166.92 456.94)"/>
<rect x="167" y="455.89" width="2.1" height="2.1" fill="#000" transform="rotate(45 168.05 456.94)"/>
<rect x="168.13" y="455.9" width="2.1" height="2.1" fill="#000" transform="rotate(45 169.18 456.95)"/>
<rect x="169.26" y="455.9" width="2.1" height="2.1" fill="#000" transform="rotate(45 170.31 456.95)"/>
<rect x="170.39" y="455.91" width="2.1" height="2.1" fill="#000" transform="rotate(45 171.44 456.96)"/>
<rect x="171.52" y="455.91" width="2.1" height="2.1" fill="#000" transform="rotate(45 172.57 456.96)"/>
<rect x="172.65" y="455.92" width="2.1" height="2.1" fill="#000" transform="rotate(45 173.7 456.97)"/>
<rect x="173.78" y="455.93" width="2.1" height="2.1" fill="#000" transform="rotate(45 174.83 456.98)"/>
<rect x="174.91" y="455.93" width="2.1" height="2.1" fill="#000" transform="rotate(45 175.97 456.98)"/>
<rect x="176.05" y="455.94" width="2.1" height="2.1" fill="#000" transform="rotate(45 177.1 456.99)"/>
<rect x="177.18" y="455.94" width="2.1" height="2.1" fill="#000" transform="rotate(45 178.23 456.99)"/>
<rect x="178.31" y="455.95" width="2.1" height="2.1" fill="#000" transform="rotate(45 179.36 457)"/>
<rect x="179.44" y="455.96" width="2.1" height="2.1" fill="#000" transform="rotate(45 180.49 457.01)"/>
<rect x="180.57" y="455.98" width="2.1" height="2.1" fill="#000" transform="rotate(45 181.62 457.03)"/>
<rect x="181.7" y="456.01" width="2.1" height="2.1" fill="#000" transform="rotate(45 182.75 457.06)"/>
<rect x="182.83" y="456.03" width="2.1" height="2.1" fill="#000" transform="rotate(45 183.88 457.08)"/>
<rect x="183.96" y="456.05" width="2.1" height="2.1" fill="#000" transform="rotate(45 185.01 457.1)"/>
<rect x="185.09" y="456.07" width="2.1" height="2.1" fill="#000" transform="rotate(45 186.14 457.12)"/>
<rect x="186.22" y="456.1" width="2.1" height="2.1" fill="#000" transform="rotate(45 187.28 457.15)"/>
<rect x="187.36" y="456.12" width="2.1" height="2.1" fill="#000" transform="rotate(45 188.41 457.17)"/>
<rect x="188.49" y="456.14" width="2.1" height="2.1" fill="#000" transform="rotate(45 189.54 457.19)"/>
<rect x="189.62" y="456.19" width="2.1" height="2.1" fill="#000" transform="rotate(45 190.67 457.24)"/>
<rect x="190.75" y="456.25" width="2.1" height="2.1" fill="#000" transform="rotate(45 191.8 457.3)"/>
<rect x="191.88" y="456.32" width="2.1" height="2.1" fill="#000" transform="rotate(45 192.93 457.37)"/>
<rect x="193.01" y="456.39" width="2.1" height="2.1" fill="#000" transform="rotate(45 194.06 457.44)"/>
<rect x="194.14" y="456.45" width="2.1" height="2.1" fill="#000" transform="rotate(45 195.19 457.5)"/>
<rect x="195.27" y="456.52" width="2.1" height="2.1" fill="#000" transform="rotate(45 196.32 457.57)"/>
<rect x="196.4" y="456.8" width="2.1" height="2.1" fill="#000" transform="rotate(45 197.45 457.85)"/>
<rect x="197.53" y="457.32" width="2.1" height="2.1" fill="#000" transform="rotate(45 198.59 458.37)"/>
<rect x="198.67" y="457.84" width="2.1" height="2.1" fill="#000" transform="rotate(45 199.72 458.89)"/>
<rect x="199.8" y="458.69" width="2.1" height="2.1" fill="#000" transform="rotate(45 200.85 459.74)"/>
<rect x="200.93" y="460.05" width="2.1" height="2.1" fill="#000" transform="rotate(45 201.98 461.1)"/>
<rect x="202.06" y="461.42" width="2.1" height="2.1" fill="#000" transform="rotate(45 203.11 462.47)"/>
<rect x="203.19" y="464.02" width="2.1" height="2.1" fill="#000" transform="rotate(45 204.24 465.07)"/>
<rect x="204.32" y="466.87" width="2.1" height="2.1" fill="#000" transform="rotate(45 205.37 467.92)"/>
<rect x="205.45" y="470.59" width="2.1" height="2.1" fill="#000" transform="rotate(45 206.5 471.64)"/>
<rect x="206.58" y="474.52" width="2.1" height="2.1" fill="#000" transform="rotate(45 207.63 475.57)"/>
<rect x="207.71" y="478.49" width="2.1" height="2.1" fill="#000" transform="rotate(45 208.76 479.54)"/>
<rect x="208.84" y="482.48" width="2.1" height="2.1" fill="#000" transform="rotate(45 209.9 483.53)"/>
<rect x="209.98" y="486.03" width="2.1" height="2.1" fill="#000" transform="rotate(45 211.03 487.08)"/>
<rect x="211.11" y="489.42" width="2.1" height="2.1" fill="#000" transform="rotate(45 212.16 490.47)"/>
<rect x="212.24" y="492.81" width="2.1" height="2.1" fill="#000" transform="rotate(45 213.29 493.86)"/>
<rect x="213.37" y="496.21" width="2.1" height="2.1" fill="#000" transform="rotate(45 214.42 497.26)"/>
<rect x="214.5" y="499.16" width="2.1" height="2.1" fill="#000" transform="rotate(45 215.55 500.21)"/>
<rect x="215.63" y="501.89" width="2.1" height="2.1" fill="#000" transform="rotate(45 216.68 502.94)"/>
<rect x="216.76" y="504.5" width="2.1" height="2.1" fill="#000" transform="rotate(45 217.81 505.55)"/>
<rect x="217.89" y="506.03" width="2.1" height="2.1" fill="#000" transform="rotate(45 218.94 507.08)"/>
<rect x="219.02" y="507.56" width="2.1" height="2.1" fill="#000" transform="rotate(45 220.07 508.61)"/>
<rect x="220.16" y="509" width="2.1" height="2.1" fill="#000" transform="rotate(45 221.21 510.05)"/>
<rect x="221.29" y="509.55" width="2.1" height="2.1" fill="#000" transform="rotate(45 222.34 510.6)"/>
<rect x="222.42" y="510.11" width="2.1" height="2.1" fill="#000" transform="rotate(45 223.47 511.16)"/>
<rect x="223.55" y="510.66" width="2.1" height="2.1" fill="#000" transform="rotate(45 224.6 511.71)"/>
<rect x="224.68" y="511.22" width="2.1" height="2.1" fill="#000" transform="rotate(45 225.73 512.27)"/>
<rect x="225.81" y="511.37" width="2.1" height="2.1" fill="#000" transform="rotate(45 226.86 512.42)"/>
<rect x="226.94" y="511.5" width="2.1" height="2.1" fill="#000" transform="rotate(45 227.99 512.55)"/>
<rect x="228.07" y="511.62" width="2.1" height="2.1" fill="#000" transform="rotate(45 229.12 512.67)"/>
<rect x="229.2" y="511.75" width="2.1" height="2.1" fill="#000" transform="rotate(45 230.25 512.8)"/>
<rect x="230.33" y="511.88" width="2.1" height="2.1" fill="#000" transform="rotate(45 231.38 512.93)"/>
<rect x="231.47" y="512.01" width="2.1" height="2.1" fill="#000" transform="rotate(45 232.52 513.06)"/>
<rect x="232.75" y="512.15" width="2.1" height="2.1" fill="#000" transform="rotate(45 233.8 513.2)"/>
<path d="M193,457.4 C193.65,457.45 195.48,457.4 196.9,457.7 C198.32,458 199.77,458.57 201.5,459.2 C203.23,459.83 205.75,460.53 207.3,461.5 C208.85,462.47 209.85,463.25 210.8,465 C211.75,466.75 212.23,469.5 213,472 C213.77,474.5 214.62,477.33 215.4,480 C216.18,482.67 216.83,485.33 217.7,488 C218.57,490.67 219.63,493.5 220.6,496 C221.57,498.5 222.45,501.05 223.5,503 C224.55,504.95 225.57,506.43 226.9,507.7 C228.23,508.97 229.77,509.83 231.5,510.6 C233.23,511.37 235.67,511.77 237.3,512.3 C238.93,512.83 240.63,513.55 241.3,513.8" fill="none" stroke="#d8141c" stroke-width="1.4" stroke-linejoin="round" />
<path d="M194.13,456.19 l1.15,2.0 h-2.3 z" fill="#d8141c"/>
<path d="M195.26,456.27 l1.15,2.0 h-2.3 z" fill="#d8141c"/>
<path d="M196.39,456.36 l1.15,2.0 h-2.3 z" fill="#d8141c"/>
<path d="M197.52,456.6 l1.15,2.0 h-2.3 z" fill="#d8141c"/>
<path d="M198.66,456.97 l1.15,2.0 h-2.3 z" fill="#d8141c"/>
<path d="M199.79,457.34 l1.15,2.0 h-2.3 z" fill="#d8141c"/>
<path d="M200.92,457.71 l1.15,2.0 h-2.3 z" fill="#d8141c"/>
<path d="M202.05,458.12 l1.15,2.0 h-2.3 z" fill="#d8141c"/>
<path d="M203.18,458.57 l1.15,2.0 h-2.3 z" fill="#d8141c"/>
<path d="M204.31,459.01 l1.15,2.0 h-2.3 z" fill="#d8141c"/>
<path d="M205.44,459.46 l1.15,2.0 h-2.3 z" fill="#d8141c"/>
<path d="M206.57,459.91 l1.15,2.0 h-2.3 z" fill="#d8141c"/>
<path d="M207.7,460.6 l1.15,2.0 h-2.3 z" fill="#d8141c"/>
<path d="M208.83,461.73 l1.15,2.0 h-2.3 z" fill="#d8141c"/>
<path d="M209.97,462.86 l1.15,2.0 h-2.3 z" fill="#d8141c"/>
<path d="M211.1,464.64 l1.15,2.0 h-2.3 z" fill="#d8141c"/>
<path d="M212.23,468.24 l1.15,2.0 h-2.3 z" fill="#d8141c"/>
<path d="M213.36,471.89 l1.15,2.0 h-2.3 z" fill="#d8141c"/>
<path d="M214.49,475.66 l1.15,2.0 h-2.3 z" fill="#d8141c"/>
<path d="M215.62,479.47 l1.15,2.0 h-2.3 z" fill="#d8141c"/>
<path d="M216.75,483.4 l1.15,2.0 h-2.3 z" fill="#d8141c"/>
<path d="M217.88,487.2 l1.15,2.0 h-2.3 z" fill="#d8141c"/>
<path d="M219.01,490.32 l1.15,2.0 h-2.3 z" fill="#d8141c"/>
<path d="M220.14,493.44 l1.15,2.0 h-2.3 z" fill="#d8141c"/>
<path d="M221.28,496.33 l1.15,2.0 h-2.3 z" fill="#d8141c"/>
<path d="M222.41,499.06 l1.15,2.0 h-2.3 z" fill="#d8141c"/>
<path d="M223.54,501.75 l1.15,2.0 h-2.3 z" fill="#d8141c"/>
<path d="M224.67,503.31 l1.15,2.0 h-2.3 z" fill="#d8141c"/>
<path d="M225.8,504.88 l1.15,2.0 h-2.3 z" fill="#d8141c"/>
<path d="M226.93,506.42 l1.15,2.0 h-2.3 z" fill="#d8141c"/>
<path d="M228.06,507.13 l1.15,2.0 h-2.3 z" fill="#d8141c"/>
<path d="M229.19,507.84 l1.15,2.0 h-2.3 z" fill="#d8141c"/>
<path d="M230.32,508.56 l1.15,2.0 h-2.3 z" fill="#d8141c"/>
<path d="M231.45,509.27 l1.15,2.0 h-2.3 z" fill="#d8141c"/>
<path d="M232.59,509.62 l1.15,2.0 h-2.3 z" fill="#d8141c"/>
<path d="M233.72,509.95 l1.15,2.0 h-2.3 z" fill="#d8141c"/>
<path d="M234.85,510.28 l1.15,2.0 h-2.3 z" fill="#d8141c"/>
<path d="M235.98,510.61 l1.15,2.0 h-2.3 z" fill="#d8141c"/>
<path d="M237.11,510.94 l1.15,2.0 h-2.3 z" fill="#d8141c"/>
<path d="M238.24,511.35 l1.15,2.0 h-2.3 z" fill="#d8141c"/>
<path d="M239.37,511.78 l1.15,2.0 h-2.3 z" fill="#d8141c"/>
<path d="M240.5,512.2 l1.15,2.0 h-2.3 z" fill="#d8141c"/>
<path d="M241.3,512.5 l1.15,2.0 h-2.3 z" fill="#d8141c"/>
<line x1="212" y1="492.2" x2="218" y2="492.2" stroke="#000" stroke-width="1" />
<path d="M214.8,488.3 L215.24,489.19 L216.23,489.34 L215.51,490.03 L215.68,491.01 L214.8,490.55 L213.92,491.01 L214.09,490.03 L213.37,489.34 L214.36,489.19Z" fill="#111" stroke="#111" stroke-width="0.3" stroke-linejoin="round"/>
<rect x="163.3" y="489.3" width="39.2" height="12.5" fill="#fff" stroke="#666" stroke-width="0.6"/>
<line x1="164.8" y1="493.05" x2="172.8" y2="493.05" stroke="#000" stroke-width="1.4" />
<rect x="167.8" y="492.05" width="2" height="2" fill="#000" transform="rotate(45 168.8 493.05)"/>
<line x1="164.8" y1="498.43" x2="172.8" y2="498.43" stroke="#d8141c" stroke-width="1.2" />
<path d="M168.8,497.12 l1.2,2 h-2.4 z" fill="#d8141c"/>
<text x="173.3" y="494.95" font-size="5.8" font-family='"Liberation Serif", serif' text-anchor="start" fill="#111" stroke="#111" stroke-width="0.08" >No exercise</text>
<text x="173.3" y="500.32" font-size="5.8" font-family='"Liberation Serif", serif' text-anchor="start" fill="#111" stroke="#111" stroke-width="0.08" >Exercise</text>
<text x="195.1" y="541.5" font-size="5.8" font-family='"Liberation Sans", sans-serif' text-anchor="middle" fill="#222" stroke="#222" stroke-width="0.22" >w1118+2%salt</text>
<rect x="162.75" y="549.25" width="60.5" height="15" fill="#ec1c24" stroke="none" stroke-width="0"/>
<rect x="162.75" y="567" width="54.25" height="15" fill="#000" stroke="none" stroke-width="0"/>
<line x1="223.25" y1="556.75" x2="225.45" y2="556.75" stroke="#333" stroke-width="0.6" />
<line x1="225.45" y1="555.95" x2="225.45" y2="557.55" stroke="#333" stroke-width="0.6" />
<line x1="217" y1="574.5" x2="219.2" y2="574.5" stroke="#333" stroke-width="0.6" />
<line x1="219.2" y1="573.7" x2="219.2" y2="575.3" stroke="#333" stroke-width="0.6" />
<line x1="162.75" y1="537.5" x2="162.75" y2="592.5" stroke="#222" stroke-width="0.8" />
<line x1="162.75" y1="592.5" x2="228.25" y2="592.5" stroke="#222" stroke-width="0.8" />
<line x1="163.75" y1="592.5" x2="163.75" y2="593.8" stroke="#333" stroke-width="0.6" />
<text x="163.75" y="601.9" font-size="5.6" font-family='"Liberation Serif", serif' text-anchor="middle" fill="#333" stroke="#333" stroke-width="0.08" >0</text>
<line x1="173.12" y1="592.5" x2="173.12" y2="593.8" stroke="#333" stroke-width="0.6" />
<text x="173.12" y="601.9" font-size="5.6" font-family='"Liberation Serif", serif' text-anchor="middle" fill="#333" stroke="#333" stroke-width="0.08" >10</text>
<line x1="182.49" y1="592.5" x2="182.49" y2="593.8" stroke="#333" stroke-width="0.6" />
<text x="182.49" y="601.9" font-size="5.6" font-family='"Liberation Serif", serif' text-anchor="middle" fill="#333" stroke="#333" stroke-width="0.08" >20</text>
<line x1="191.86" y1="592.5" x2="191.86" y2="593.8" stroke="#333" stroke-width="0.6" />
<text x="191.86" y="601.9" font-size="5.6" font-family='"Liberation Serif", serif' text-anchor="middle" fill="#333" stroke="#333" stroke-width="0.08" >30</text>
<line x1="201.23" y1="592.5" x2="201.23" y2="593.8" stroke="#333" stroke-width="0.6" />
<text x="201.23" y="601.9" font-size="5.6" font-family='"Liberation Serif", serif' text-anchor="middle" fill="#333" stroke="#333" stroke-width="0.08" >40</text>
<line x1="210.6" y1="592.5" x2="210.6" y2="593.8" stroke="#333" stroke-width="0.6" />
<text x="210.6" y="601.9" font-size="5.6" font-family='"Liberation Serif", serif' text-anchor="middle" fill="#333" stroke="#333" stroke-width="0.08" >50</text>
<line x1="219.97" y1="592.5" x2="219.97" y2="593.8" stroke="#333" stroke-width="0.6" />
<text x="219.97" y="601.9" font-size="5.6" font-family='"Liberation Serif", serif' text-anchor="middle" fill="#333" stroke="#333" stroke-width="0.08" >60</text>
<line x1="229.34" y1="592.5" x2="229.34" y2="593.8" stroke="#333" stroke-width="0.6" />
<text x="229.34" y="601.9" font-size="5.6" font-family='"Liberation Serif", serif' text-anchor="middle" fill="#333" stroke="#333" stroke-width="0.08" >70</text>
<text x="195.75" y="607.7" font-size="5.6" font-family='"Liberation Serif", serif' text-anchor="middle" fill="#222" stroke="#222" stroke-width="0.08" >Average lifespan(day)</text>
<text x="160.75" y="558.25" font-size="5.9" font-family='"Liberation Serif", serif' text-anchor="end" fill="#222" stroke="#222" stroke-width="0.08" >Exercise</text>
<text x="160.75" y="576.5" font-size="5.9" font-family='"Liberation Serif", serif' text-anchor="end" fill="#222" stroke="#222" stroke-width="0.08" >No exercise</text>
<text x="256.2" y="450.5" font-size="8.2" font-family='"Liberation Serif", serif' text-anchor="start" fill="#000" font-weight="bold" >S</text>
<text x="318.75" y="451.3" font-size="5.8" font-family='"Liberation Sans", sans-serif' text-anchor="middle" fill="#222" stroke="#222" stroke-width="0.22" >w1118+4%salt</text>
<line x1="280.5" y1="454.6" x2="280.5" y2="512.2" stroke="#333" stroke-width="0.8" />
<line x1="280.5" y1="512.2" x2="360" y2="512.2" stroke="#333" stroke-width="0.9" />
<line x1="279.2" y1="512.2" x2="280.5" y2="512.2" stroke="#333" stroke-width="0.6" />
<text x="276.3" y="514.2" font-size="5.8" font-family='"Liberation Serif", serif' text-anchor="end" fill="#222" stroke="#222" stroke-width="0.08" >0</text>
<line x1="279.2" y1="500.88" x2="280.5" y2="500.88" stroke="#333" stroke-width="0.6" />
<text x="276.3" y="502.88" font-size="5.8" font-family='"Liberation Serif", serif' text-anchor="end" fill="#222" stroke="#222" stroke-width="0.08" >20</text>
<line x1="279.2" y1="489.56" x2="280.5" y2="489.56" stroke="#333" stroke-width="0.6" />
<text x="276.3" y="491.56" font-size="5.8" font-family='"Liberation Serif", serif' text-anchor="end" fill="#222" stroke="#222" stroke-width="0.08" >40</text>
<line x1="279.2" y1="478.24" x2="280.5" y2="478.24" stroke="#333" stroke-width="0.6" />
<text x="276.3" y="480.24" font-size="5.8" font-family='"Liberation Serif", serif' text-anchor="end" fill="#222" stroke="#222" stroke-width="0.08" >60</text>
<line x1="279.2" y1="466.92" x2="280.5" y2="466.92" stroke="#333" stroke-width="0.6" />
<text x="276.3" y="468.92" font-size="5.8" font-family='"Liberation Serif", serif' text-anchor="end" fill="#222" stroke="#222" stroke-width="0.08" >80</text>
<line x1="279.2" y1="455.6" x2="280.5" y2="455.6" stroke="#333" stroke-width="0.6" />
<text x="276.3" y="457.6" font-size="5.8" font-family='"Liberation Serif", serif' text-anchor="end" fill="#222" stroke="#222" stroke-width="0.08" >100</text>
<line x1="281.4" y1="512.2" x2="281.4" y2="513.4" stroke="#333" stroke-width="0.6" />
<text x="281.4" y="519.4" font-size="5.2" font-family='"Liberation Serif", serif' text-anchor="middle" fill="#444" stroke="#444" stroke-width="0.08" >0</text>
<line x1="292.06" y1="512.2" x2="292.06" y2="513.4" stroke="#333" stroke-width="0.6" />
<text x="292.06" y="519.4" font-size="5.2" font-family='"Liberation Serif", serif' text-anchor="middle" fill="#444" stroke="#444" stroke-width="0.08" >20</text>
<line x1="302.72" y1="512.2" x2="302.72" y2="513.4" stroke="#333" stroke-width="0.6" />
<text x="302.72" y="519.4" font-size="5.2" font-family='"Liberation Serif", serif' text-anchor="middle" fill="#444" stroke="#444" stroke-width="0.08" >30</text>
<line x1="313.38" y1="512.2" x2="313.38" y2="513.4" stroke="#333" stroke-width="0.6" />
<text x="313.38" y="519.4" font-size="5.2" font-family='"Liberation Serif", serif' text-anchor="middle" fill="#444" stroke="#444" stroke-width="0.08" >40</text>
<line x1="324.04" y1="512.2" x2="324.04" y2="513.4" stroke="#333" stroke-width="0.6" />
<text x="324.04" y="519.4" font-size="5.2" font-family='"Liberation Serif", serif' text-anchor="middle" fill="#444" stroke="#444" stroke-width="0.08" >50</text>
<line x1="334.7" y1="512.2" x2="334.7" y2="513.4" stroke="#333" stroke-width="0.6" />
<text x="334.7" y="519.4" font-size="5.2" font-family='"Liberation Serif", serif' text-anchor="middle" fill="#444" stroke="#444" stroke-width="0.08" >60</text>
<line x1="345.36" y1="512.2" x2="345.36" y2="513.4" stroke="#333" stroke-width="0.6" />
<text x="345.36" y="519.4" font-size="5.2" font-family='"Liberation Serif", serif' text-anchor="middle" fill="#444" stroke="#444" stroke-width="0.08" >70</text>
<line x1="356.02" y1="512.2" x2="356.02" y2="513.4" stroke="#333" stroke-width="0.6" />
<text x="356.02" y="519.4" font-size="5.2" font-family='"Liberation Serif", serif' text-anchor="middle" fill="#444" stroke="#444" stroke-width="0.08" >80</text>
<text x="321.25" y="525.1" font-size="5.6" font-family='"Liberation Serif", serif' text-anchor="middle" fill="#222" stroke="#222" stroke-width="0.08" >Age(day)</text>
<text x="263.9" y="483" font-size="5.5" font-family='"Liberation Serif", serif' text-anchor="middle" fill="#111" stroke="#111" stroke-width="0.08" transform="rotate(-90 263.9 483)" >Percentage of survival(%)</text>
<path d="M280.5,455.6 C283.75,455.62 295.42,455.63 300,455.7 C304.58,455.77 306.08,455.87 308,456 C309.92,456.13 310.33,456.17 311.5,456.5 C312.67,456.83 314.03,457.17 315,458 C315.97,458.83 316.63,459.95 317.3,461.5 C317.97,463.05 318.42,465.18 319,467.3 C319.58,469.42 320.22,471.7 320.8,474.2 C321.38,476.7 321.93,479.8 322.5,482.3 C323.07,484.8 323.62,486.9 324.2,489.2 C324.78,491.5 325.32,493.8 326,496.1 C326.68,498.4 327.35,500.98 328.3,503 C329.25,505.02 330.27,506.85 331.7,508.2 C333.13,509.55 334.88,510.42 336.9,511.1 C338.92,511.78 342.65,512.1 343.8,512.3" fill="none" stroke="#0a0a0a" stroke-width="1.1" stroke-linejoin="round" />
<rect x="280.52" y="454.56" width="2.1" height="2.1" fill="#000" transform="rotate(45 281.57 455.61)"/>
<rect x="281.58" y="454.56" width="2.1" height="2.1" fill="#000" transform="rotate(45 282.63 455.61)"/>
<rect x="282.65" y="454.57" width="2.1" height="2.1" fill="#000" transform="rotate(45 283.7 455.62)"/>
<rect x="283.71" y="454.57" width="2.1" height="2.1" fill="#000" transform="rotate(45 284.76 455.62)"/>
<rect x="284.78" y="454.58" width="2.1" height="2.1" fill="#000" transform="rotate(45 285.83 455.63)"/>
<rect x="285.85" y="454.58" width="2.1" height="2.1" fill="#000" transform="rotate(45 286.9 455.63)"/>
<rect x="286.91" y="454.59" width="2.1" height="2.1" fill="#000" transform="rotate(45 287.96 455.64)"/>
<rect x="287.98" y="454.59" width="2.1" height="2.1" fill="#000" transform="rotate(45 289.03 455.64)"/>
<rect x="289.04" y="454.6" width="2.1" height="2.1" fill="#000" transform="rotate(45 290.09 455.65)"/>
<rect x="290.11" y="454.6" width="2.1" height="2.1" fill="#000" transform="rotate(45 291.16 455.65)"/>
<rect x="291.18" y="454.61" width="2.1" height="2.1" fill="#000" transform="rotate(45 292.23 455.66)"/>
<rect x="292.24" y="454.62" width="2.1" height="2.1" fill="#000" transform="rotate(45 293.29 455.67)"/>
<rect x="293.31" y="454.62" width="2.1" height="2.1" fill="#000" transform="rotate(45 294.36 455.67)"/>
<rect x="294.37" y="454.63" width="2.1" height="2.1" fill="#000" transform="rotate(45 295.42 455.68)"/>
<rect x="295.44" y="454.63" width="2.1" height="2.1" fill="#000" transform="rotate(45 296.49 455.68)"/>
<rect x="296.51" y="454.64" width="2.1" height="2.1" fill="#000" transform="rotate(45 297.56 455.69)"/>
<rect x="297.57" y="454.64" width="2.1" height="2.1" fill="#000" transform="rotate(45 298.62 455.69)"/>
<rect x="298.64" y="454.65" width="2.1" height="2.1" fill="#000" transform="rotate(45 299.69 455.7)"/>
<rect x="299.7" y="454.68" width="2.1" height="2.1" fill="#000" transform="rotate(45 300.75 455.73)"/>
<rect x="300.77" y="454.72" width="2.1" height="2.1" fill="#000" transform="rotate(45 301.82 455.77)"/>
<rect x="301.84" y="454.76" width="2.1" height="2.1" fill="#000" transform="rotate(45 302.89 455.81)"/>
<rect x="302.9" y="454.8" width="2.1" height="2.1" fill="#000" transform="rotate(45 303.95 455.85)"/>
<rect x="303.97" y="454.84" width="2.1" height="2.1" fill="#000" transform="rotate(45 305.02 455.89)"/>
<rect x="305.03" y="454.88" width="2.1" height="2.1" fill="#000" transform="rotate(45 306.08 455.93)"/>
<rect x="306.1" y="454.92" width="2.1" height="2.1" fill="#000" transform="rotate(45 307.15 455.97)"/>
<rect x="307.17" y="454.98" width="2.1" height="2.1" fill="#000" transform="rotate(45 308.22 456.03)"/>
<rect x="308.23" y="455.13" width="2.1" height="2.1" fill="#000" transform="rotate(45 309.28 456.18)"/>
<rect x="309.3" y="455.29" width="2.1" height="2.1" fill="#000" transform="rotate(45 310.35 456.34)"/>
<rect x="310.36" y="455.44" width="2.1" height="2.1" fill="#000" transform="rotate(45 311.41 456.49)"/>
<rect x="311.43" y="455.87" width="2.1" height="2.1" fill="#000" transform="rotate(45 312.48 456.92)"/>
<rect x="312.5" y="456.33" width="2.1" height="2.1" fill="#000" transform="rotate(45 313.55 457.38)"/>
<rect x="313.56" y="456.78" width="2.1" height="2.1" fill="#000" transform="rotate(45 314.61 457.83)"/>
<rect x="314.63" y="457.98" width="2.1" height="2.1" fill="#000" transform="rotate(45 315.68 459.03)"/>
<rect x="315.69" y="459.6" width="2.1" height="2.1" fill="#000" transform="rotate(45 316.74 460.65)"/>
<rect x="316.76" y="462.19" width="2.1" height="2.1" fill="#000" transform="rotate(45 317.81 463.24)"/>
<rect x="317.83" y="465.83" width="2.1" height="2.1" fill="#000" transform="rotate(45 318.88 466.88)"/>
<rect x="318.89" y="469.86" width="2.1" height="2.1" fill="#000" transform="rotate(45 319.94 470.91)"/>
<rect x="319.96" y="474.14" width="2.1" height="2.1" fill="#000" transform="rotate(45 321.01 475.19)"/>
<rect x="321.02" y="479.22" width="2.1" height="2.1" fill="#000" transform="rotate(45 322.07 480.27)"/>
<rect x="322.09" y="483.85" width="2.1" height="2.1" fill="#000" transform="rotate(45 323.14 484.9)"/>
<rect x="323.16" y="488.17" width="2.1" height="2.1" fill="#000" transform="rotate(45 324.21 489.22)"/>
<rect x="324.22" y="492.26" width="2.1" height="2.1" fill="#000" transform="rotate(45 325.27 493.31)"/>
<rect x="325.29" y="496.06" width="2.1" height="2.1" fill="#000" transform="rotate(45 326.34 497.11)"/>
<rect x="326.35" y="499.26" width="2.1" height="2.1" fill="#000" transform="rotate(45 327.4 500.31)"/>
<rect x="327.42" y="502.21" width="2.1" height="2.1" fill="#000" transform="rotate(45 328.47 503.26)"/>
<rect x="328.49" y="503.84" width="2.1" height="2.1" fill="#000" transform="rotate(45 329.54 504.89)"/>
<rect x="329.55" y="505.47" width="2.1" height="2.1" fill="#000" transform="rotate(45 330.6 506.52)"/>
<rect x="330.62" y="507.1" width="2.1" height="2.1" fill="#000" transform="rotate(45 331.67 508.15)"/>
<rect x="331.68" y="507.73" width="2.1" height="2.1" fill="#000" transform="rotate(45 332.73 508.78)"/>
<rect x="332.75" y="508.32" width="2.1" height="2.1" fill="#000" transform="rotate(45 333.8 509.37)"/>
<rect x="333.82" y="508.92" width="2.1" height="2.1" fill="#000" transform="rotate(45 334.87 509.97)"/>
<rect x="334.88" y="509.51" width="2.1" height="2.1" fill="#000" transform="rotate(45 335.93 510.56)"/>
<rect x="335.95" y="510.07" width="2.1" height="2.1" fill="#000" transform="rotate(45 337 511.12)"/>
<rect x="337.01" y="510.25" width="2.1" height="2.1" fill="#000" transform="rotate(45 338.06 511.3)"/>
<rect x="338.08" y="510.44" width="2.1" height="2.1" fill="#000" transform="rotate(45 339.13 511.49)"/>
<rect x="339.15" y="510.62" width="2.1" height="2.1" fill="#000" transform="rotate(45 340.2 511.67)"/>
<rect x="340.21" y="510.81" width="2.1" height="2.1" fill="#000" transform="rotate(45 341.26 511.86)"/>
<rect x="341.28" y="510.99" width="2.1" height="2.1" fill="#000" transform="rotate(45 342.33 512.04)"/>
<rect x="342.34" y="511.18" width="2.1" height="2.1" fill="#000" transform="rotate(45 343.39 512.23)"/>
<rect x="342.75" y="511.25" width="2.1" height="2.1" fill="#000" transform="rotate(45 343.8 512.3)"/>
<path d="M308,456 C308.78,456.05 311.15,455.97 312.7,456.3 C314.25,456.63 315.95,456.93 317.3,458 C318.65,459.07 319.85,460.95 320.8,462.7 C321.75,464.45 322.33,466.48 323,468.5 C323.67,470.52 324.22,472.5 324.8,474.8 C325.38,477.1 325.92,480.1 326.5,482.3 C327.08,484.5 327.62,485.88 328.3,488 C328.98,490.12 329.75,492.68 330.6,495 C331.45,497.32 332.35,499.88 333.4,501.9 C334.45,503.92 335.55,505.85 336.9,507.1 C338.25,508.35 339.77,508.73 341.5,509.4 C343.23,510.07 345.67,510.52 347.3,511.1 C348.93,511.68 350.63,512.6 351.3,512.9" fill="none" stroke="#d8141c" stroke-width="1.4" stroke-linejoin="round" />
<path d="M309.07,454.77 l1.15,2.0 h-2.3 z" fill="#d8141c"/>
<path d="M310.13,454.84 l1.15,2.0 h-2.3 z" fill="#d8141c"/>
<path d="M311.2,454.9 l1.15,2.0 h-2.3 z" fill="#d8141c"/>
<path d="M312.26,454.97 l1.15,2.0 h-2.3 z" fill="#d8141c"/>
<path d="M313.33,455.23 l1.15,2.0 h-2.3 z" fill="#d8141c"/>
<path d="M314.4,455.63 l1.15,2.0 h-2.3 z" fill="#d8141c"/>
<path d="M315.46,456.02 l1.15,2.0 h-2.3 z" fill="#d8141c"/>
<path d="M316.53,456.41 l1.15,2.0 h-2.3 z" fill="#d8141c"/>
<path d="M317.59,457.09 l1.15,2.0 h-2.3 z" fill="#d8141c"/>
<path d="M318.66,458.53 l1.15,2.0 h-2.3 z" fill="#d8141c"/>
<path d="M319.73,459.96 l1.15,2.0 h-2.3 z" fill="#d8141c"/>
<path d="M320.79,461.39 l1.15,2.0 h-2.3 z" fill="#d8141c"/>
<path d="M321.86,464.19 l1.15,2.0 h-2.3 z" fill="#d8141c"/>
<path d="M322.92,467 l1.15,2.0 h-2.3 z" fill="#d8141c"/>
<path d="M323.99,470.66 l1.15,2.0 h-2.3 z" fill="#d8141c"/>
<path d="M325.06,474.63 l1.15,2.0 h-2.3 z" fill="#d8141c"/>
<path d="M326.12,479.33 l1.15,2.0 h-2.3 z" fill="#d8141c"/>
<path d="M327.19,483.18 l1.15,2.0 h-2.3 z" fill="#d8141c"/>
<path d="M328.25,486.55 l1.15,2.0 h-2.3 z" fill="#d8141c"/>
<path d="M329.32,489.8 l1.15,2.0 h-2.3 z" fill="#d8141c"/>
<path d="M330.39,493.05 l1.15,2.0 h-2.3 z" fill="#d8141c"/>
<path d="M331.45,495.8 l1.15,2.0 h-2.3 z" fill="#d8141c"/>
<path d="M332.52,498.43 l1.15,2.0 h-2.3 z" fill="#d8141c"/>
<path d="M333.58,500.87 l1.15,2.0 h-2.3 z" fill="#d8141c"/>
<path d="M334.65,502.46 l1.15,2.0 h-2.3 z" fill="#d8141c"/>
<path d="M335.72,504.04 l1.15,2.0 h-2.3 z" fill="#d8141c"/>
<path d="M336.78,505.62 l1.15,2.0 h-2.3 z" fill="#d8141c"/>
<path d="M337.85,506.27 l1.15,2.0 h-2.3 z" fill="#d8141c"/>
<path d="M338.91,506.81 l1.15,2.0 h-2.3 z" fill="#d8141c"/>
<path d="M339.98,507.34 l1.15,2.0 h-2.3 z" fill="#d8141c"/>
<path d="M341.05,507.87 l1.15,2.0 h-2.3 z" fill="#d8141c"/>
<path d="M342.11,508.28 l1.15,2.0 h-2.3 z" fill="#d8141c"/>
<path d="M343.18,508.59 l1.15,2.0 h-2.3 z" fill="#d8141c"/>
<path d="M344.24,508.9 l1.15,2.0 h-2.3 z" fill="#d8141c"/>
<path d="M345.31,509.22 l1.15,2.0 h-2.3 z" fill="#d8141c"/>
<path d="M346.38,509.53 l1.15,2.0 h-2.3 z" fill="#d8141c"/>
<path d="M347.44,509.86 l1.15,2.0 h-2.3 z" fill="#d8141c"/>
<path d="M348.51,510.34 l1.15,2.0 h-2.3 z" fill="#d8141c"/>
<path d="M349.57,510.82 l1.15,2.0 h-2.3 z" fill="#d8141c"/>
<path d="M350.64,511.3 l1.15,2.0 h-2.3 z" fill="#d8141c"/>
<path d="M351.3,511.6 l1.15,2.0 h-2.3 z" fill="#d8141c"/>
<line x1="325" y1="491" x2="336.3" y2="491" stroke="#000" stroke-width="1" />
<text x="334.5" y="489.5" font-size="6" font-family='"Liberation Sans", sans-serif' text-anchor="middle" fill="#111" stroke="#111" stroke-width="0.22" >ns</text>
<rect x="283.75" y="493.5" width="38.75" height="13.25" fill="#fff" stroke="#666" stroke-width="0.6"/>
<line x1="285.25" y1="497.48" x2="293.25" y2="497.48" stroke="#000" stroke-width="1.4" />
<rect x="288.25" y="496.48" width="2" height="2" fill="#000" transform="rotate(45 289.25 497.48)"/>
<line x1="285.25" y1="503.17" x2="293.25" y2="503.17" stroke="#d8141c" stroke-width="1.2" />
<path d="M289.25,501.87 l1.2,2 h-2.4 z" fill="#d8141c"/>
<text x="293.75" y="499.38" font-size="5.8" font-family='"Liberation Serif", serif' text-anchor="start" fill="#111" stroke="#111" stroke-width="0.08" >No exercise</text>
<text x="293.75" y="505.07" font-size="5.8" font-family='"Liberation Serif", serif' text-anchor="start" fill="#111" stroke="#111" stroke-width="0.08" >Exercise</text>
<text x="320" y="541.5" font-size="5.8" font-family='"Liberation Sans", sans-serif' text-anchor="middle" fill="#222" stroke="#222" stroke-width="0.22" >w1118+4%salt</text>
<rect x="292.5" y="549.25" width="58.75" height="14.5" fill="#ec1c24" stroke="none" stroke-width="0"/>
<rect x="292.5" y="567" width="55" height="15" fill="#000" stroke="none" stroke-width="0"/>
<line x1="351.25" y1="556.5" x2="353.45" y2="556.5" stroke="#333" stroke-width="0.6" />
<line x1="353.45" y1="555.7" x2="353.45" y2="557.3" stroke="#333" stroke-width="0.6" />
<line x1="347.5" y1="574.5" x2="349.7" y2="574.5" stroke="#333" stroke-width="0.6" />
<line x1="349.7" y1="573.7" x2="349.7" y2="575.3" stroke="#333" stroke-width="0.6" />
<line x1="292.5" y1="537" x2="292.5" y2="593" stroke="#222" stroke-width="0.8" />
<line x1="292.5" y1="593" x2="357.5" y2="593" stroke="#222" stroke-width="0.8" />
<line x1="292.5" y1="593" x2="292.5" y2="594.3" stroke="#333" stroke-width="0.6" />
<text x="292.5" y="601.9" font-size="5.6" font-family='"Liberation Serif", serif' text-anchor="middle" fill="#333" stroke="#333" stroke-width="0.08" >0</text>
<line x1="303.33" y1="593" x2="303.33" y2="594.3" stroke="#333" stroke-width="0.6" />
<text x="303.33" y="601.9" font-size="5.6" font-family='"Liberation Serif", serif' text-anchor="middle" fill="#333" stroke="#333" stroke-width="0.08" >10</text>
<line x1="314.16" y1="593" x2="314.16" y2="594.3" stroke="#333" stroke-width="0.6" />
<text x="314.16" y="601.9" font-size="5.6" font-family='"Liberation Serif", serif' text-anchor="middle" fill="#333" stroke="#333" stroke-width="0.08" >20</text>
<line x1="324.99" y1="593" x2="324.99" y2="594.3" stroke="#333" stroke-width="0.6" />
<text x="324.99" y="601.9" font-size="5.6" font-family='"Liberation Serif", serif' text-anchor="middle" fill="#333" stroke="#333" stroke-width="0.08" >30</text>
<line x1="335.82" y1="593" x2="335.82" y2="594.3" stroke="#333" stroke-width="0.6" />
<text x="335.82" y="601.9" font-size="5.6" font-family='"Liberation Serif", serif' text-anchor="middle" fill="#333" stroke="#333" stroke-width="0.08" >40</text>
<line x1="346.65" y1="593" x2="346.65" y2="594.3" stroke="#333" stroke-width="0.6" />
<text x="346.65" y="601.9" font-size="5.6" font-family='"Liberation Serif", serif' text-anchor="middle" fill="#333" stroke="#333" stroke-width="0.08" >50</text>
<line x1="357.48" y1="593" x2="357.48" y2="594.3" stroke="#333" stroke-width="0.6" />
<text x="357.48" y="601.9" font-size="5.6" font-family='"Liberation Serif", serif' text-anchor="middle" fill="#333" stroke="#333" stroke-width="0.08" >60</text>
<text x="325" y="608.2" font-size="5.6" font-family='"Liberation Serif", serif' text-anchor="middle" fill="#222" stroke="#222" stroke-width="0.08" >Average lifespan(day)</text>
<text x="290.5" y="558.25" font-size="5.9" font-family='"Liberation Serif", serif' text-anchor="end" fill="#222" stroke="#222" stroke-width="0.08" >Exercise</text>
<text x="290.5" y="576.25" font-size="5.9" font-family='"Liberation Serif", serif' text-anchor="end" fill="#222" stroke="#222" stroke-width="0.08" >No exercise</text>
<text x="393" y="450.3" font-size="8.2" font-family='"Liberation Serif", serif' text-anchor="start" fill="#000" font-weight="bold" >T</text>
<text x="458.6" y="451.3" font-size="5.8" font-family='"Liberation Sans", sans-serif' text-anchor="middle" fill="#222" stroke="#222" stroke-width="0.22" >w1118+8%salt</text>
<line x1="418.6" y1="456.9" x2="418.6" y2="514" stroke="#333" stroke-width="0.8" />
<line x1="418.6" y1="514" x2="495.5" y2="514" stroke="#333" stroke-width="0.9" />
<line x1="417.3" y1="514" x2="418.6" y2="514" stroke="#333" stroke-width="0.6" />
<text x="415.5" y="516" font-size="5.8" font-family='"Liberation Serif", serif' text-anchor="end" fill="#222" stroke="#222" stroke-width="0.08" >0</text>
<line x1="417.3" y1="502.78" x2="418.6" y2="502.78" stroke="#333" stroke-width="0.6" />
<text x="415.5" y="504.78" font-size="5.8" font-family='"Liberation Serif", serif' text-anchor="end" fill="#222" stroke="#222" stroke-width="0.08" >20</text>
<line x1="417.3" y1="491.56" x2="418.6" y2="491.56" stroke="#333" stroke-width="0.6" />
<text x="415.5" y="493.56" font-size="5.8" font-family='"Liberation Serif", serif' text-anchor="end" fill="#222" stroke="#222" stroke-width="0.08" >40</text>
<line x1="417.3" y1="480.34" x2="418.6" y2="480.34" stroke="#333" stroke-width="0.6" />
<text x="415.5" y="482.34" font-size="5.8" font-family='"Liberation Serif", serif' text-anchor="end" fill="#222" stroke="#222" stroke-width="0.08" >60</text>
<line x1="417.3" y1="469.12" x2="418.6" y2="469.12" stroke="#333" stroke-width="0.6" />
<text x="415.5" y="471.12" font-size="5.8" font-family='"Liberation Serif", serif' text-anchor="end" fill="#222" stroke="#222" stroke-width="0.08" >80</text>
<line x1="417.3" y1="457.9" x2="418.6" y2="457.9" stroke="#333" stroke-width="0.6" />
<text x="415.5" y="459.9" font-size="5.8" font-family='"Liberation Serif", serif' text-anchor="end" fill="#222" stroke="#222" stroke-width="0.08" >100</text>
<line x1="419" y1="514" x2="419" y2="515.2" stroke="#333" stroke-width="0.6" />
<text x="419" y="521.8" font-size="5.2" font-family='"Liberation Serif", serif' text-anchor="middle" fill="#444" stroke="#444" stroke-width="0.08" >0</text>
<line x1="432.27" y1="514" x2="432.27" y2="515.2" stroke="#333" stroke-width="0.6" />
<text x="432.27" y="521.8" font-size="5.2" font-family='"Liberation Serif", serif' text-anchor="middle" fill="#444" stroke="#444" stroke-width="0.08" >20</text>
<line x1="445.54" y1="514" x2="445.54" y2="515.2" stroke="#333" stroke-width="0.6" />
<text x="445.54" y="521.8" font-size="5.2" font-family='"Liberation Serif", serif' text-anchor="middle" fill="#444" stroke="#444" stroke-width="0.08" >30</text>
<line x1="458.81" y1="514" x2="458.81" y2="515.2" stroke="#333" stroke-width="0.6" />
<text x="458.81" y="521.8" font-size="5.2" font-family='"Liberation Serif", serif' text-anchor="middle" fill="#444" stroke="#444" stroke-width="0.08" >40</text>
<line x1="472.08" y1="514" x2="472.08" y2="515.2" stroke="#333" stroke-width="0.6" />
<text x="472.08" y="521.8" font-size="5.2" font-family='"Liberation Serif", serif' text-anchor="middle" fill="#444" stroke="#444" stroke-width="0.08" >50</text>
<line x1="485.35" y1="514" x2="485.35" y2="515.2" stroke="#333" stroke-width="0.6" />
<text x="485.35" y="521.8" font-size="5.2" font-family='"Liberation Serif", serif' text-anchor="middle" fill="#444" stroke="#444" stroke-width="0.08" >60</text>
<text x="452.8" y="527.2" font-size="5.6" font-family='"Liberation Serif", serif' text-anchor="middle" fill="#222" stroke="#222" stroke-width="0.08" >Age(day)</text>
<text x="401.9" y="486.75" font-size="5.5" font-family='"Liberation Serif", serif' text-anchor="middle" fill="#111" stroke="#111" stroke-width="0.08" transform="rotate(-90 401.9 486.75)" >Percentage of survival(%)</text>
<path d="M418.6,457.9 C422.17,457.9 434.8,457.83 440,457.9 C445.2,457.97 447.17,458.03 449.8,458.3 C452.43,458.57 454.22,458.72 455.8,459.5 C457.38,460.28 458.28,461.42 459.3,463 C460.32,464.58 461.12,466.83 461.9,469 C462.68,471.17 463.28,473.4 464,476 C464.72,478.6 465.4,481.72 466.2,484.6 C467,487.48 467.93,490.7 468.8,493.3 C469.67,495.9 470.38,498.05 471.4,500.2 C472.42,502.35 473.6,504.47 474.9,506.2 C476.2,507.93 477.62,509.43 479.2,510.6 C480.78,511.77 482.82,512.57 484.4,513.2 C485.98,513.83 487.98,514.2 488.7,514.4" fill="none" stroke="#0a0a0a" stroke-width="1.1" stroke-linejoin="round" />
<rect x="418.88" y="456.85" width="2.1" height="2.1" fill="#000" transform="rotate(45 419.93 457.9)"/>
<rect x="420.2" y="456.85" width="2.1" height="2.1" fill="#000" transform="rotate(45 421.25 457.9)"/>
<rect x="421.53" y="456.85" width="2.1" height="2.1" fill="#000" transform="rotate(45 422.58 457.9)"/>
<rect x="422.86" y="456.85" width="2.1" height="2.1" fill="#000" transform="rotate(45 423.91 457.9)"/>
<rect x="424.19" y="456.85" width="2.1" height="2.1" fill="#000" transform="rotate(45 425.24 457.9)"/>
<rect x="425.51" y="456.85" width="2.1" height="2.1" fill="#000" transform="rotate(45 426.56 457.9)"/>
<rect x="426.84" y="456.85" width="2.1" height="2.1" fill="#000" transform="rotate(45 427.89 457.9)"/>
<rect x="428.17" y="456.85" width="2.1" height="2.1" fill="#000" transform="rotate(45 429.22 457.9)"/>
<rect x="429.49" y="456.85" width="2.1" height="2.1" fill="#000" transform="rotate(45 430.54 457.9)"/>
<rect x="430.82" y="456.85" width="2.1" height="2.1" fill="#000" transform="rotate(45 431.87 457.9)"/>
<rect x="432.15" y="456.85" width="2.1" height="2.1" fill="#000" transform="rotate(45 433.2 457.9)"/>
<rect x="433.47" y="456.85" width="2.1" height="2.1" fill="#000" transform="rotate(45 434.52 457.9)"/>
<rect x="434.8" y="456.85" width="2.1" height="2.1" fill="#000" transform="rotate(45 435.85 457.9)"/>
<rect x="436.13" y="456.85" width="2.1" height="2.1" fill="#000" transform="rotate(45 437.18 457.9)"/>
<rect x="437.45" y="456.85" width="2.1" height="2.1" fill="#000" transform="rotate(45 438.5 457.9)"/>
<rect x="438.78" y="456.85" width="2.1" height="2.1" fill="#000" transform="rotate(45 439.83 457.9)"/>
<rect x="440.11" y="456.9" width="2.1" height="2.1" fill="#000" transform="rotate(45 441.16 457.95)"/>
<rect x="441.44" y="456.95" width="2.1" height="2.1" fill="#000" transform="rotate(45 442.49 458)"/>
<rect x="442.76" y="457.01" width="2.1" height="2.1" fill="#000" transform="rotate(45 443.81 458.06)"/>
<rect x="444.09" y="457.06" width="2.1" height="2.1" fill="#000" transform="rotate(45 445.14 458.11)"/>
<rect x="445.42" y="457.11" width="2.1" height="2.1" fill="#000" transform="rotate(45 446.47 458.16)"/>
<rect x="446.74" y="457.17" width="2.1" height="2.1" fill="#000" transform="rotate(45 447.79 458.22)"/>
<rect x="448.07" y="457.22" width="2.1" height="2.1" fill="#000" transform="rotate(45 449.12 458.27)"/>
<rect x="449.4" y="457.38" width="2.1" height="2.1" fill="#000" transform="rotate(45 450.45 458.43)"/>
<rect x="450.72" y="457.64" width="2.1" height="2.1" fill="#000" transform="rotate(45 451.77 458.69)"/>
<rect x="452.05" y="457.91" width="2.1" height="2.1" fill="#000" transform="rotate(45 453.1 458.96)"/>
<rect x="453.38" y="458.18" width="2.1" height="2.1" fill="#000" transform="rotate(45 454.43 459.23)"/>
<rect x="454.71" y="458.44" width="2.1" height="2.1" fill="#000" transform="rotate(45 455.76 459.49)"/>
<rect x="456.03" y="459.73" width="2.1" height="2.1" fill="#000" transform="rotate(45 457.08 460.78)"/>
<rect x="457.36" y="461.06" width="2.1" height="2.1" fill="#000" transform="rotate(45 458.41 462.11)"/>
<rect x="458.69" y="462.96" width="2.1" height="2.1" fill="#000" transform="rotate(45 459.74 464.01)"/>
<rect x="460.01" y="466.02" width="2.1" height="2.1" fill="#000" transform="rotate(45 461.06 467.07)"/>
<rect x="461.34" y="469.59" width="2.1" height="2.1" fill="#000" transform="rotate(45 462.39 470.64)"/>
<rect x="462.67" y="474.01" width="2.1" height="2.1" fill="#000" transform="rotate(45 463.72 475.06)"/>
<rect x="463.99" y="479.03" width="2.1" height="2.1" fill="#000" transform="rotate(45 465.04 480.08)"/>
<rect x="465.32" y="484.13" width="2.1" height="2.1" fill="#000" transform="rotate(45 466.37 485.18)"/>
<rect x="466.65" y="488.57" width="2.1" height="2.1" fill="#000" transform="rotate(45 467.7 489.62)"/>
<rect x="467.98" y="492.85" width="2.1" height="2.1" fill="#000" transform="rotate(45 469.03 493.9)"/>
<rect x="469.3" y="496.37" width="2.1" height="2.1" fill="#000" transform="rotate(45 470.35 497.42)"/>
<rect x="470.63" y="499.63" width="2.1" height="2.1" fill="#000" transform="rotate(45 471.68 500.68)"/>
<rect x="471.96" y="501.9" width="2.1" height="2.1" fill="#000" transform="rotate(45 473.01 502.95)"/>
<rect x="473.28" y="504.18" width="2.1" height="2.1" fill="#000" transform="rotate(45 474.33 505.23)"/>
<rect x="474.61" y="505.93" width="2.1" height="2.1" fill="#000" transform="rotate(45 475.66 506.98)"/>
<rect x="475.94" y="507.29" width="2.1" height="2.1" fill="#000" transform="rotate(45 476.99 508.34)"/>
<rect x="477.26" y="508.64" width="2.1" height="2.1" fill="#000" transform="rotate(45 478.31 509.69)"/>
<rect x="478.59" y="509.77" width="2.1" height="2.1" fill="#000" transform="rotate(45 479.64 510.82)"/>
<rect x="479.92" y="510.43" width="2.1" height="2.1" fill="#000" transform="rotate(45 480.97 511.48)"/>
<rect x="481.25" y="511.1" width="2.1" height="2.1" fill="#000" transform="rotate(45 482.3 512.15)"/>
<rect x="482.57" y="511.76" width="2.1" height="2.1" fill="#000" transform="rotate(45 483.62 512.81)"/>
<rect x="483.9" y="512.3" width="2.1" height="2.1" fill="#000" transform="rotate(45 484.95 513.35)"/>
<rect x="485.23" y="512.67" width="2.1" height="2.1" fill="#000" transform="rotate(45 486.28 513.72)"/>
<rect x="486.55" y="513.04" width="2.1" height="2.1" fill="#000" transform="rotate(45 487.6 514.09)"/>
<rect x="487.65" y="513.35" width="2.1" height="2.1" fill="#000" transform="rotate(45 488.7 514.4)"/>
<path d="M445,458.4 C445.8,458.47 448.28,458.47 449.8,458.8 C451.32,459.13 452.8,459.42 454.1,460.4 C455.4,461.38 456.58,462.68 457.6,464.7 C458.62,466.72 459.48,469.77 460.2,472.5 C460.92,475.23 461.33,478.22 461.9,481.1 C462.47,483.98 462.88,486.92 463.6,489.8 C464.32,492.68 465.18,495.8 466.2,498.4 C467.22,501 468.4,503.37 469.7,505.4 C471,507.43 472.42,509.3 474,510.6 C475.58,511.9 477.32,512.57 479.2,513.2 C481.08,513.83 484.28,514.2 485.3,514.4" fill="none" stroke="#d8141c" stroke-width="1.4" stroke-linejoin="round" />
<path d="M446.33,457.21 l1.15,2.0 h-2.3 z" fill="#d8141c"/>
<path d="M447.65,457.32 l1.15,2.0 h-2.3 z" fill="#d8141c"/>
<path d="M448.98,457.43 l1.15,2.0 h-2.3 z" fill="#d8141c"/>
<path d="M450.31,457.69 l1.15,2.0 h-2.3 z" fill="#d8141c"/>
<path d="M451.63,458.18 l1.15,2.0 h-2.3 z" fill="#d8141c"/>
<path d="M452.96,458.68 l1.15,2.0 h-2.3 z" fill="#d8141c"/>
<path d="M454.29,459.33 l1.15,2.0 h-2.3 z" fill="#d8141c"/>
<path d="M455.62,460.96 l1.15,2.0 h-2.3 z" fill="#d8141c"/>
<path d="M456.94,462.59 l1.15,2.0 h-2.3 z" fill="#d8141c"/>
<path d="M458.27,465.41 l1.15,2.0 h-2.3 z" fill="#d8141c"/>
<path d="M459.6,469.39 l1.15,2.0 h-2.3 z" fill="#d8141c"/>
<path d="M460.92,474.86 l1.15,2.0 h-2.3 z" fill="#d8141c"/>
<path d="M462.25,481.6 l1.15,2.0 h-2.3 z" fill="#d8141c"/>
<path d="M463.58,488.39 l1.15,2.0 h-2.3 z" fill="#d8141c"/>
<path d="M464.9,492.82 l1.15,2.0 h-2.3 z" fill="#d8141c"/>
<path d="M466.23,497.16 l1.15,2.0 h-2.3 z" fill="#d8141c"/>
<path d="M467.56,499.82 l1.15,2.0 h-2.3 z" fill="#d8141c"/>
<path d="M468.89,502.47 l1.15,2.0 h-2.3 z" fill="#d8141c"/>
<path d="M470.21,504.72 l1.15,2.0 h-2.3 z" fill="#d8141c"/>
<path d="M471.54,506.33 l1.15,2.0 h-2.3 z" fill="#d8141c"/>
<path d="M472.87,507.93 l1.15,2.0 h-2.3 z" fill="#d8141c"/>
<path d="M474.19,509.4 l1.15,2.0 h-2.3 z" fill="#d8141c"/>
<path d="M475.52,510.06 l1.15,2.0 h-2.3 z" fill="#d8141c"/>
<path d="M476.85,510.72 l1.15,2.0 h-2.3 z" fill="#d8141c"/>
<path d="M478.17,511.39 l1.15,2.0 h-2.3 z" fill="#d8141c"/>
<path d="M479.5,511.96 l1.15,2.0 h-2.3 z" fill="#d8141c"/>
<path d="M480.83,512.22 l1.15,2.0 h-2.3 z" fill="#d8141c"/>
<path d="M482.16,512.48 l1.15,2.0 h-2.3 z" fill="#d8141c"/>
<path d="M483.48,512.74 l1.15,2.0 h-2.3 z" fill="#d8141c"/>
<path d="M484.81,513 l1.15,2.0 h-2.3 z" fill="#d8141c"/>
<path d="M485.3,513.1 l1.15,2.0 h-2.3 z" fill="#d8141c"/>
<line x1="468.5" y1="491.8" x2="478" y2="491.8" stroke="#000" stroke-width="1" />
<text x="475" y="491.1" font-size="6" font-family='"Liberation Sans", sans-serif' text-anchor="middle" fill="#111" stroke="#111" stroke-width="0.22" >ns</text>
<rect x="421.8" y="494" width="39.2" height="13" fill="#fff" stroke="#666" stroke-width="0.6"/>
<line x1="423.3" y1="497.9" x2="431.3" y2="497.9" stroke="#000" stroke-width="1.4" />
<rect x="426.3" y="496.9" width="2" height="2" fill="#000" transform="rotate(45 427.3 497.9)"/>
<line x1="423.3" y1="503.49" x2="431.3" y2="503.49" stroke="#d8141c" stroke-width="1.2" />
<path d="M427.3,502.19 l1.2,2 h-2.4 z" fill="#d8141c"/>
<text x="431.8" y="499.8" font-size="5.8" font-family='"Liberation Serif", serif' text-anchor="start" fill="#111" stroke="#111" stroke-width="0.08" >No exercise</text>
<text x="431.8" y="505.39" font-size="5.8" font-family='"Liberation Serif", serif' text-anchor="start" fill="#111" stroke="#111" stroke-width="0.08" >Exercise</text>
<text x="461.1" y="540.75" font-size="5.8" font-family='"Liberation Sans", sans-serif' text-anchor="middle" fill="#222" stroke="#222" stroke-width="0.22" >w1118+8%salt</text>
<rect x="430.5" y="548.25" width="49.5" height="15" fill="#ec1c24" stroke="none" stroke-width="0"/>
<rect x="430.5" y="566.25" width="52" height="14.5" fill="#000" stroke="none" stroke-width="0"/>
<line x1="480" y1="555.75" x2="482.2" y2="555.75" stroke="#333" stroke-width="0.6" />
<line x1="482.2" y1="554.95" x2="482.2" y2="556.55" stroke="#333" stroke-width="0.6" />
<line x1="482.5" y1="573.5" x2="484.7" y2="573.5" stroke="#333" stroke-width="0.6" />
<line x1="484.7" y1="572.7" x2="484.7" y2="574.3" stroke="#333" stroke-width="0.6" />
<line x1="430.5" y1="536.25" x2="430.5" y2="592" stroke="#222" stroke-width="0.8" />
<line x1="430.5" y1="592" x2="494.25" y2="592" stroke="#222" stroke-width="0.8" />
<line x1="430.5" y1="592" x2="430.5" y2="593.3" stroke="#333" stroke-width="0.6" />
<text x="430.5" y="601.15" font-size="5.6" font-family='"Liberation Serif", serif' text-anchor="middle" fill="#333" stroke="#333" stroke-width="0.08" >0</text>
<line x1="441.12" y1="592" x2="441.12" y2="593.3" stroke="#333" stroke-width="0.6" />
<text x="441.12" y="601.15" font-size="5.6" font-family='"Liberation Serif", serif' text-anchor="middle" fill="#333" stroke="#333" stroke-width="0.08" >10</text>
<line x1="451.74" y1="592" x2="451.74" y2="593.3" stroke="#333" stroke-width="0.6" />
<text x="451.74" y="601.15" font-size="5.6" font-family='"Liberation Serif", serif' text-anchor="middle" fill="#333" stroke="#333" stroke-width="0.08" >20</text>
<line x1="462.36" y1="592" x2="462.36" y2="593.3" stroke="#333" stroke-width="0.6" />
<text x="462.36" y="601.15" font-size="5.6" font-family='"Liberation Serif", serif' text-anchor="middle" fill="#333" stroke="#333" stroke-width="0.08" >30</text>
<line x1="472.98" y1="592" x2="472.98" y2="593.3" stroke="#333" stroke-width="0.6" />
<text x="472.98" y="601.15" font-size="5.6" font-family='"Liberation Serif", serif' text-anchor="middle" fill="#333" stroke="#333" stroke-width="0.08" >40</text>
<line x1="483.6" y1="592" x2="483.6" y2="593.3" stroke="#333" stroke-width="0.6" />
<text x="483.6" y="601.15" font-size="5.6" font-family='"Liberation Serif", serif' text-anchor="middle" fill="#333" stroke="#333" stroke-width="0.08" >50</text>
<line x1="494.22" y1="592" x2="494.22" y2="593.3" stroke="#333" stroke-width="0.6" />
<text x="494.22" y="601.15" font-size="5.6" font-family='"Liberation Serif", serif' text-anchor="middle" fill="#333" stroke="#333" stroke-width="0.08" >60</text>
<text x="463" y="607" font-size="5.6" font-family='"Liberation Serif", serif' text-anchor="middle" fill="#222" stroke="#222" stroke-width="0.08" >Average lifespan(day)</text>
<text x="428" y="557.75" font-size="5.9" font-family='"Liberation Serif", serif' text-anchor="end" fill="#222" stroke="#222" stroke-width="0.08" >Exercise</text>
<text x="428" y="575.75" font-size="5.9" font-family='"Liberation Serif", serif' text-anchor="end" fill="#222" stroke="#222" stroke-width="0.08" >No exercise</text>
<line x1="0" y1="0.85" x2="520" y2="0.85" stroke="#111" stroke-width="1.7" />
<line x1="0.7" y1="0" x2="0.7" y2="616" stroke="#111" stroke-width="1.4" />
<line x1="518.3" y1="0" x2="518.3" y2="614.5" stroke="#111" stroke-width="1.5" />
<line x1="0" y1="112" x2="519" y2="112" stroke="#111" stroke-width="1.8" />
<line x1="0" y1="221" x2="519" y2="221" stroke="#111" stroke-width="1.8" />
<line x1="0" y1="326" x2="519" y2="326" stroke="#111" stroke-width="1.8" />
<line x1="0" y1="438.7" x2="519" y2="438.7" stroke="#111" stroke-width="2" />
<line x1="0" y1="613.3" x2="519" y2="613.3" stroke="#111" stroke-width="2" />
<line x1="122.8" y1="438" x2="122.8" y2="614" stroke="#111" stroke-width="1.6" />
<line x1="250.4" y1="438" x2="250.4" y2="614" stroke="#111" stroke-width="1.6" />
<line x1="377.8" y1="438" x2="377.8" y2="614" stroke="#111" stroke-width="1.6" />
</svg></body></html>
